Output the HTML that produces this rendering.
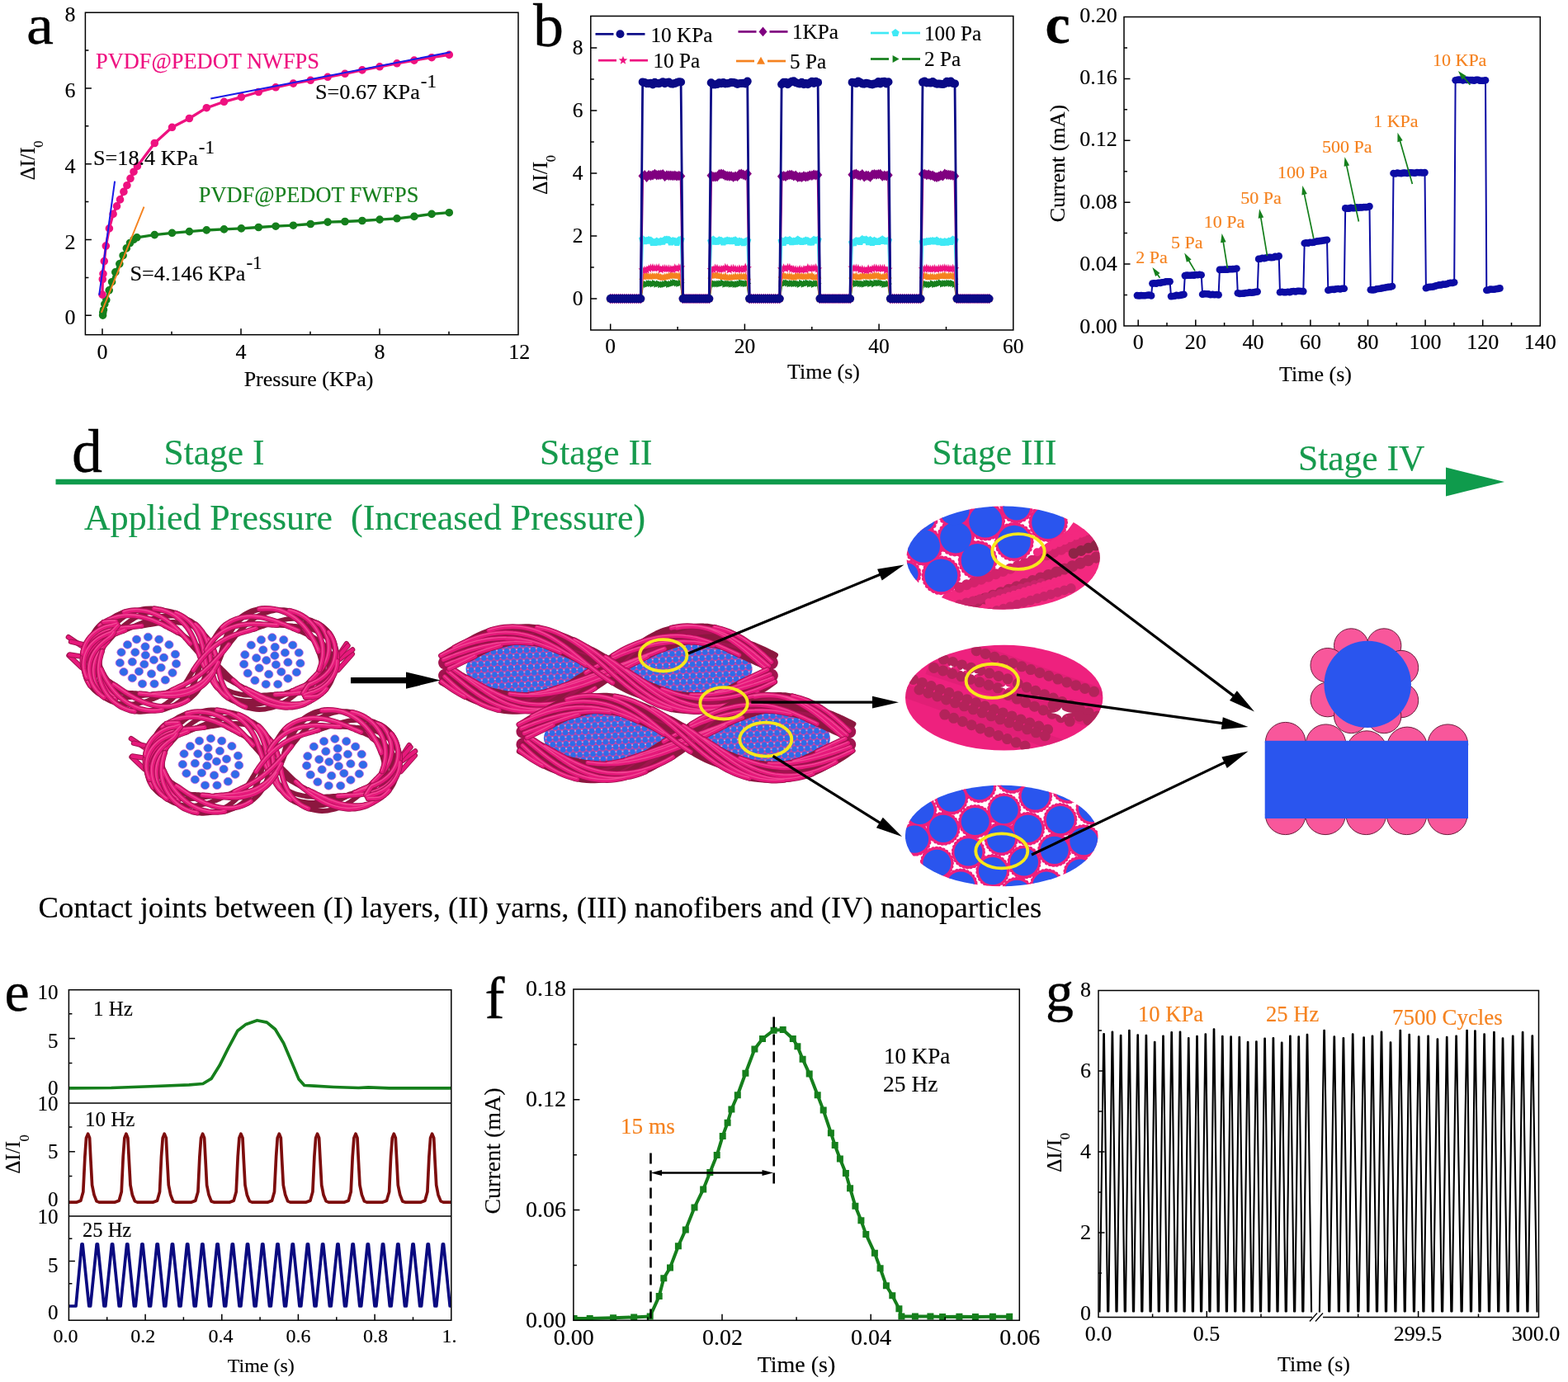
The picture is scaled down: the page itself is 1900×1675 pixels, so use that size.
<!DOCTYPE html>
<html lang="en"><head><meta charset="utf-8"><title>Figure</title>
<style>html,body{margin:0;padding:0;background:#fff}body{width:1900px;height:1675px}svg{display:block}text{font-family:"Liberation Serif","DejaVu Serif",serif;white-space:pre}</style>
</head><body>
<svg width="1900" height="1675" viewBox="0 0 1900 1675">
<rect width="1900" height="1675" fill="#fff"/>
<g id="pa">
<polyline points="124.6,382.1 124.8,378.7 125.5,375.4 126.8,368.6 128.8,363.6 132.2,351.8 135.6,341.7 139.8,329.9 144.8,319.8 149.1,309.7 153.3,300.9 157.5,294.5 162,290.3 165.9,287.8 187.3,284.6 208.5,282.3 229.4,280.6 250.3,278.9 271.5,277.9 292.4,276.9 313.3,275.5 334.1,274.2 355.4,273.2 376.3,271.5 397.1,269.1 418,268.5 438.9,267.5 460.1,266.1 481,264.8 501.9,262.4 523.1,259.4 544.3,257.7" fill="none" stroke="#157f1c" stroke-width="3.3" stroke-linejoin="round" />
<path d="M124.6 382.1m-4.8 0a4.8 4.8 0 1 0 9.6 0a4.8 4.8 0 1 0 -9.6 0M124.8 378.7m-4.8 0a4.8 4.8 0 1 0 9.6 0a4.8 4.8 0 1 0 -9.6 0M125.5 375.4m-4.8 0a4.8 4.8 0 1 0 9.6 0a4.8 4.8 0 1 0 -9.6 0M126.8 368.6m-4.8 0a4.8 4.8 0 1 0 9.6 0a4.8 4.8 0 1 0 -9.6 0M128.8 363.6m-4.8 0a4.8 4.8 0 1 0 9.6 0a4.8 4.8 0 1 0 -9.6 0M132.2 351.8m-4.8 0a4.8 4.8 0 1 0 9.6 0a4.8 4.8 0 1 0 -9.6 0M135.6 341.7m-4.8 0a4.8 4.8 0 1 0 9.6 0a4.8 4.8 0 1 0 -9.6 0M139.8 329.9m-4.8 0a4.8 4.8 0 1 0 9.6 0a4.8 4.8 0 1 0 -9.6 0M144.8 319.8m-4.8 0a4.8 4.8 0 1 0 9.6 0a4.8 4.8 0 1 0 -9.6 0M149.1 309.7m-4.8 0a4.8 4.8 0 1 0 9.6 0a4.8 4.8 0 1 0 -9.6 0M153.3 300.9m-4.8 0a4.8 4.8 0 1 0 9.6 0a4.8 4.8 0 1 0 -9.6 0M157.5 294.5m-4.8 0a4.8 4.8 0 1 0 9.6 0a4.8 4.8 0 1 0 -9.6 0M162 290.3m-4.8 0a4.8 4.8 0 1 0 9.6 0a4.8 4.8 0 1 0 -9.6 0M165.9 287.8m-4.8 0a4.8 4.8 0 1 0 9.6 0a4.8 4.8 0 1 0 -9.6 0M187.3 284.6m-4.8 0a4.8 4.8 0 1 0 9.6 0a4.8 4.8 0 1 0 -9.6 0M208.5 282.3m-4.8 0a4.8 4.8 0 1 0 9.6 0a4.8 4.8 0 1 0 -9.6 0M229.4 280.6m-4.8 0a4.8 4.8 0 1 0 9.6 0a4.8 4.8 0 1 0 -9.6 0M250.3 278.9m-4.8 0a4.8 4.8 0 1 0 9.6 0a4.8 4.8 0 1 0 -9.6 0M271.5 277.9m-4.8 0a4.8 4.8 0 1 0 9.6 0a4.8 4.8 0 1 0 -9.6 0M292.4 276.9m-4.8 0a4.8 4.8 0 1 0 9.6 0a4.8 4.8 0 1 0 -9.6 0M313.3 275.5m-4.8 0a4.8 4.8 0 1 0 9.6 0a4.8 4.8 0 1 0 -9.6 0M334.1 274.2m-4.8 0a4.8 4.8 0 1 0 9.6 0a4.8 4.8 0 1 0 -9.6 0M355.4 273.2m-4.8 0a4.8 4.8 0 1 0 9.6 0a4.8 4.8 0 1 0 -9.6 0M376.3 271.5m-4.8 0a4.8 4.8 0 1 0 9.6 0a4.8 4.8 0 1 0 -9.6 0M397.1 269.1m-4.8 0a4.8 4.8 0 1 0 9.6 0a4.8 4.8 0 1 0 -9.6 0M418 268.5m-4.8 0a4.8 4.8 0 1 0 9.6 0a4.8 4.8 0 1 0 -9.6 0M438.9 267.5m-4.8 0a4.8 4.8 0 1 0 9.6 0a4.8 4.8 0 1 0 -9.6 0M460.1 266.1m-4.8 0a4.8 4.8 0 1 0 9.6 0a4.8 4.8 0 1 0 -9.6 0M481 264.8m-4.8 0a4.8 4.8 0 1 0 9.6 0a4.8 4.8 0 1 0 -9.6 0M501.9 262.4m-4.8 0a4.8 4.8 0 1 0 9.6 0a4.8 4.8 0 1 0 -9.6 0M523.1 259.4m-4.8 0a4.8 4.8 0 1 0 9.6 0a4.8 4.8 0 1 0 -9.6 0M544.3 257.7m-4.8 0a4.8 4.8 0 1 0 9.6 0a4.8 4.8 0 1 0 -9.6 0" fill="#157f1c"/>
<polyline points="124,357.1 124.3,338.5 125,331.8 126.3,316.6 128.3,298.1 132.4,276.9 137.1,259.4 141.5,249.9 145.5,241.9 149.9,232.4 153.9,224.7 158,216.3 162,208.2 166.4,201.4 187.3,173.5 208.5,154.3 229.4,143.5 250.3,130.7 271.5,123.3 292.4,117.6 313.3,111.5 334.1,105.8 355.4,101.1 376.3,97.3 397.1,93.3 418,89.3 438.9,84.9 460.1,80.8 481,76.8 501.9,73.1 523.1,69.7 544.3,66.4" fill="none" stroke="#ee1180" stroke-width="3.3" stroke-linejoin="round" />
<path d="M124 357.1m-4.8 0a4.8 4.8 0 1 0 9.6 0a4.8 4.8 0 1 0 -9.6 0M124.3 338.5m-4.8 0a4.8 4.8 0 1 0 9.6 0a4.8 4.8 0 1 0 -9.6 0M125 331.8m-4.8 0a4.8 4.8 0 1 0 9.6 0a4.8 4.8 0 1 0 -9.6 0M126.3 316.6m-4.8 0a4.8 4.8 0 1 0 9.6 0a4.8 4.8 0 1 0 -9.6 0M128.3 298.1m-4.8 0a4.8 4.8 0 1 0 9.6 0a4.8 4.8 0 1 0 -9.6 0M132.4 276.9m-4.8 0a4.8 4.8 0 1 0 9.6 0a4.8 4.8 0 1 0 -9.6 0M137.1 259.4m-4.8 0a4.8 4.8 0 1 0 9.6 0a4.8 4.8 0 1 0 -9.6 0M141.5 249.9m-4.8 0a4.8 4.8 0 1 0 9.6 0a4.8 4.8 0 1 0 -9.6 0M145.5 241.9m-4.8 0a4.8 4.8 0 1 0 9.6 0a4.8 4.8 0 1 0 -9.6 0M149.9 232.4m-4.8 0a4.8 4.8 0 1 0 9.6 0a4.8 4.8 0 1 0 -9.6 0M153.9 224.7m-4.8 0a4.8 4.8 0 1 0 9.6 0a4.8 4.8 0 1 0 -9.6 0M158 216.3m-4.8 0a4.8 4.8 0 1 0 9.6 0a4.8 4.8 0 1 0 -9.6 0M162 208.2m-4.8 0a4.8 4.8 0 1 0 9.6 0a4.8 4.8 0 1 0 -9.6 0M166.4 201.4m-4.8 0a4.8 4.8 0 1 0 9.6 0a4.8 4.8 0 1 0 -9.6 0M187.3 173.5m-4.8 0a4.8 4.8 0 1 0 9.6 0a4.8 4.8 0 1 0 -9.6 0M208.5 154.3m-4.8 0a4.8 4.8 0 1 0 9.6 0a4.8 4.8 0 1 0 -9.6 0M229.4 143.5m-4.8 0a4.8 4.8 0 1 0 9.6 0a4.8 4.8 0 1 0 -9.6 0M250.3 130.7m-4.8 0a4.8 4.8 0 1 0 9.6 0a4.8 4.8 0 1 0 -9.6 0M271.5 123.3m-4.8 0a4.8 4.8 0 1 0 9.6 0a4.8 4.8 0 1 0 -9.6 0M292.4 117.6m-4.8 0a4.8 4.8 0 1 0 9.6 0a4.8 4.8 0 1 0 -9.6 0M313.3 111.5m-4.8 0a4.8 4.8 0 1 0 9.6 0a4.8 4.8 0 1 0 -9.6 0M334.1 105.8m-4.8 0a4.8 4.8 0 1 0 9.6 0a4.8 4.8 0 1 0 -9.6 0M355.4 101.1m-4.8 0a4.8 4.8 0 1 0 9.6 0a4.8 4.8 0 1 0 -9.6 0M376.3 97.3m-4.8 0a4.8 4.8 0 1 0 9.6 0a4.8 4.8 0 1 0 -9.6 0M397.1 93.3m-4.8 0a4.8 4.8 0 1 0 9.6 0a4.8 4.8 0 1 0 -9.6 0M418 89.3m-4.8 0a4.8 4.8 0 1 0 9.6 0a4.8 4.8 0 1 0 -9.6 0M438.9 84.9m-4.8 0a4.8 4.8 0 1 0 9.6 0a4.8 4.8 0 1 0 -9.6 0M460.1 80.8m-4.8 0a4.8 4.8 0 1 0 9.6 0a4.8 4.8 0 1 0 -9.6 0M481 76.8m-4.8 0a4.8 4.8 0 1 0 9.6 0a4.8 4.8 0 1 0 -9.6 0M501.9 73.1m-4.8 0a4.8 4.8 0 1 0 9.6 0a4.8 4.8 0 1 0 -9.6 0M523.1 69.7m-4.8 0a4.8 4.8 0 1 0 9.6 0a4.8 4.8 0 1 0 -9.6 0M544.3 66.4m-4.8 0a4.8 4.8 0 1 0 9.6 0a4.8 4.8 0 1 0 -9.6 0" fill="#ee1180"/>
<line x1="120.2" y1="357.7" x2="139.1" y2="219.6" stroke="#1a1ae6" stroke-width="2.0" />
<line x1="255.3" y1="119.6" x2="545.7" y2="63.3" stroke="#1a1ae6" stroke-width="2.0" />
<line x1="122.9" y1="378.9" x2="174.5" y2="250.6" stroke="#f5821f" stroke-width="1.9" />
<rect x="103.4" y="15.2" width="524.6" height="390.5" fill="none" stroke="#000" stroke-width="1.5"/>
<path d="M124 405.7v-7.5M292 405.7v-7.5M460 405.7v-7.5" stroke="#000" stroke-width="1.5" fill="none"/>
<path d="M208 405.7v-4M376 405.7v-4M544 405.7v-4" stroke="#000" stroke-width="1.5" fill="none"/>
<path d="M103.4 382.3h7.5M103.4 290.5h7.5M103.4 198.7h7.5M103.4 106.9h7.5" stroke="#000" stroke-width="1.5" fill="none"/>
<path d="M103.4 336.4h4M103.4 244.6h4M103.4 152.8h4M103.4 61h4" stroke="#000" stroke-width="1.5" fill="none"/>
<text x="124" y="434.5" font-size="26" fill="#000" text-anchor="middle" stroke="#000" stroke-width="0.15" >0</text>
<text x="292" y="434.5" font-size="26" fill="#000" text-anchor="middle" stroke="#000" stroke-width="0.15" >4</text>
<text x="460" y="434.5" font-size="26" fill="#000" text-anchor="middle" stroke="#000" stroke-width="0.15" >8</text>
<text x="629.2" y="434.5" font-size="26" fill="#000" text-anchor="middle" stroke="#000" stroke-width="0.15" >12</text>
<text x="91.6" y="393.3" font-size="26" fill="#000" text-anchor="end" stroke="#000" stroke-width="0.15" >0</text>
<text x="91.6" y="301.5" font-size="26" fill="#000" text-anchor="end" stroke="#000" stroke-width="0.15" >2</text>
<text x="91.6" y="209.7" font-size="26" fill="#000" text-anchor="end" stroke="#000" stroke-width="0.15" >4</text>
<text x="91.6" y="117.9" font-size="26" fill="#000" text-anchor="end" stroke="#000" stroke-width="0.15" >6</text>
<text x="91.6" y="26.1" font-size="26" fill="#000" text-anchor="end" stroke="#000" stroke-width="0.15" >8</text>
<text x="374" y="468" font-size="26" fill="#000" text-anchor="middle" stroke="#000" stroke-width="0.15" >Pressure (KPa)</text>
<text transform="translate(42.3 194.5) rotate(-90)" font-size="25.5" fill="#000" stroke="#000" stroke-width="0.15" text-anchor="middle">ΔI/I<tspan font-size="16.5" dy="10" dx="-0.5">0</tspan></text>
<text x="32" y="52.5" font-size="68" fill="#000" text-anchor="start" stroke="#000" stroke-width="0.3" textLength="33" lengthAdjust="spacingAndGlyphs">a</text>
<text x="116" y="82.5" font-size="26.4" fill="#ee1180" text-anchor="start" stroke="#ee1180" stroke-width="0.15" >PVDF@PEDOT NWFPS</text>
<text x="240.8" y="245" font-size="26.4" fill="#157f1c" text-anchor="start" stroke="#157f1c" stroke-width="0.15" >PVDF@PEDOT FWFPS</text>
<text x="382" y="119.5" font-size="26.2" fill="#000" text-anchor="start" stroke="#000" stroke-width="0.15" >S=0.67 KPa<tspan dy="-13.5" dx="1" font-size="23">-1</tspan></text>
<text x="113" y="199.5" font-size="26.2" fill="#000" text-anchor="start" stroke="#000" stroke-width="0.15" >S=18.4 KPa<tspan dy="-13.5" dx="1" font-size="23">-1</tspan></text>
<text x="157.5" y="339.5" font-size="26.2" fill="#000" text-anchor="start" stroke="#000" stroke-width="0.15" >S=4.146 KPa<tspan dy="-13.5" dx="1" font-size="23">-1</tspan></text>
</g>
<g id="pb">
<defs><marker id="mrtri" markerWidth="16" markerHeight="16" refX="8" refY="8" markerUnits="userSpaceOnUse"><path d="M4.6 3.6L12.6 8L4.6 12.4z" fill="#157f1c"/></marker><marker id="mtri" markerWidth="16" markerHeight="16" refX="8" refY="8" markerUnits="userSpaceOnUse"><path d="M3.6 11.4L8 3.4L12.4 11.4z" fill="#f5821f"/></marker><marker id="mstar" markerWidth="16" markerHeight="16" refX="8" refY="8" markerUnits="userSpaceOnUse"><path d="M8 2.5L9.3 6.1L13.3 6.3L10.2 8.7L11.2 12.5L8 10.3L4.8 12.5L5.8 8.7L2.7 6.3L6.7 6.1z" fill="#ee1180"/></marker><marker id="mpent" markerWidth="16" markerHeight="16" refX="8" refY="8" markerUnits="userSpaceOnUse"><path d="M8 3L12.7 6.5L10.9 12L5.1 12L3.3 6.5z" fill="#3fe9f5"/></marker><marker id="mdia" markerWidth="16" markerHeight="16" refX="8" refY="8" markerUnits="userSpaceOnUse"><path d="M2.8 8l5.2 -6.2l5.2 6.2l-5.2 6.2z" fill="#800080"/></marker><marker id="mcirc" markerWidth="16" markerHeight="16" refX="8" refY="8" markerUnits="userSpaceOnUse"><path d="M3 8a5 5 0 1 0 10 0a5 5 0 1 0 -10 0z" fill="#0a0a86"/></marker></defs>
<polyline points="739.7,362 742.1,362 744.6,362 747,362 749.5,362 751.9,362 754.3,362 756.8,362 759.2,362 761.7,362 764.1,362 766.5,362 769,362 771.4,362 773.9,362 776.3,362 778.7,344.9 781.2,343.9 783.6,344.7 786.1,343.6 788.5,343.7 791,344.1 793.4,343.3 795.8,344.3 798.3,343.8 800.7,344.8 803.2,344.9 805.6,344.4 808,343.5 810.5,344.6 812.9,344.2 815.4,343.2 817.8,342.5 820.2,343.2 822.7,343.7 825.1,342.8 827.6,362 830,362 832.4,362 834.9,362 837.3,362 839.8,362 842.2,362 844.6,362 847.1,362 849.5,362 852,362 854.4,362 856.8,362 859.3,362 861.7,345 864.2,343.3 866.6,344.1 869,344.1 871.5,344 873.9,343.7 876.4,342.9 878.8,344.3 881.2,343.8 883.7,343.9 886.1,344.4 888.6,344.1 891,344.7 893.5,344.5 895.9,344 898.3,343 900.8,343.5 903.2,343.8 905.7,343.5 908.1,362 910.5,362 913,362 915.4,362 917.9,362 920.3,362 922.7,362 925.2,362 927.6,362 930.1,362 932.5,362 934.9,362 937.4,362 939.8,362 942.3,362 944.7,362 947.1,343.8 949.6,343.8 952,342.8 954.5,343 956.9,343.9 959.3,343.5 961.8,343.9 964.2,343.5 966.7,343.8 969.1,344.5 971.5,343.1 974,344.4 976.4,343.6 978.9,342.9 981.3,344 983.8,343.5 986.2,344.5 988.6,343.6 991.1,343.7 993.5,362 996,362 998.4,362 1000.8,362 1003.3,362 1005.7,362 1008.2,362 1010.6,362 1013,362 1015.5,362 1017.9,362 1020.4,362 1022.8,362 1025.2,362 1027.7,362 1030.1,362 1032.6,343.2 1035,342.6 1037.4,343.8 1039.9,343.3 1042.3,343.8 1044.8,344 1047.2,344.3 1049.6,343.5 1052.1,343.2 1054.5,343.8 1057,343.2 1059.4,344.1 1061.8,342.9 1064.3,343.2 1066.7,342.8 1069.2,343.3 1071.6,344.5 1074,344.4 1076.5,343.9 1078.9,362 1081.4,362 1083.8,362 1086.3,362 1088.7,362 1091.1,362 1093.6,362 1096,362 1098.5,362 1100.9,362 1103.3,362 1105.8,362 1108.2,362 1110.7,362 1113.1,362 1115.5,362 1118,344.3 1120.4,343.7 1122.9,344.5 1125.3,344.8 1127.7,345 1130.2,343.7 1132.6,344.7 1135.1,344.2 1137.5,343.7 1139.9,342.7 1142.4,344.1 1144.8,343.5 1147.3,343.6 1149.7,343.2 1152.1,343.5 1154.6,343.5 1157,344.6 1159.5,362 1161.9,362 1164.3,362 1166.8,362 1169.2,362 1171.7,362 1174.1,362 1176.5,362 1179,362 1181.4,362 1183.9,362 1186.3,362 1188.8,362 1191.2,362 1193.6,362 1196.1,362 1198.5,362" fill="none" stroke="#157f1c" stroke-width="2.8" stroke-linejoin="round" marker-start="url(#mrtri)" marker-mid="url(#mrtri)" marker-end="url(#mrtri)"/>
<polyline points="739.7,362 742.1,362 744.6,362 747,362 749.5,362 751.9,362 754.3,362 756.8,362 759.2,362 761.7,362 764.1,362 766.5,362 769,362 771.4,362 773.9,362 776.3,362 778.7,335.4 781.2,334 783.6,333.5 786.1,335 788.5,334.8 791,334.7 793.4,334.9 795.8,334.6 798.3,334.7 800.7,335.7 803.2,336.3 805.6,335.3 808,335.2 810.5,334.4 812.9,333.2 815.4,333.7 817.8,334.1 820.2,334 822.7,334.2 825.1,335.9 827.6,362 830,362 832.4,362 834.9,362 837.3,362 839.8,362 842.2,362 844.6,362 847.1,362 849.5,362 852,362 854.4,362 856.8,362 859.3,362 861.7,334 864.2,333.9 866.6,333.4 869,333.4 871.5,334.3 873.9,334.5 876.4,335.5 878.8,334.6 881.2,336.1 883.7,336.2 886.1,335.8 888.6,335.7 891,334.9 893.5,335.3 895.9,335.2 898.3,334.9 900.8,335.2 903.2,334.9 905.7,335.9 908.1,362 910.5,362 913,362 915.4,362 917.9,362 920.3,362 922.7,362 925.2,362 927.6,362 930.1,362 932.5,362 934.9,362 937.4,362 939.8,362 942.3,362 944.7,362 947.1,333.4 949.6,333.8 952,334.9 954.5,334.8 956.9,334.9 959.3,335.2 961.8,336 964.2,334.4 966.7,334 969.1,335 971.5,334.6 974,335.2 976.4,335 978.9,334.4 981.3,334.8 983.8,333.8 986.2,335.6 988.6,336.2 991.1,334.2 993.5,362 996,362 998.4,362 1000.8,362 1003.3,362 1005.7,362 1008.2,362 1010.6,362 1013,362 1015.5,362 1017.9,362 1020.4,362 1022.8,362 1025.2,362 1027.7,362 1030.1,362 1032.6,334 1035,335 1037.4,334.4 1039.9,335.9 1042.3,335 1044.8,334.1 1047.2,334.3 1049.6,334.5 1052.1,335.2 1054.5,334.6 1057,334.9 1059.4,333.5 1061.8,334.2 1064.3,333.9 1066.7,335.2 1069.2,335.7 1071.6,334.5 1074,334 1076.5,334.1 1078.9,362 1081.4,362 1083.8,362 1086.3,362 1088.7,362 1091.1,362 1093.6,362 1096,362 1098.5,362 1100.9,362 1103.3,362 1105.8,362 1108.2,362 1110.7,362 1113.1,362 1115.5,362 1118,333.8 1120.4,334.1 1122.9,334.5 1125.3,335.8 1127.7,335.1 1130.2,335.3 1132.6,335.7 1135.1,335.4 1137.5,334.6 1139.9,334.6 1142.4,333.8 1144.8,333.4 1147.3,334.9 1149.7,334.1 1152.1,334.1 1154.6,334.1 1157,335.3 1159.5,362 1161.9,362 1164.3,362 1166.8,362 1169.2,362 1171.7,362 1174.1,362 1176.5,362 1179,362 1181.4,362 1183.9,362 1186.3,362 1188.8,362 1191.2,362 1193.6,362 1196.1,362 1198.5,362" fill="none" stroke="#f5821f" stroke-width="2.8" stroke-linejoin="round" marker-start="url(#mtri)" marker-mid="url(#mtri)" marker-end="url(#mtri)"/>
<polyline points="739.7,362 742.1,362 744.6,362 747,362 749.5,362 751.9,362 754.3,362 756.8,362 759.2,362 761.7,362 764.1,362 766.5,362 769,362 771.4,362 773.9,362 776.3,362 778.7,327.2 781.2,327.4 783.6,327.3 786.1,325.8 788.5,324.7 791,324.5 793.4,325.3 795.8,324.8 798.3,324.6 800.7,326.9 803.2,325.7 805.6,325.4 808,325.8 810.5,325.8 812.9,326.2 815.4,326.7 817.8,324.7 820.2,325.7 822.7,324.4 825.1,324.2 827.6,362 830,362 832.4,362 834.9,362 837.3,362 839.8,362 842.2,362 844.6,362 847.1,362 849.5,362 852,362 854.4,362 856.8,362 859.3,362 861.7,326.9 864.2,326.8 866.6,325 869,325.2 871.5,326.4 873.9,326.3 876.4,326.2 878.8,324.3 881.2,324.9 883.7,327.1 886.1,325.6 888.6,325.3 891,326.1 893.5,326.6 895.9,325.7 898.3,326.5 900.8,326.6 903.2,323.9 905.7,325 908.1,362 910.5,362 913,362 915.4,362 917.9,362 920.3,362 922.7,362 925.2,362 927.6,362 930.1,362 932.5,362 934.9,362 937.4,362 939.8,362 942.3,362 944.7,362 947.1,326.2 949.6,324.7 952,325.7 954.5,324.2 956.9,324.3 959.3,326.2 961.8,326.4 964.2,326.7 966.7,327.2 969.1,326.3 971.5,327.2 974,326.5 976.4,326.9 978.9,324.4 981.3,325.7 983.8,325.3 986.2,325.2 988.6,324.6 991.1,326.3 993.5,362 996,362 998.4,362 1000.8,362 1003.3,362 1005.7,362 1008.2,362 1010.6,362 1013,362 1015.5,362 1017.9,362 1020.4,362 1022.8,362 1025.2,362 1027.7,362 1030.1,362 1032.6,324.4 1035,325.3 1037.4,325.1 1039.9,325.3 1042.3,327 1044.8,326.3 1047.2,327.3 1049.6,327.9 1052.1,325.7 1054.5,327.2 1057,326 1059.4,324.9 1061.8,325.1 1064.3,325.7 1066.7,325.3 1069.2,325.6 1071.6,325.3 1074,327.5 1076.5,326.4 1078.9,362 1081.4,362 1083.8,362 1086.3,362 1088.7,362 1091.1,362 1093.6,362 1096,362 1098.5,362 1100.9,362 1103.3,362 1105.8,362 1108.2,362 1110.7,362 1113.1,362 1115.5,362 1118,325.9 1120.4,326 1122.9,325 1125.3,326.1 1127.7,326.2 1130.2,325.9 1132.6,325.4 1135.1,326.4 1137.5,325.6 1139.9,325.5 1142.4,325.2 1144.8,324.7 1147.3,325.5 1149.7,325.6 1152.1,326.1 1154.6,325.2 1157,326 1159.5,362 1161.9,362 1164.3,362 1166.8,362 1169.2,362 1171.7,362 1174.1,362 1176.5,362 1179,362 1181.4,362 1183.9,362 1186.3,362 1188.8,362 1191.2,362 1193.6,362 1196.1,362 1198.5,362" fill="none" stroke="#ee1180" stroke-width="2.8" stroke-linejoin="round" marker-start="url(#mstar)" marker-mid="url(#mstar)" marker-end="url(#mstar)"/>
<polyline points="739.7,362 742.1,362 744.6,362 747,362 749.5,362 751.9,362 754.3,362 756.8,362 759.2,362 761.7,362 764.1,362 766.5,362 769,362 771.4,362 773.9,362 776.3,362 778.7,289.9 781.2,292.3 783.6,291.7 786.1,291 788.5,291.6 791,294 793.4,294 795.8,292.6 798.3,293.4 800.7,292.4 803.2,292.7 805.6,290.8 808,290.6 810.5,290.7 812.9,293.5 815.4,292 817.8,292.4 820.2,293.9 822.7,291.2 825.1,290.5 827.6,362 830,362 832.4,362 834.9,362 837.3,362 839.8,362 842.2,362 844.6,362 847.1,362 849.5,362 852,362 854.4,362 856.8,362 859.3,362 861.7,292.4 864.2,290.5 866.6,292.7 869,292.8 871.5,291.3 873.9,291.7 876.4,293.6 878.8,292.3 881.2,291.6 883.7,291.9 886.1,292.3 888.6,292.1 891,291.2 893.5,293.9 895.9,292.5 898.3,293.1 900.8,294.3 903.2,293 905.7,291.7 908.1,362 910.5,362 913,362 915.4,362 917.9,362 920.3,362 922.7,362 925.2,362 927.6,362 930.1,362 932.5,362 934.9,362 937.4,362 939.8,362 942.3,362 944.7,362 947.1,292.3 949.6,294.1 952,291.3 954.5,291.9 956.9,291 959.3,293.3 961.8,292.4 964.2,292.8 966.7,290.4 969.1,292.2 971.5,293 974,292.6 976.4,291.4 978.9,291.9 981.3,293.6 983.8,293.6 986.2,290.7 988.6,291.4 991.1,290.7 993.5,362 996,362 998.4,362 1000.8,362 1003.3,362 1005.7,362 1008.2,362 1010.6,362 1013,362 1015.5,362 1017.9,362 1020.4,362 1022.8,362 1025.2,362 1027.7,362 1030.1,362 1032.6,294.2 1035,294.2 1037.4,291.9 1039.9,292.3 1042.3,293 1044.8,290 1047.2,290.9 1049.6,290.5 1052.1,293.2 1054.5,291.1 1057,294 1059.4,291.7 1061.8,293 1064.3,293.1 1066.7,291.9 1069.2,290.3 1071.6,292.1 1074,292.5 1076.5,291.4 1078.9,362 1081.4,362 1083.8,362 1086.3,362 1088.7,362 1091.1,362 1093.6,362 1096,362 1098.5,362 1100.9,362 1103.3,362 1105.8,362 1108.2,362 1110.7,362 1113.1,362 1115.5,362 1118,293.4 1120.4,293.4 1122.9,292.8 1125.3,292.8 1127.7,292.2 1130.2,292 1132.6,292.4 1135.1,291.4 1137.5,293.3 1139.9,292.9 1142.4,293.9 1144.8,293.1 1147.3,293.7 1149.7,292.5 1152.1,292.9 1154.6,290.5 1157,291.3 1159.5,362 1161.9,362 1164.3,362 1166.8,362 1169.2,362 1171.7,362 1174.1,362 1176.5,362 1179,362 1181.4,362 1183.9,362 1186.3,362 1188.8,362 1191.2,362 1193.6,362 1196.1,362 1198.5,362" fill="none" stroke="#3fe9f5" stroke-width="2.8" stroke-linejoin="round" marker-start="url(#mpent)" marker-mid="url(#mpent)" marker-end="url(#mpent)"/>
<polyline points="739.7,362 742.1,362 744.6,362 747,362 749.5,362 751.9,362 754.3,362 756.8,362 759.2,362 761.7,362 764.1,362 766.5,362 769,362 771.4,362 773.9,362 776.3,362 778.7,213.3 781.2,212.1 783.6,214.7 786.1,212.1 788.5,212.9 791,212.3 793.4,210.9 795.8,212.2 798.3,212 800.7,211.8 803.2,211.3 805.6,213.7 808,212.4 810.5,212.7 812.9,212.7 815.4,213 817.8,212.7 820.2,213.4 822.7,213 825.1,213.4 827.6,362 830,362 832.4,362 834.9,362 837.3,362 839.8,362 842.2,362 844.6,362 847.1,362 849.5,362 852,362 854.4,362 856.8,362 859.3,362 861.7,212.7 864.2,214.2 866.6,214.2 869,214 871.5,211.2 873.9,210.8 876.4,211.3 878.8,212.7 881.2,213.2 883.7,213.5 886.1,213.4 888.6,214.5 891,213.6 893.5,213.9 895.9,211.3 898.3,210.8 900.8,211.8 903.2,212.7 905.7,210.5 908.1,362 910.5,362 913,362 915.4,362 917.9,362 920.3,362 922.7,362 925.2,362 927.6,362 930.1,362 932.5,362 934.9,362 937.4,362 939.8,362 942.3,362 944.7,362 947.1,213.8 949.6,213.2 952,213.9 954.5,212.4 956.9,211.9 959.3,212 961.8,213.3 964.2,212.8 966.7,214.8 969.1,214.2 971.5,214.7 974,213.5 976.4,214.2 978.9,213.8 981.3,212.6 983.8,212.7 986.2,211.7 988.6,212.2 991.1,212 993.5,362 996,362 998.4,362 1000.8,362 1003.3,362 1005.7,362 1008.2,362 1010.6,362 1013,362 1015.5,362 1017.9,362 1020.4,362 1022.8,362 1025.2,362 1027.7,362 1030.1,362 1032.6,211.8 1035,211.3 1037.4,210.7 1039.9,212.3 1042.3,212.9 1044.8,211.2 1047.2,214.3 1049.6,212.7 1052.1,213 1054.5,214.6 1057,211.7 1059.4,211.1 1061.8,211.6 1064.3,211.1 1066.7,211 1069.2,213.5 1071.6,212.7 1074,213.2 1076.5,212.3 1078.9,362 1081.4,362 1083.8,362 1086.3,362 1088.7,362 1091.1,362 1093.6,362 1096,362 1098.5,362 1100.9,362 1103.3,362 1105.8,362 1108.2,362 1110.7,362 1113.1,362 1115.5,362 1118,210.9 1120.4,210.9 1122.9,212 1125.3,211.5 1127.7,212.6 1130.2,212.8 1132.6,214.3 1135.1,214.7 1137.5,214 1139.9,212.8 1142.4,213.3 1144.8,210.8 1147.3,211.8 1149.7,211.9 1152.1,212.3 1154.6,212.6 1157,213.4 1159.5,362 1161.9,362 1164.3,362 1166.8,362 1169.2,362 1171.7,362 1174.1,362 1176.5,362 1179,362 1181.4,362 1183.9,362 1186.3,362 1188.8,362 1191.2,362 1193.6,362 1196.1,362 1198.5,362" fill="none" stroke="#800080" stroke-width="2.8" stroke-linejoin="round" marker-start="url(#mdia)" marker-mid="url(#mdia)" marker-end="url(#mdia)"/>
<polyline points="739.7,362 742.1,362 744.6,362 747,362 749.5,362 751.9,362 754.3,362 756.8,362 759.2,362 761.7,362 764.1,362 766.5,362 769,362 771.4,362 773.9,362 776.3,362 778.7,99.4 781.2,100 783.6,101.2 786.1,101.2 788.5,100.8 791,102.4 793.4,99.8 795.8,100.9 798.3,101.2 800.7,100.5 803.2,99.2 805.6,101.3 808,100 810.5,99.6 812.9,101.4 815.4,101.7 817.8,101.1 820.2,100 822.7,99.3 825.1,99.5 827.6,362 830,362 832.4,362 834.9,362 837.3,362 839.8,362 842.2,362 844.6,362 847.1,362 849.5,362 852,362 854.4,362 856.8,362 859.3,362 861.7,100.3 864.2,102.5 866.6,102.5 869,102.1 871.5,100.2 873.9,101.2 876.4,99.9 878.8,101.4 881.2,101.2 883.7,100.7 886.1,99.7 888.6,100.1 891,100.6 893.5,102 895.9,101.3 898.3,101.1 900.8,100.7 903.2,101.4 905.7,98.6 908.1,362 910.5,362 913,362 915.4,362 917.9,362 920.3,362 922.7,362 925.2,362 927.6,362 930.1,362 932.5,362 934.9,362 937.4,362 939.8,362 942.3,362 944.7,362 947.1,102.3 949.6,99.8 952,99.7 954.5,102.2 956.9,100.3 959.3,98.8 961.8,98.3 964.2,100.1 966.7,101 969.1,101.6 971.5,99.7 974,102.3 976.4,101.1 978.9,102.2 981.3,100.6 983.8,98.8 986.2,101 988.6,98.7 991.1,99.9 993.5,362 996,362 998.4,362 1000.8,362 1003.3,362 1005.7,362 1008.2,362 1010.6,362 1013,362 1015.5,362 1017.9,362 1020.4,362 1022.8,362 1025.2,362 1027.7,362 1030.1,362 1032.6,99.8 1035,100 1037.4,101.1 1039.9,98.6 1042.3,99.8 1044.8,101.4 1047.2,101.8 1049.6,100.7 1052.1,101.2 1054.5,102 1057,102.5 1059.4,101.6 1061.8,101.3 1064.3,99.1 1066.7,101.5 1069.2,99 1071.6,98.8 1074,101.4 1076.5,99.3 1078.9,362 1081.4,362 1083.8,362 1086.3,362 1088.7,362 1091.1,362 1093.6,362 1096,362 1098.5,362 1100.9,362 1103.3,362 1105.8,362 1108.2,362 1110.7,362 1113.1,362 1115.5,362 1118,99.6 1120.4,98.6 1122.9,100.4 1125.3,100.3 1127.7,100.6 1130.2,99.1 1132.6,100.8 1135.1,101.8 1137.5,101.6 1139.9,101.8 1142.4,102.1 1144.8,101.5 1147.3,98.8 1149.7,100.4 1152.1,98.5 1154.6,101 1157,101.4 1159.5,362 1161.9,362 1164.3,362 1166.8,362 1169.2,362 1171.7,362 1174.1,362 1176.5,362 1179,362 1181.4,362 1183.9,362 1186.3,362 1188.8,362 1191.2,362 1193.6,362 1196.1,362 1198.5,362" fill="none" stroke="#0a0a86" stroke-width="2.8" stroke-linejoin="round" marker-start="url(#mcirc)" marker-mid="url(#mcirc)" marker-end="url(#mcirc)"/>
<rect x="715.8" y="19.5" width="512" height="380.5" fill="none" stroke="#000" stroke-width="1.5"/>
<path d="M739.7 400v-7.5M902.4 400v-7.5M1065.1 400v-7.5" stroke="#000" stroke-width="1.5" fill="none"/>
<path d="M821.1 400v-4M983.8 400v-4M1146.5 400v-4" stroke="#000" stroke-width="1.5" fill="none"/>
<path d="M715.8 362h7.5M715.8 286h7.5M715.8 210h7.5M715.8 134h7.5M715.8 58h7.5" stroke="#000" stroke-width="1.5" fill="none"/>
<path d="M715.8 324h4M715.8 248h4M715.8 172h4M715.8 96h4" stroke="#000" stroke-width="1.5" fill="none"/>
<text x="739.7" y="428.2" font-size="25.5" fill="#000" text-anchor="middle" stroke="#000" stroke-width="0.15" >0</text>
<text x="902.4" y="428.2" font-size="25.5" fill="#000" text-anchor="middle" stroke="#000" stroke-width="0.15" >20</text>
<text x="1065.1" y="428.2" font-size="25.5" fill="#000" text-anchor="middle" stroke="#000" stroke-width="0.15" >40</text>
<text x="1227.8" y="428.2" font-size="25.5" fill="#000" text-anchor="middle" stroke="#000" stroke-width="0.15" >60</text>
<text x="706.5" y="370.4" font-size="25.5" fill="#000" text-anchor="end" stroke="#000" stroke-width="0.15" >0</text>
<text x="706.5" y="294.4" font-size="25.5" fill="#000" text-anchor="end" stroke="#000" stroke-width="0.15" >2</text>
<text x="706.5" y="218.4" font-size="25.5" fill="#000" text-anchor="end" stroke="#000" stroke-width="0.15" >4</text>
<text x="706.5" y="142.4" font-size="25.5" fill="#000" text-anchor="end" stroke="#000" stroke-width="0.15" >6</text>
<text x="706.5" y="66.4" font-size="25.5" fill="#000" text-anchor="end" stroke="#000" stroke-width="0.15" >8</text>
<text x="998" y="458.5" font-size="26" fill="#000" text-anchor="middle" stroke="#000" stroke-width="0.15" >Time (s)</text>
<text transform="translate(663 212) rotate(-90)" font-size="25.5" fill="#000" stroke="#000" stroke-width="0.15" text-anchor="middle">ΔI/I<tspan font-size="16.5" dy="9.5" dx="-0.5">0</tspan></text>
<text x="646" y="56.4" font-size="74" fill="#000" text-anchor="start" stroke="#000" stroke-width="0.3" >b</text>
<line x1="721.5" y1="41.3" x2="743.5" y2="41.3" stroke="#0a0a86" stroke-width="2.7" />
<line x1="759.5" y1="41.3" x2="781.5" y2="41.3" stroke="#0a0a86" stroke-width="2.7" />
<path d="M746.5 41.3a5 5 0 1 0 10 0a5 5 0 1 0 -10 0z" fill="#0a0a86" stroke="none" stroke-width="0" />
<text x="788.5" y="50.5" font-size="25.2" fill="#000" text-anchor="start" stroke="#000" stroke-width="0.15" >10 KPa</text>
<line x1="894.5" y1="38.4" x2="916.5" y2="38.4" stroke="#800080" stroke-width="2.7" />
<line x1="932.5" y1="38.4" x2="954.5" y2="38.4" stroke="#800080" stroke-width="2.7" />
<path d="M919.5 38.4l5 -5.9l5 5.9l-5 5.9z" fill="#800080" stroke="none" stroke-width="0" />
<text x="960" y="47" font-size="25.2" fill="#000" text-anchor="start" stroke="#000" stroke-width="0.15" >1KPa</text>
<line x1="1055" y1="40" x2="1077" y2="40" stroke="#3fe9f5" stroke-width="2.7" />
<line x1="1093" y1="40" x2="1115" y2="40" stroke="#3fe9f5" stroke-width="2.7" />
<path d="M1085 35L1089.7 38.5L1087.9 44L1082.1 44L1080.3 38.5z" fill="#3fe9f5" stroke="none" stroke-width="0" />
<text x="1120" y="48.8" font-size="25.2" fill="#000" text-anchor="start" stroke="#000" stroke-width="0.15" >100 Pa</text>
<line x1="725" y1="73.2" x2="747" y2="73.2" stroke="#ee1180" stroke-width="2.7" />
<line x1="763" y1="73.2" x2="785" y2="73.2" stroke="#ee1180" stroke-width="2.7" />
<path d="M755 67.7L756.3 71.3L760.3 71.5L757.2 73.9L758.2 77.7L755 75.5L751.8 77.7L752.8 73.9L749.7 71.5L753.7 71.3z" fill="#ee1180" stroke="none" stroke-width="0" />
<text x="791.5" y="82" font-size="25.2" fill="#000" text-anchor="start" stroke="#000" stroke-width="0.15" >10 Pa</text>
<line x1="892" y1="74" x2="914" y2="74" stroke="#f5821f" stroke-width="2.7" />
<line x1="930" y1="74" x2="952" y2="74" stroke="#f5821f" stroke-width="2.7" />
<path d="M917 77.8L922 68.8L927 77.8z" fill="#f5821f" stroke="none" stroke-width="0" />
<text x="957" y="82.5" font-size="25.2" fill="#000" text-anchor="start" stroke="#000" stroke-width="0.15" >5 Pa</text>
<line x1="1055" y1="71.5" x2="1077" y2="71.5" stroke="#157f1c" stroke-width="2.7" />
<line x1="1093" y1="71.5" x2="1115" y2="71.5" stroke="#157f1c" stroke-width="2.7" />
<path d="M1081.6 67.1L1089.6 71.5L1081.6 75.9z" fill="#157f1c" stroke="none" stroke-width="0" />
<text x="1120" y="80" font-size="25.2" fill="#000" text-anchor="start" stroke="#000" stroke-width="0.15" >2 Pa</text>
</g>
<g id="pc">
<defs><marker id="mcc" markerWidth="12" markerHeight="12" refX="6" refY="6" markerUnits="userSpaceOnUse"><circle cx="6" cy="6" r="4.3" fill="#0c0ca4"/></marker></defs>
<polyline points="1377.9,358.1 1380.3,358.4 1382.8,358.1 1385.3,358.3 1387.7,358.3 1390.2,357.7 1392.6,357.6 1395.1,358.4 1396.4,343.6 1398.8,343.3 1401.1,343.7 1403.5,342.8 1405.9,342.9 1408.2,342.2 1410.6,342 1412.9,341.2 1415.3,341.3 1417.6,341.2 1419,359.1 1421.2,359 1423.4,358.7 1425.6,357.9 1427.8,358.3 1430.1,357.9 1432.3,357.4 1434.5,356.9 1435.8,334.1 1438,333.6 1440.2,333.8 1442.5,333.8 1444.7,333.5 1446.9,333.6 1449.1,333 1451.3,333.3 1453.5,332.8 1455.7,333.2 1457.1,356.7 1459.5,356.1 1461.9,356.2 1464.4,356.4 1466.8,357.3 1469.3,356.9 1471.7,357.2 1474.1,357 1476.6,357.4 1477.9,326.9 1480.2,326.7 1482.5,326.7 1484.8,326.6 1487.1,326.7 1489.4,326.3 1491.6,326.3 1493.9,326.1 1496.2,326 1498.5,325.5 1499.8,355.3 1502.2,355.9 1504.6,355.8 1507,355.6 1509.4,355.1 1511.8,355 1514.2,354.4 1516.6,354.8 1519,354.4 1521.4,353.9 1523.7,353.5 1525.1,313.9 1527.3,313.8 1529.6,312.7 1531.8,313.1 1534,312.5 1536.3,312 1538.5,311.9 1540.7,312.1 1543,312 1545.2,310.9 1547.4,311.2 1549.7,310.4 1551,354.2 1553.4,353.7 1555.7,354.2 1558.1,354.2 1560.5,353.7 1562.8,354.1 1565.2,353.3 1567.5,353 1569.9,353.4 1572.3,352.8 1574.6,352.8 1577,353 1579.3,353.1 1580.7,294.7 1582.9,294.2 1585.2,294.7 1587.5,293.8 1589.8,294 1592,293.6 1594.3,292.7 1596.6,292.4 1598.9,292.1 1601.1,291.9 1603.4,291.5 1605.7,291.1 1608,290.8 1609.3,351.7 1611.7,351.1 1614.2,350.8 1616.6,350.9 1619.1,350.2 1621.5,350 1624,350.5 1626.4,349.8 1628.8,349.7 1630.2,252.4 1632.4,252.7 1634.7,252.6 1637,251.9 1639.2,252.3 1641.5,252.2 1643.7,251.4 1646,251.8 1648.2,251.4 1650.5,251.5 1652.7,251 1655,251.1 1657.2,251 1659.5,250.1 1660.8,351.2 1663.2,351.4 1665.6,351.3 1668,350.2 1670.4,350 1672.8,349.7 1675.2,349.1 1677.6,348.7 1680,348.3 1682.3,347.9 1684.7,347.7 1687.1,347 1688.5,210 1690.8,210.4 1693.2,209.5 1695.6,210 1698,210.1 1700.4,209.6 1702.7,209.5 1705.1,210 1707.5,209.4 1709.9,209.3 1712.3,209.5 1714.6,209.7 1717,209 1719.4,209.2 1721.8,209.1 1724.1,209.5 1726.5,209.1 1727.9,349.3 1730.2,348.1 1732.5,347.9 1734.7,347.7 1737,347.5 1739.3,346.6 1741.6,346 1743.9,345.4 1746.2,345.4 1748.5,344.6 1750.8,344.8 1753.1,344.3 1755.4,343.2 1757.7,342.9 1759.9,343 1762.2,342.3 1763.6,97.3 1765.9,96.8 1768.1,96.6 1770.4,96.8 1772.7,97.4 1774.9,96.8 1777.2,96.9 1779.5,97 1781.8,97.1 1784,97.1 1786.3,97.6 1788.6,96.9 1790.9,96.7 1793.1,97.7 1795.4,97.7 1797.7,97.8 1800,97.2 1801.3,351.7 1803.6,351.5 1805.9,350.5 1808.2,350.8 1810.5,350.7 1812.9,350.3 1815.2,349.9 1817.5,349.4" fill="none" stroke="#0c0ca4" stroke-width="2" stroke-linejoin="round" marker-start="url(#mcc)" marker-mid="url(#mcc)" marker-end="url(#mcc)"/>
<line x1="1405.5" y1="336.8" x2="1402.2" y2="332.2" stroke="#157f1c" stroke-width="1.7" />
<path d="M1396.4 324L1405.5 331.1L1400.1 334.9z" fill="#157f1c" stroke="none" stroke-width="0" />
<line x1="1448" y1="328.4" x2="1440.2" y2="315.2" stroke="#157f1c" stroke-width="1.7" />
<path d="M1435.2 306.5L1443.6 314.4L1437.9 317.7z" fill="#157f1c" stroke="none" stroke-width="0" />
<line x1="1487.4" y1="325.1" x2="1482.2" y2="292.8" stroke="#157f1c" stroke-width="1.7" />
<path d="M1480.6 282.9L1485.6 293.3L1479.1 294.3z" fill="#157f1c" stroke="none" stroke-width="0" />
<line x1="1535.5" y1="309.9" x2="1527.7" y2="263.2" stroke="#157f1c" stroke-width="1.7" />
<path d="M1526.1 253.3L1531.2 263.6L1524.7 264.7z" fill="#157f1c" stroke="none" stroke-width="0" />
<line x1="1591.8" y1="289" x2="1580.4" y2="234.8" stroke="#157f1c" stroke-width="1.7" />
<path d="M1578.3 225L1583.8 235.1L1577.4 236.5z" fill="#157f1c" stroke="none" stroke-width="0" />
<line x1="1646.4" y1="268.5" x2="1631.6" y2="200.1" stroke="#157f1c" stroke-width="1.7" />
<path d="M1629.5 190.3L1635.1 200.4L1628.6 201.8z" fill="#157f1c" stroke="none" stroke-width="0" />
<line x1="1711.4" y1="223" x2="1696.3" y2="170.3" stroke="#157f1c" stroke-width="1.7" />
<path d="M1693.5 160.7L1699.7 170.3L1693.4 172.2z" fill="#157f1c" stroke="none" stroke-width="0" />
<line x1="1781.4" y1="102.7" x2="1773.5" y2="93.5" stroke="#157f1c" stroke-width="1.7" />
<path d="M1766.9 85.9L1776.6 92.1L1771.6 96.4z" fill="#157f1c" stroke="none" stroke-width="0" />
<text x="1376.2" y="318.7" font-size="22" fill="#f5821f" text-anchor="start" stroke="#f5821f" stroke-width="0.15" >2 Pa</text>
<text x="1419" y="300.8" font-size="22" fill="#f5821f" text-anchor="start" stroke="#f5821f" stroke-width="0.15" >5 Pa</text>
<text x="1458.7" y="275.9" font-size="22" fill="#f5821f" text-anchor="start" stroke="#f5821f" stroke-width="0.15" >10 Pa</text>
<text x="1503.2" y="246.9" font-size="22" fill="#f5821f" text-anchor="start" stroke="#f5821f" stroke-width="0.15" >50 Pa</text>
<text x="1548" y="215.9" font-size="22" fill="#f5821f" text-anchor="start" stroke="#f5821f" stroke-width="0.15" >100 Pa</text>
<text x="1601.9" y="184.6" font-size="22" fill="#f5821f" text-anchor="start" stroke="#f5821f" stroke-width="0.15" >500 Pa</text>
<text x="1664.2" y="153.6" font-size="22" fill="#f5821f" text-anchor="start" stroke="#f5821f" stroke-width="0.15" >1 KPa</text>
<text x="1736" y="80.2" font-size="22" fill="#f5821f" text-anchor="start" stroke="#f5821f" stroke-width="0.15" >10 KPa</text>
<rect x="1362" y="20.5" width="504.3" height="374.5" fill="none" stroke="#000" stroke-width="1.5"/>
<path d="M1379.2 395v-7.5M1448.8 395v-7.5M1518.4 395v-7.5M1587.9 395v-7.5M1657.5 395v-7.5M1727.1 395v-7.5M1796.7 395v-7.5" stroke="#000" stroke-width="1.5" fill="none"/>
<path d="M1414 395v-4M1483.6 395v-4M1553.2 395v-4M1622.7 395v-4M1692.3 395v-4M1761.9 395v-4M1831.5 395v-4" stroke="#000" stroke-width="1.5" fill="none"/>
<path d="M1362 320.1h7.5M1362 245.2h7.5M1362 170.3h7.5M1362 95.4h7.5" stroke="#000" stroke-width="1.5" fill="none"/>
<path d="M1362 357.6h4M1362 282.6h4M1362 207.8h4M1362 132.8h4M1362 58h4" stroke="#000" stroke-width="1.5" fill="none"/>
<text x="1379.2" y="423.3" font-size="26" fill="#000" text-anchor="middle" stroke="#000" stroke-width="0.15" >0</text>
<text x="1448.8" y="423.3" font-size="26" fill="#000" text-anchor="middle" stroke="#000" stroke-width="0.15" >20</text>
<text x="1518.4" y="423.3" font-size="26" fill="#000" text-anchor="middle" stroke="#000" stroke-width="0.15" >40</text>
<text x="1587.9" y="423.3" font-size="26" fill="#000" text-anchor="middle" stroke="#000" stroke-width="0.15" >60</text>
<text x="1657.5" y="423.3" font-size="26" fill="#000" text-anchor="middle" stroke="#000" stroke-width="0.15" >80</text>
<text x="1727.1" y="423.3" font-size="26" fill="#000" text-anchor="middle" stroke="#000" stroke-width="0.15" >100</text>
<text x="1796.7" y="423.3" font-size="26" fill="#000" text-anchor="middle" stroke="#000" stroke-width="0.15" >120</text>
<text x="1866.3" y="423.3" font-size="26" fill="#000" text-anchor="middle" stroke="#000" stroke-width="0.15" >140</text>
<text x="1353.8" y="403.6" font-size="26" fill="#000" text-anchor="end" stroke="#000" stroke-width="0.15" >0.00</text>
<text x="1353.8" y="328.1" font-size="26" fill="#000" text-anchor="end" stroke="#000" stroke-width="0.15" >0.04</text>
<text x="1353.8" y="253.2" font-size="26" fill="#000" text-anchor="end" stroke="#000" stroke-width="0.15" >0.08</text>
<text x="1353.8" y="177.1" font-size="26" fill="#000" text-anchor="end" stroke="#000" stroke-width="0.15" >0.12</text>
<text x="1353.8" y="102.1" font-size="26" fill="#000" text-anchor="end" stroke="#000" stroke-width="0.15" >0.16</text>
<text x="1353.8" y="27" font-size="26" fill="#000" text-anchor="end" stroke="#000" stroke-width="0.15" >0.20</text>
<text x="1594" y="461.5" font-size="26" fill="#000" text-anchor="middle" stroke="#000" stroke-width="0.15" >Time (s)</text>
<text transform="translate(1289.5 198) rotate(-90)" font-size="26" fill="#000" stroke="#000" stroke-width="0.15" text-anchor="middle">Current (mA)</text>
<text x="1266.6" y="51.5" font-size="68" fill="#000" text-anchor="start" font-weight="bold" stroke="#000" stroke-width="0.3" >c</text>
</g>
<g id="pd">
<text x="87" y="572.3" font-size="74" fill="#000" text-anchor="start" stroke="#000" stroke-width="0.3" >d</text>
<line x1="67.5" y1="584" x2="1754" y2="584" stroke="#0f9b4c" stroke-width="6.4" />
<path d="M1823 584L1752 566.5V601.5z" fill="#0f9b4c" stroke="none" stroke-width="0" />
<text x="198.5" y="562.5" font-size="43.5" fill="#169a4d" text-anchor="start" stroke="#169a4d" stroke-width="0.15" >Stage I</text>
<text x="654" y="562.5" font-size="43.5" fill="#169a4d" text-anchor="start" stroke="#169a4d" stroke-width="0.15" >Stage II</text>
<text x="1129.5" y="562.5" font-size="43.5" fill="#169a4d" text-anchor="start" stroke="#169a4d" stroke-width="0.15" >Stage III</text>
<text x="1573" y="570" font-size="43.5" fill="#169a4d" text-anchor="start" stroke="#169a4d" stroke-width="0.15" >Stage IV</text>
<text x="102" y="641.7" font-size="43.9" fill="#169a4d" text-anchor="start" stroke="#169a4d" stroke-width="0.15" >Applied Pressure  (Increased Pressure)</text>
<text x="46.5" y="1112" font-size="36.65" fill="#000" text-anchor="start" stroke="#000" stroke-width="0.15" >Contact joints between (I) layers, (II) yarns, (III) nanofibers and (IV) nanoparticles</text>
<g id="yarn1" fill="none" stroke-linecap="round" stroke-linejoin="round">
<line x1="98.7" y1="808.9" x2="83.5" y2="794.5" stroke="#a1124f" stroke-width="6.4" stroke-linecap="round"/>
<line x1="98.7" y1="808.9" x2="83.5" y2="794.5" stroke="#e6197b" stroke-width="4.4" stroke-linecap="round"/>
<line x1="101.6" y1="796.2" x2="84.4" y2="793.5" stroke="#a1124f" stroke-width="6.4" stroke-linecap="round"/>
<line x1="101.6" y1="796.2" x2="84.4" y2="793.5" stroke="#e6197b" stroke-width="4.4" stroke-linecap="round"/>
<line x1="98.4" y1="782.7" x2="82.9" y2="772.2" stroke="#a1124f" stroke-width="6.4" stroke-linecap="round"/>
<line x1="98.4" y1="782.7" x2="82.9" y2="772.2" stroke="#e6197b" stroke-width="4.4" stroke-linecap="round"/>
<line x1="103.7" y1="781.9" x2="86" y2="777.7" stroke="#a1124f" stroke-width="6.4" stroke-linecap="round"/>
<line x1="103.7" y1="781.9" x2="86" y2="777.7" stroke="#e6197b" stroke-width="4.4" stroke-linecap="round"/>
<line x1="409.8" y1="812" x2="426.8" y2="792.7" stroke="#a1124f" stroke-width="6.4" stroke-linecap="round"/>
<line x1="409.8" y1="812" x2="426.8" y2="792.7" stroke="#e6197b" stroke-width="4.4" stroke-linecap="round"/>
<line x1="411.4" y1="799.1" x2="427.1" y2="787.5" stroke="#a1124f" stroke-width="6.4" stroke-linecap="round"/>
<line x1="411.4" y1="799.1" x2="427.1" y2="787.5" stroke="#e6197b" stroke-width="4.4" stroke-linecap="round"/>
<line x1="409.9" y1="795.3" x2="419.8" y2="780.2" stroke="#a1124f" stroke-width="6.4" stroke-linecap="round"/>
<line x1="409.9" y1="795.3" x2="419.8" y2="780.2" stroke="#e6197b" stroke-width="4.4" stroke-linecap="round"/>
<line x1="408.1" y1="797.7" x2="421.5" y2="782.7" stroke="#a1124f" stroke-width="6.4" stroke-linecap="round"/>
<line x1="408.1" y1="797.7" x2="421.5" y2="782.7" stroke="#e6197b" stroke-width="4.4" stroke-linecap="round"/>
<path d="M140.6 753.8C139.6 754.1 136.4 754.6 134.4 755.4C132.5 756.2 130.5 757.2 128.9 758.7C127.4 760.1 126.3 762.2 125.2 764C124 765.9 123.1 767.8 122.2 769.8C121.4 771.7 120.7 773.7 120.1 775.6C119.5 777.6 119.1 779.6 118.7 781.5C118.4 783.4 118.2 785.3 118.1 787.2C118.1 789 118.1 790.8 118.2 792.5C118.3 794.3 118.5 795.9 118.8 797.6C119.1 799.2 119.4 800.7 119.8 802.3C120.2 803.8 120.6 805.3 121.1 806.7C121.6 808.2 122.2 810 122.6 811.1C123 812.1 123.4 812.9 123.5 813.2M193.2 860.9C194.3 860.7 197.6 860.1 199.8 859.5C201.9 858.9 204.1 858.1 206.1 857.3C208.2 856.4 210.2 855.3 212.1 854.2C214 853 215.9 851.8 217.7 850.4C219.4 849 221.1 847.5 222.7 845.9C224.2 844.4 225.7 842.8 227.1 841.1C228.4 839.4 229.7 837.5 230.9 835.7C232 833.9 233 832 234 830.1C234.9 828.2 235.8 826.3 236.5 824.4C237.3 822.5 237.9 820.6 238.6 818.7C239.2 816.8 239.8 814.9 240.3 813C240.9 811.1 241.5 809.2 242.1 807.3C242.7 805.4 243.2 803.5 243.9 801.7C244.5 799.8 245.2 797.9 245.9 796.1C246.7 794.2 247.5 792.3 248.4 790.5C249.3 788.7 250.9 785.9 251.4 785M333.4 757.5C334.3 757.6 336.9 757.7 338.7 757.8C340.5 757.9 342.3 758 344.1 758.1C345.9 758.2 347.7 758.2 349.5 758.3C351.3 758.4 353.1 758.5 355 758.7C356.9 758.8 358.8 759 360.7 759.2C362.6 759.4 364.5 759.6 366.5 760C368.4 760.3 370.4 760.6 372.4 761.1C374.4 761.6 376.4 762.2 378.4 762.8C380.3 763.5 382.3 764.3 384.3 765.2C386.2 766.2 388.2 767.2 390 768.4C391.9 769.6 393.7 771 395.4 772.5C397.1 774 398.8 775.7 400.2 777.5C401.7 779.4 403 781.4 404.2 783.5C405.3 785.6 406.3 787.9 407 790.2C407.7 792.6 408.2 795 408.4 797.5C408.7 799.9 408.4 803.7 408.4 804.9M141.7 755.9C141 756.7 138.6 758.6 137.3 760.2C136.1 761.9 135.3 764.1 134.3 765.9C133.3 767.7 132.3 769.3 131.4 770.9C130.5 772.6 129.7 774.2 128.9 775.8C128.2 777.4 127.5 778.9 126.9 780.4C126.2 782 125.7 783.4 125.1 784.9C124.6 786.4 124 788.1 123.7 789.2C123.3 790.3 123.1 791 123 791.3M159.7 861.5C160.8 861.7 164.2 862.4 166.5 862.5C168.7 862.7 171 862.7 173.2 862.6C175.5 862.5 177.7 862.2 179.9 861.8C182.1 861.4 184.4 860.8 186.5 860.1C188.6 859.4 190.7 858.6 192.7 857.6C194.8 856.7 196.7 855.6 198.6 854.5C200.6 853.4 202.4 852.1 204.1 850.8C205.9 849.5 207.6 848.1 209.2 846.6C210.7 845.2 212.2 843.7 213.7 842.2C215.1 840.6 216.4 839.1 217.7 837.5C219 835.9 220.2 834.3 221.4 832.8C222.5 831.2 223.5 829.7 224.5 828.1C225.5 826.6 226.4 825.1 227.4 823.6C228.3 822.1 229.2 820.6 230.1 819C231.1 817.5 231.9 816 232.9 814.5C233.8 813 235.3 810.8 235.8 810M307.7 762.4C308.5 762.2 311 761.4 312.7 760.9C314.3 760.3 316 759.8 317.7 759.2C319.4 758.6 321 758.1 322.7 757.5C324.5 756.9 326.3 756.3 328.1 755.7C329.9 755.1 331.7 754.5 333.6 753.9C335.4 753.4 337.3 752.8 339.3 752.3C341.2 751.8 343.3 751.3 345.3 750.9C347.4 750.5 349.5 750.2 351.6 749.9C353.7 749.7 355.9 749.5 358.1 749.4C360.2 749.4 362.5 749.4 364.7 749.6C366.9 749.7 369.1 750 371.4 750.4C373.6 750.9 375.8 751.5 378 752.2C380.2 753 382.3 753.9 384.4 755C386.4 756.1 388.5 757.3 390.4 758.7C392.2 760.2 394.1 761.8 395.7 763.5C397.4 765.3 399.5 768.3 400.2 769.2M142.9 758.1C142.3 759 140.5 761.8 139.5 763.7C138.5 765.6 137.3 768.4 136.8 769.3M123.5 843.3C124.4 843.9 127.1 846 129.1 847.2C131.1 848.3 133.1 849.3 135.2 850.2C137.3 851 139.4 851.7 141.6 852.2C143.8 852.8 146 853.2 148.2 853.4C150.4 853.7 152.6 853.8 154.8 853.8C157 853.8 159.1 853.7 161.3 853.5C163.4 853.3 165.6 852.9 167.7 852.5C169.8 852.1 171.8 851.6 173.8 851.1C175.8 850.5 177.8 849.9 179.7 849.2C181.6 848.6 183.5 847.9 185.4 847.1C187.2 846.4 189 845.6 190.8 844.9C192.5 844.1 194.2 843.3 195.9 842.5C197.6 841.7 199.2 841 200.9 840.2C202.5 839.4 204.1 838.6 205.7 837.8C207.3 837.1 209.7 835.9 210.5 835.5M275.6 783.1C276.2 782.4 277.9 780.3 279 778.9C280 777.5 281.1 776.2 282.2 774.8C283.3 773.4 284.4 772 285.5 770.7C286.7 769.3 287.8 767.9 289.1 766.5C290.4 765.1 291.7 763.7 293.1 762.3C294.4 760.9 295.8 759.5 297.3 758.1C298.8 756.8 300.3 755.4 301.9 754.1C303.5 752.8 305.2 751.6 306.9 750.4C308.7 749.2 310.5 748.1 312.4 747C314.3 746 316.2 745 318.2 744.1C320.2 743.2 322.3 742.5 324.4 741.8C326.4 741.2 328.6 740.6 330.7 740.2C332.9 739.8 335.1 739.5 337.3 739.3C339.5 739.2 341.8 739.2 344 739.3C346.2 739.5 348.9 739.9 350.5 740.2C352.2 740.4 353.2 740.8 353.8 740.9M387.7 809.8C387.4 810.5 386.7 812.7 386.1 814.2C385.5 815.7 384.8 817.2 384.2 818.8C383.5 820.3 382.7 821.8 381.9 823.4C381.1 824.9 380.2 826.5 379.3 828.1C378.4 829.7 377.3 831.3 376.3 833C375.3 834.7 374.5 836.8 373.2 838.5C372 840.1 369.6 842.1 368.9 842.8M103.7 818.3C104.3 819.4 105.7 822.8 107 824.9C108.2 827 109.7 828.9 111.3 830.7C112.9 832.4 114.7 834 116.6 835.4C118.4 836.9 120.4 838.1 122.4 839.2C124.5 840.3 126.6 841.2 128.7 842C130.8 842.7 132.9 843.3 135.1 843.8C137.2 844.3 139.4 844.6 141.5 844.9C143.7 845.1 145.8 845.3 147.9 845.3C150 845.4 152.1 845.3 154.1 845.2C156.1 845.1 158.2 845 160.1 844.8C162.1 844.6 164 844.4 165.9 844.1C167.8 843.9 169.7 843.6 171.5 843.4C173.3 843.1 175.2 842.8 177 842.6C178.7 842.4 180.5 842.1 182.2 841.9C184 841.7 186.6 841.4 187.5 841.3M263.2 805.4C263.7 804.5 265 801.9 265.9 800.1C266.7 798.3 267.4 796.5 268.1 794.7C268.8 792.9 269.4 791.1 270.1 789.3C270.7 787.5 271.3 785.6 272 783.8C272.6 781.9 273.2 780.1 273.9 778.3C274.6 776.4 275.3 774.5 276.1 772.6C276.9 770.8 277.8 768.9 278.8 767.1C279.9 765.2 281 763.4 282.2 761.6C283.4 759.8 284.7 758.1 286.2 756.4C287.6 754.7 289 753.1 290.7 751.6C292.3 750 294 748.6 295.8 747.3C297.6 745.9 299.6 744.7 301.5 743.6C303.5 742.6 305.6 741.6 307.6 740.8C309.7 740 311.9 739.4 314.1 738.9C316.2 738.4 319.6 738 320.7 737.8M384.9 785.3C385.2 786 386.1 788.1 386.7 789.6C387.3 791 387.9 792.4 388.4 793.9C388.9 795.3 389.4 796.8 389.9 798.4C390.3 799.9 390.7 801.5 391.1 803.2C391.4 804.9 391.7 806.6 391.8 808.4C392 810.2 392 812.1 392 814.1C391.9 816 391.7 818 391.4 820C391 822.1 390.6 824.1 389.9 826.2C389.3 828.2 388.5 830.3 387.6 832.3C386.7 834.3 385.8 836.4 384.4 838.2C383.1 839.9 381.5 841.5 379.7 842.6C377.8 843.7 375.1 844.4 373.5 844.8C371.9 845.3 370.8 845.2 370.3 845.3M100.8 788.7C100.7 790 99.9 793.7 99.9 796.2C99.8 798.7 100 801.3 100.5 803.8C100.9 806.2 101.6 808.7 102.5 811C103.4 813.2 104.6 815.4 105.9 817.5C107.2 819.5 108.7 821.4 110.3 823.1C111.9 824.8 113.6 826.3 115.4 827.7C117.2 829.1 119.1 830.3 121.1 831.4C123 832.4 125 833.3 126.9 834.1C128.9 834.9 130.9 835.6 132.9 836.2C134.9 836.7 136.9 837.2 138.8 837.6C140.8 838 142.7 838.3 144.6 838.6C146.5 838.9 148.4 839 150.3 839.2C152.1 839.4 154 839.5 155.8 839.7C157.6 839.8 159.4 839.9 161.2 840.1C163 840.2 164.7 840.3 166.5 840.5C168.2 840.6 170.8 840.8 171.7 840.9M257.7 816.6C258.2 815.6 259.8 812.9 260.8 811C261.7 809.2 262.5 807.3 263.2 805.4C264 803.6 264.6 801.7 265.3 799.8C265.9 797.9 266.4 796 267 794.1C267.5 792.2 268 790.2 268.5 788.3C269.1 786.4 269.6 784.4 270.1 782.5C270.7 780.6 271.3 778.6 272 776.7C272.6 774.7 273.4 772.8 274.2 770.8C275.1 768.9 276 766.9 277.1 765.1C278.1 763.2 279.3 761.3 280.6 759.5C282 757.7 283.4 756 284.9 754.4C286.4 752.7 288 751.1 289.7 749.7C291.4 748.2 293.2 746.8 295.1 745.6C297 744.3 299 743.2 301.1 742.2C303.1 741.3 305.2 740.4 307.4 739.7C309.5 739 312.3 738.4 313.9 738.1C315.6 737.7 316.7 737.7 317.3 737.6M385.3 787.7C385.5 788.4 386.3 790.5 386.8 791.9C387.3 793.3 387.7 794.7 388.1 796.2C388.5 797.7 388.9 799.1 389.2 800.7C389.5 802.2 389.8 803.8 390 805.5C390.2 807.1 390.3 808.9 390.3 810.7C390.4 812.4 390.3 814.3 390.1 816.2C389.9 818.1 389.5 820 389.1 822C388.6 824 388.1 826 387.3 827.9C386.6 829.9 385.8 831.9 384.8 833.8C383.8 835.7 382.7 837.9 381.3 839.4C379.9 840.9 378 842.1 376.1 843.1C374.3 844 371.1 844.7 370.1 845M129.3 753.5C128.2 753.9 124.5 754.7 122.6 755.9C120.7 757.2 119.2 759.2 117.7 761C116.2 762.8 114.9 764.8 113.7 766.8C112.5 768.9 111.5 771 110.7 773.2C109.9 775.4 109.2 777.8 108.8 780C108.4 782.3 108.2 784.7 108.2 786.9C108.2 789.2 108.4 791.5 108.7 793.7C109.1 795.8 109.7 798 110.4 800C111.1 802 111.9 803.9 112.9 805.7C113.8 807.4 114.9 809.1 116.1 810.7C117.2 812.2 118.5 813.6 119.7 815C121 816.3 122.3 817.5 123.6 818.7C124.9 819.9 126.2 821 127.6 822.1C128.9 823.1 130.3 824.1 131.6 825.1C133 826.1 134.3 827.1 135.7 828C137.1 829 139.2 830.4 139.9 830.9M225.1 850C226 849.4 228.9 847.7 230.7 846.3C232.5 844.9 234.2 843.3 235.8 841.7C237.4 840 239 838.2 240.3 836.3C241.6 834.5 242.8 832.6 243.8 830.6C244.8 828.6 245.7 826.6 246.5 824.5C247.3 822.5 248 820.4 248.6 818.3C249.2 816.2 249.6 814.1 250.1 812C250.5 809.9 250.9 807.8 251.2 805.7C251.6 803.7 251.9 801.6 252.3 799.5C252.6 797.4 253 795.3 253.4 793.3C253.8 791.2 254.3 789.1 254.8 787C255.4 785 256 782.9 256.7 780.9C257.4 778.8 258.2 776.8 259.2 774.8C260.1 772.8 261.2 770.8 262.5 769C263.7 767.1 265.1 765.2 266.5 763.5C268 761.8 270.6 759.5 271.4 758.7M359 763.3C359.8 763.6 362.2 764.6 363.8 765.3C365.4 765.9 366.9 766.6 368.5 767.3C370.1 768 371.7 768.7 373.3 769.4C375 770.2 376.6 770.9 378.2 771.8C379.8 772.6 381.4 773.5 383.1 774.5C384.7 775.4 386.3 776.5 387.9 777.6C389.4 778.8 391 780.1 392.5 781.5C393.9 782.9 395.4 784.4 396.7 786.1C398 787.8 399.3 789.6 400.3 791.5C401.4 793.5 402.3 795.6 403.1 797.7C403.8 799.9 404.4 802.2 404.7 804.6C405 806.9 405.1 809.4 404.9 811.8C404.8 814.2 404.4 816.6 403.8 818.9C403.3 821.3 402.4 823.6 401.4 825.8C400.4 828 399.2 830.1 397.8 832.1C396.5 834 394 836.6 393.2 837.5" fill="none" stroke="#8c173f" stroke-width="6.0" />
<path d="M125.5 817.2C125.1 816.5 123.9 814.5 123.1 813.1C122.4 811.7 121.7 810.3 121 808.9C120.4 807.4 119.7 806 119.1 804.4C118.6 802.9 118 801.3 117.6 799.7C117.1 798 116.7 796.3 116.4 794.5C116.1 792.7 115.9 790.8 115.9 788.9C115.8 787 115.9 785 116.1 783C116.3 781 116.7 778.9 117.2 776.8C117.7 774.8 118.3 772.7 119.1 770.7C119.9 768.7 120.9 766.7 122 764.7C123.1 762.8 124.3 760.9 125.7 759.1C127.1 757.3 128.6 755.6 130.2 754C131.8 752.4 133.5 750.9 135.3 749.6C137.1 748.2 139 747 140.9 745.9C142.9 744.8 145 743.8 147.1 743C149.2 742.2 152.4 741.3 153.5 741M229 778.2C229.5 778.8 231.2 780.8 232.3 782.1C233.5 783.4 234.7 784.8 235.9 786.2C237.1 787.6 238.3 789 239.6 790.4C240.9 791.9 242.2 793.3 243.6 794.8C244.9 796.2 246.3 797.7 247.7 799.2C249.1 800.7 250.6 802.2 252.1 803.6C253.6 805.1 255.1 806.6 256.7 808C258.2 809.4 259.8 810.9 261.4 812.2C263 813.6 264.7 814.9 266.3 816.2C267.9 817.5 269.5 818.7 271.2 819.9C272.8 821 274.5 822.1 276.1 823.2C277.8 824.2 279.4 825.1 281 826C282.6 827 284.2 827.8 285.8 828.6C287.3 829.5 288.9 830.2 290.5 831C292.1 831.8 293.7 832.6 295.3 833.4C296.9 834.1 299.2 835.3 300 835.7M387.2 842.6C388 841.8 390.7 839.5 392.2 837.7C393.7 835.9 395.1 834 396.3 832C397.6 830 398.6 827.8 399.5 825.6C400.4 823.4 401 821.1 401.5 818.8C401.9 816.5 402.2 814.2 402.2 811.9C402.3 809.6 402.1 807.3 401.8 805C401.4 802.8 400.8 800.7 400.1 798.6C399.4 796.6 398.5 794.6 397.5 792.8C396.5 791 395.4 789.3 394.2 787.7C393 786.1 391.7 784.6 390.4 783.3C389 781.9 387.6 780.7 386.2 779.5C384.8 778.3 383.4 777.2 382 776.2C380.6 775.1 379.1 774.2 377.7 773.2C376.3 772.2 374.7 771.6 373.5 770.2C372.4 768.8 371.6 766.2 370.9 764.8C370.2 763.4 369.6 762.4 369.3 762M143 841.3C142.4 840.4 140.5 837.7 139.4 836C138.3 834.2 137.6 832.2 136.4 830.9C135.2 829.5 133.5 829 132 828C130.5 827 129 826.1 127.5 825.1C126 824.1 124.5 823 123.1 821.8C121.6 820.7 120.2 819.4 118.9 818C117.5 816.7 116.2 815.2 115 813.6C113.7 812 112.6 810.3 111.6 808.5C110.6 806.7 109.6 804.8 108.9 802.7C108.2 800.7 107.6 798.6 107.2 796.4C106.8 794.2 106.6 791.9 106.6 789.6C106.6 787.3 106.8 784.9 107.2 782.6C107.6 780.4 108.3 778.1 109.1 775.9C109.9 773.7 110.9 771.5 112 769.5C113.2 767.4 114.6 765.5 116 763.7C117.5 761.8 119.6 759.8 120.8 758.6C122.1 757.4 123.1 756.7 123.5 756.4M212.8 765.2C213.6 765.6 215.9 767 217.4 767.9C219 768.7 220.4 769.5 221.9 770.4C223.5 771.3 225 772.2 226.5 773.2C228 774.2 229.5 775.2 231 776.3C232.5 777.4 234 778.4 235.5 779.6C237.1 780.8 238.6 782 240.2 783.3C241.7 784.6 243.2 785.9 244.8 787.3C246.3 788.6 247.8 790.1 249.3 791.5C250.8 792.9 252.3 794.4 253.8 795.9C255.3 797.3 256.8 798.8 258.2 800.3C259.7 801.8 261.1 803.2 262.6 804.7C264 806.2 265.4 807.6 266.8 809C268.1 810.4 269.5 811.8 270.9 813.2C272.2 814.5 273.5 815.8 274.8 817.1C276.1 818.4 277.5 819.7 278.7 820.9C280 822.1 281.6 823.5 282.5 824.4C283.5 825.3 284.2 825.9 284.5 826.2M372.6 851.7C373.6 851.1 376.6 849.5 378.5 848.2C380.4 846.9 382.2 845.4 383.8 843.9C385.5 842.3 387.1 840.6 388.5 838.9C389.9 837.1 391.2 835.2 392.4 833.2C393.5 831.2 394.5 829.2 395.4 827.1C396.2 825 396.9 822.8 397.4 820.6C397.8 818.4 398.1 816.2 398.3 814.1C398.4 811.9 398.4 809.7 398.2 807.6C398 805.6 397.6 803.5 397.1 801.6C396.6 799.6 395.9 797.8 395.2 796C394.4 794.2 393.6 792.6 392.6 791C391.7 789.4 390.7 787.9 389.6 786.5C388.6 785.1 387.5 783.7 386.3 782.5C385.2 781.2 384 779.9 382.8 778.8C381.6 777.6 380.4 776.4 379.1 775.3C377.9 774.2 376.3 772.9 375.3 772C374.4 771.1 373.9 770.5 373.6 770.2M142.1 843C141.2 842.5 138.6 841.1 136.7 840.4C134.8 839.7 132.7 839.3 130.7 838.6C128.6 838 126.4 837.3 124.4 836.4C122.3 835.6 120.3 834.5 118.3 833.3C116.4 832.1 114.5 830.7 112.7 829.2C111 827.6 109.3 825.9 107.8 824C106.3 822.1 104.9 820 103.8 817.8C102.7 815.6 101.8 813.2 101.1 810.8C100.4 808.4 100.1 804.6 99.9 803.4M169.1 758.8C169.9 758.7 172.6 758.4 174.3 758.2C176.1 757.9 177.8 757.6 179.6 757.3C181.4 757.1 183.2 756.8 185 756.5C186.8 756.2 188.7 755.9 190.6 755.6C192.5 755.3 194.5 755 196.4 754.8C198.4 754.6 200.4 754.4 202.5 754.2C204.5 754.1 206.6 754 208.7 754C210.8 754.1 213 754.1 215.2 754.4C217.3 754.6 219.5 754.9 221.7 755.3C223.8 755.8 226 756.3 228.1 757C230.3 757.7 232.4 758.5 234.5 759.6C236.5 760.6 238.6 761.8 240.5 763.1C242.3 764.4 244.1 765.8 245.8 767.3C247.5 768.8 249 770.5 250.4 772.2C251.8 774 253.6 776.8 254.3 777.7M294.4 855.6C295.5 856 298.7 857.4 300.9 858C303 858.7 305.3 859.1 307.5 859.4C309.7 859.8 312 859.9 314.2 859.9C316.5 859.9 318.7 859.8 321 859.5C323.2 859.2 325.4 858.7 327.5 858.2C329.7 857.7 331.8 857 333.9 856.2C336 855.5 338 854.6 339.9 853.6C341.9 852.7 343.8 851.6 345.6 850.5C347.5 849.4 349.2 848.3 350.9 847.1C352.6 845.9 354.3 844.7 355.8 843.5C357.4 842.2 358.9 840.9 360.4 839.7C361.9 838.5 363.3 837.2 364.6 836C366 834.7 367.3 833.5 368.5 832.3C369.8 831.1 371 829.9 372.2 828.7C373.4 827.6 374.9 826.1 375.8 825.3C376.7 824.4 377.2 823.8 377.5 823.6M377.9 753.9C376.6 753.8 371.8 753.8 370.6 753.8M141 845C139.9 844.9 136.6 844.7 134.2 844.5C131.8 844.4 128.9 844.7 126.6 844.1C124.2 843.6 122.2 842.3 120.2 841.1C118.2 839.9 116.3 838.4 114.5 836.7C112.8 835.1 110.8 832.8 109.6 831.3C108.5 829.9 107.9 828.8 107.6 828.3M149.2 764.6C150 764.3 152.4 763.4 154 762.8C155.6 762.1 157.2 761.4 158.8 760.7C160.4 760 162.1 759.3 163.7 758.5C165.4 757.8 167 757 168.8 756.3C170.5 755.5 172.3 754.7 174.1 753.9C175.9 753.2 177.8 752.4 179.7 751.7C181.6 751 183.6 750.3 185.6 749.7C187.6 749 189.7 748.5 191.8 748C193.9 747.5 196.1 747.1 198.3 746.8C200.5 746.5 202.7 746.3 204.9 746.2C207.2 746.2 209.5 746.3 211.7 746.5C214 746.7 216.2 747.1 218.5 747.6C220.7 748.1 222.9 748.9 225 749.7C227.1 750.5 229.2 751.5 231.1 752.6C233.1 753.8 235.5 755.6 236.9 756.7C238.3 757.7 239.1 758.6 239.5 759M273.5 843.9C274.5 844.6 277.3 846.8 279.3 847.9C281.2 849.1 283.3 850 285.4 850.8C287.5 851.7 289.7 852.4 291.9 852.9C294.1 853.4 296.4 853.8 298.7 854C301 854.3 303.3 854.3 305.5 854.2C307.7 854.1 310 853.9 312.2 853.6C314.4 853.3 316.5 852.9 318.6 852.4C320.8 851.9 322.8 851.2 324.9 850.6C326.9 849.9 328.9 849.2 330.8 848.4C332.7 847.7 334.5 846.9 336.4 846C338.2 845.2 339.9 844.4 341.7 843.6C343.4 842.7 345.1 841.9 346.7 841.1C348.4 840.3 350 839.5 351.6 838.8C353.1 838 354.7 837.2 356.3 836.5C357.9 835.8 360.2 834.8 361 834.4M400.7 769.9C400 769 397.9 765.9 396.3 764.1C394.7 762.4 392.9 760.7 391 759.3C389 757.9 387.1 756.4 384.7 755.8C382.4 755.1 379.4 755.5 376.9 755.3C374.5 755.2 371.1 755 369.9 755M129.3 779C129.8 778.4 131.4 776.6 132.5 775.4C133.6 774.2 134.7 773 135.9 771.8C137 770.5 138.2 769.3 139.4 768.1C140.7 766.8 142 765.6 143.3 764.3C144.6 763 146 761.8 147.4 760.5C148.9 759.3 150.3 758 151.9 756.8C153.4 755.6 155.1 754.3 156.8 753.2C158.4 752 160.2 750.8 162 749.8C163.8 748.7 165.7 747.6 167.6 746.7C169.6 745.7 171.5 744.9 173.6 744.1C175.6 743.3 177.7 742.6 179.9 742C182 741.4 184.2 740.9 186.4 740.6C188.6 740.2 190.8 740 193.1 739.9C195.3 739.8 197.6 739.8 199.8 740C202.1 740.2 204.3 740.6 206.5 741.1C208.7 741.6 211.4 742.5 213.1 743C214.7 743.6 215.7 744.1 216.2 744.3M261.5 831.4C262.3 832.3 264.5 834.9 266.1 836.5C267.8 838 269.6 839.5 271.5 840.8C273.4 842.1 275.4 843.4 277.5 844.4C279.5 845.4 281.7 846.3 283.8 847C286 847.7 288.1 848.3 290.3 848.8C292.4 849.2 294.7 849.6 296.9 849.8C299.1 850 301.3 850.1 303.5 850.1C305.7 850 307.8 849.9 309.9 849.7C312 849.5 314.1 849.2 316.2 848.8C318.2 848.5 320.2 848 322.2 847.5C324.2 847.1 326.1 846.6 328 846C329.9 845.5 331.7 844.9 333.5 844.4C335.3 843.8 337.1 843.2 338.8 842.6C340.5 842 342.3 841.4 344 840.9C345.7 840.3 347.3 839.7 349 839.2C350.6 838.6 352.7 837.9 353.9 837.5C355.1 837.1 356 836.9 356.4 836.7M400.5 770.1C399.7 769.2 397.7 766.1 396.1 764.3C394.5 762.5 392.7 760.9 390.8 759.4C389 758 387.1 756.5 384.8 755.8C382.4 755.1 379.5 755.3 377 755.2C374.6 755 371.2 754.9 370 754.8M120.8 797.4C121 796.7 121.2 794.5 121.5 793C121.8 791.5 122.1 790 122.4 788.5C122.8 786.9 123.2 785.4 123.7 783.8C124.2 782.3 124.8 780.7 125.4 779.1C126.1 777.4 126.8 775.8 127.6 774.1C128.4 772.5 129.3 770.8 130.2 769.2C131.2 767.5 132.3 765.8 133.5 764.2C134.6 762.6 135.9 760.9 137.2 759.4C138.6 757.8 140 756.2 141.6 754.8C143.1 753.3 144.7 751.8 146.4 750.5C148.1 749.1 149.9 747.8 151.7 746.7C153.6 745.5 155.5 744.4 157.5 743.4C159.5 742.4 161.5 741.5 163.6 740.7C165.7 740 167.9 739.4 170 738.9C172.2 738.4 174.4 738 176.6 737.7C178.8 737.5 181.1 737.4 183.3 737.4C185.5 737.5 188.9 737.9 190 738M248.1 809.3C248.6 810.2 250.1 812.9 251.2 814.6C252.4 816.4 253.6 818.2 254.9 819.9C256.3 821.5 257.7 823.2 259.2 824.7C260.7 826.3 262.4 827.9 264.1 829.3C265.9 830.7 267.7 832 269.5 833.2C271.4 834.4 273.4 835.5 275.4 836.5C277.4 837.4 279.4 838.2 281.5 839C283.5 839.7 285.6 840.2 287.7 840.7C289.7 841.2 291.8 841.6 293.8 841.9C295.9 842.2 297.9 842.5 299.9 842.6C301.9 842.8 303.9 842.9 305.8 842.9C307.8 842.9 309.7 842.9 311.6 842.9C313.5 842.9 315.4 842.8 317.3 842.7C319.1 842.6 320.9 842.5 322.7 842.4C324.5 842.3 326.3 842.2 328.1 842.1C329.9 842 332.1 841.9 333.4 841.8C334.8 841.7 335.6 841.7 336.1 841.7M408.7 794.6C408.4 793.4 408 789.6 407.3 787.2C406.7 784.9 405.7 782.5 404.6 780.3C403.5 778.2 402.2 776.1 400.8 774.2C399.3 772.3 397.7 770.5 396 768.9C394.3 767.3 392.4 765.9 390.5 764.6C388.6 763.4 386.7 762.2 384.6 761.3C382.5 760.4 380.2 759.9 378.1 759.3C376 758.7 373.4 758.1 371.9 757.6C370.4 757.1 369.5 756.7 369 756.6" fill="none" stroke="#8c173f" stroke-width="6.0" />
<defs><path id="f1A" d="M142.2 842.8C141.5 842 139.4 839.7 138.2 837.9C137.1 836.1 136.5 833.8 135.5 832.1C134.5 830.4 133.4 829.1 132.4 827.6C131.3 826.2 130.3 824.8 129.4 823.4C128.5 822 127.6 820.6 126.7 819.3C125.9 817.9 124.7 815.8 124.3 815.1M150.3 741.9C151.3 741.6 154.6 740.7 156.8 740.3C159 739.9 161.2 739.7 163.4 739.6C165.6 739.5 167.9 739.6 170.1 739.8C172.3 740 174.5 740.3 176.6 740.7C178.8 741.2 181 741.8 183 742.4C185.1 743.1 187.2 743.9 189.2 744.8C191.1 745.6 193.1 746.6 194.9 747.6C196.8 748.6 198.6 749.8 200.4 750.9C202.1 752.1 203.8 753.3 205.4 754.5C207 755.8 208.6 757.1 210.1 758.4C211.6 759.7 213 761 214.3 762.3C215.7 763.7 217.1 765.1 218.4 766.4C219.7 767.7 220.9 769 222.1 770.3C223.3 771.6 224.4 772.9 225.6 774.2C226.7 775.5 228.1 777.2 229 778.2C229.8 779.2 230.4 779.8 230.7 780.1M297.7 834.5C298.4 834.9 300.8 836.1 302.3 836.8C303.9 837.6 305.5 838.4 307.1 839.2C308.7 839.9 310.3 840.7 312 841.5C313.6 842.3 315.3 843.1 317.1 843.9C318.8 844.7 320.5 845.4 322.3 846.2C324.1 846.9 326 847.6 327.9 848.3C329.8 849 331.7 849.7 333.7 850.3C335.7 850.9 337.7 851.4 339.8 851.9C341.8 852.3 343.9 852.7 346.1 853C348.2 853.3 350.4 853.5 352.5 853.6C354.7 853.7 356.9 853.7 359.1 853.5C361.3 853.3 363.6 853.1 365.7 852.6C367.9 852.2 370.1 851.6 372.3 850.9C374.4 850.2 376.5 849.3 378.6 848.3C380.6 847.3 382.6 846.1 384.5 844.7C386.3 843.4 388.9 841 389.8 840.3M370.9 764.8C370.3 763.8 368.2 760.1 367.6 759.1M120.8 758.6C121.7 757.9 124.4 755.6 126.3 754.4C128.2 753.1 130.2 752 132.2 751C134.3 750.1 136.4 749.2 138.5 748.5C140.6 747.8 142.8 747.3 145 746.9C147.2 746.5 149.4 746.2 151.5 746C153.7 745.9 155.9 745.9 158.1 745.9C160.2 746 162.4 746.2 164.5 746.4C166.6 746.7 168.7 747.1 170.7 747.5C172.8 747.9 174.8 748.4 176.8 749C178.8 749.5 180.7 750.2 182.6 750.8C184.5 751.5 186.3 752.2 188.2 753C190 753.7 191.8 754.5 193.5 755.3C195.2 756 196.9 756.8 198.6 757.7C200.2 758.5 201.8 759.3 203.5 760.2C205.1 761 206.6 761.8 208.2 762.7C209.8 763.5 211.6 764.6 212.8 765.2C213.9 765.8 214.7 766.3 215.1 766.5M282.5 824.4C283.2 825 285.1 826.7 286.4 827.9C287.7 829 289 830.1 290.3 831.3C291.7 832.4 293.1 833.5 294.6 834.7C296 835.8 297.4 836.9 298.9 838.1C300.4 839.2 301.9 840.3 303.4 841.4C305 842.5 306.6 843.5 308.3 844.6C309.9 845.6 311.7 846.6 313.4 847.6C315.2 848.6 317 849.5 318.9 850.4C320.8 851.3 322.7 852.1 324.7 852.8C326.7 853.5 328.7 854.2 330.7 854.8C332.8 855.4 334.9 855.9 337.1 856.3C339.2 856.7 341.3 857 343.5 857.1C345.7 857.3 347.9 857.4 350.1 857.3C352.3 857.2 354.5 857.1 356.7 856.7C358.9 856.4 361.1 855.9 363.3 855.3C365.4 854.7 367.5 854 369.6 853.1C371.6 852.2 374.6 850.6 375.6 850.1M375.3 772C374.8 771.2 373.4 769 372.4 767.3C371.5 765.5 370.4 763 369.6 761.6C368.8 760.1 368.1 759.2 367.8 758.8M100.3 807.1C100.2 805.9 99.7 802.1 99.9 799.6C100 797.1 100.4 794.5 101 792.1C101.7 789.7 102.6 787.4 103.7 785.2C104.8 783 106.1 780.9 107.6 779C109.1 777.1 110.7 775.4 112.4 773.9C114.2 772.3 116 770.9 117.9 769.7C119.8 768.5 121.8 767.5 123.8 766.6C125.8 765.7 127.8 764.9 129.8 764.3C131.9 763.6 133.9 763.1 135.9 762.7C137.9 762.2 139.9 761.9 141.8 761.6C143.7 761.3 145.7 761 147.6 760.8C149.4 760.6 151.3 760.5 153.1 760.3C155 760.2 156.8 760 158.6 759.9C160.4 759.7 162.1 759.6 163.9 759.4C165.6 759.2 167.8 759 169.1 758.8C170.4 758.7 171.2 758.6 171.7 758.5M252.4 774.9C253 775.8 254.8 778.5 255.9 780.4C256.9 782.3 257.8 784.3 258.6 786.2C259.4 788.2 260 790.1 260.7 792.1C261.3 794.1 261.8 796.1 262.2 798.1C262.7 800.1 263.1 802.1 263.5 804.2C263.9 806.2 264.3 808.2 264.7 810.3C265.1 812.3 265.4 814.4 265.9 816.4C266.4 818.5 266.9 820.6 267.5 822.7C268.1 824.7 268.8 826.8 269.6 828.8C270.4 830.9 271.4 832.9 272.5 834.9C273.5 836.9 274.8 838.8 276.1 840.7C277.5 842.5 279 844.3 280.6 845.9C282.2 847.5 283.9 849 285.7 850.3C287.5 851.7 289.4 853 291.4 854.1C293.4 855.2 296.6 856.5 297.6 857M375.8 825.3C376.4 824.7 378.1 823 379.2 821.9C380.4 820.7 381.5 819.6 382.6 818.4C383.8 817.3 384.9 816.1 386 814.8C387.1 813.6 388.2 812.3 389.3 810.9C390.3 809.5 391.4 808.1 392.3 806.5C393.3 804.9 394.2 803.3 395 801.5C395.8 799.7 396.6 797.8 397.1 795.8C397.6 793.8 398.1 791.7 398.3 789.5C398.5 787.4 398.6 785.1 398.5 782.9C398.3 780.6 398 778.3 397.5 776.1C397 773.8 396.2 771.6 395.3 769.4C394.4 767.2 393.3 765.1 392.1 763.1C390.8 761.2 389.6 758.9 387.9 757.5C386.1 756 383.8 755 381.6 754.4C379.3 753.7 375.4 753.8 374.2 753.7M109.6 831.3C109 830.3 106.9 827.2 105.8 825C104.7 822.8 103.9 820.4 103.3 818C102.7 815.6 102.3 813.1 102.2 810.6C102.1 808.1 102.3 805.6 102.6 803.2C103 800.8 103.7 798.4 104.5 796.2C105.4 793.9 106.5 791.8 107.7 789.8C108.9 787.9 110.3 786 111.8 784.4C113.3 782.7 114.9 781.3 116.5 779.9C118.2 778.6 119.9 777.4 121.6 776.3C123.3 775.2 125.1 774.3 126.8 773.4C128.5 772.6 130.3 771.8 132 771.1C133.7 770.4 135.4 769.8 137.1 769.1C138.7 768.5 140.4 767.9 142 767.3C143.6 766.7 145.3 766.2 146.9 765.5C148.5 764.9 150.8 764 151.6 763.7M236.9 756.7C237.7 757.5 240.4 759.9 241.9 761.6C243.5 763.4 244.8 765.2 246 767.1C247.2 769.1 248.2 771.1 249.2 773.1C250.1 775.2 250.8 777.3 251.5 779.4C252.1 781.5 252.6 783.7 253.1 785.8C253.5 787.9 253.9 790.1 254.2 792.2C254.5 794.4 254.7 796.5 255 798.6C255.2 800.8 255.4 802.9 255.7 805.1C256 807.2 256.3 809.4 256.6 811.5C257 813.7 257.4 815.8 258 817.9C258.5 820.1 259.1 822.2 259.9 824.3C260.7 826.4 261.6 828.5 262.7 830.5C263.7 832.5 264.9 834.5 266.3 836.3C267.7 838.2 269.2 839.9 270.8 841.5C272.5 843.1 275.4 845.3 276.3 846M358.6 835.5C359.4 835.1 361.8 834.1 363.3 833.4C364.9 832.8 366.5 832.2 368 831.5C369.6 830.9 371.2 830.2 372.9 829.5C374.5 828.9 376.1 828.2 377.8 827.4C379.5 826.6 381.1 825.9 382.8 825C384.5 824 386.2 823.1 387.9 822C389.5 820.9 391.2 819.7 392.8 818.3C394.4 816.9 395.9 815.4 397.4 813.7C398.8 812.1 400.1 810.2 401.3 808.3C402.5 806.3 403.5 804.1 404.3 801.9C405.1 799.7 405.7 797.3 406.1 794.9C406.4 792.5 406.5 789.9 406.4 787.5C406.2 785 405.8 782.5 405.2 780.1C404.5 777.7 403.6 775.4 402.5 773.2C401.4 771 399.3 768 398.6 766.9M140.2 846.7C139 846.6 135.4 846.7 133.1 846.4C130.8 846.1 128.1 845.8 126.2 844.6C124.3 843.5 123 841.4 121.6 839.5C120.3 837.7 119.1 835.6 118 833.6C117 831.5 116.1 829.4 115.4 827.2C114.7 825.1 114.2 822.9 113.8 820.7C113.5 818.6 113.3 816.4 113.3 814.3C113.2 812.2 113.4 810.1 113.7 808.1C114 806.1 114.4 804.1 114.9 802.3C115.5 800.5 116.1 798.8 116.8 797.1C117.6 795.5 118.4 793.9 119.2 792.5C120.1 791 121 789.6 121.9 788.3C122.8 786.9 123.8 785.7 124.8 784.4C125.7 783.2 126.7 782 127.8 780.7C128.8 779.5 130.4 777.8 130.9 777.2M213.1 743C214.1 743.5 217.3 744.8 219.3 745.9C221.3 747 223.3 748.2 225.1 749.6C226.9 750.9 228.6 752.4 230.2 753.9C231.9 755.5 233.4 757.3 234.8 759.1C236.2 760.9 237.6 762.9 238.7 764.8C239.8 766.8 240.8 768.8 241.7 770.8C242.5 772.8 243.2 774.9 243.9 777C244.5 779.1 245.1 781.2 245.6 783.2C246.1 785.3 246.5 787.4 246.9 789.5C247.3 791.5 247.6 793.6 248 795.7C248.4 797.7 248.7 799.8 249.1 801.8C249.5 803.9 250 805.9 250.5 807.9C251 810 251.6 812 252.3 814C253 816 253.7 818.1 254.6 820C255.5 822 256.5 823.9 257.7 825.8C258.8 827.7 260.5 830.1 261.5 831.4C262.5 832.8 263.3 833.5 263.7 834M353.9 837.5C354.7 837.3 357.2 836.5 358.8 835.9C360.5 835.4 362.1 834.9 363.8 834.3C365.5 833.8 367.1 833.3 368.8 832.7C370.5 832.1 372.2 831.5 373.9 830.9C375.6 830.2 377.3 829.5 379 828.7C380.7 827.9 382.5 827.1 384.2 826.1C385.9 825.2 387.6 824.1 389.3 822.9C390.9 821.7 392.6 820.4 394.1 818.9C395.6 817.5 397.2 815.9 398.5 814.1C399.8 812.4 401.1 810.5 402.2 808.4C403.2 806.4 404.2 804.2 404.9 801.9C405.6 799.7 406.1 797.3 406.3 794.9C406.6 792.5 406.6 789.9 406.4 787.5C406.2 785 405.7 782.6 405 780.2C404.3 777.8 403.4 775.5 402.3 773.3C401.2 771.1 399 768.1 398.4 767.1M141 845C140.1 844.6 137.2 843.5 135.5 842.4C133.9 841.2 132.3 839.7 131 838.1C129.7 836.6 128.6 834.6 127.6 832.8C126.6 831.1 125.7 829.2 124.9 827.4C124.2 825.6 123.5 823.7 122.9 821.9C122.3 820.2 121.9 818.4 121.5 816.6C121.2 814.9 120.9 813.2 120.7 811.5C120.5 809.8 120.4 808.2 120.4 806.6C120.4 805 120.4 803.5 120.5 801.9C120.5 800.4 120.7 798.5 120.8 797.4C121 796.3 121.1 795.6 121.1 795.2M186.7 737.6C187.8 737.8 191.1 738.1 193.3 738.6C195.4 739 197.6 739.6 199.7 740.4C201.8 741.1 203.9 742 206 743C208 744 209.9 745.1 211.8 746.3C213.6 747.5 215.4 748.9 217.1 750.3C218.8 751.8 220.4 753.3 221.9 754.9C223.5 756.5 224.9 758.1 226.2 759.8C227.5 761.5 228.7 763.3 229.8 765.1C230.9 766.9 231.9 768.8 232.8 770.6C233.8 772.4 234.6 774.3 235.3 776.2C236.1 778 236.8 779.9 237.4 781.8C238.1 783.6 238.7 785.4 239.3 787.3C239.9 789.1 240.5 791 241.2 792.8C241.8 794.7 242.4 796.5 243.2 798.3C243.9 800.2 244.6 802 245.4 803.8C246.2 805.6 247.4 807.9 248.1 809.3C248.8 810.6 249.3 811.5 249.6 812M333.4 841.8C334.3 841.8 336.9 841.6 338.7 841.5C340.5 841.4 342.2 841.3 344 841.2C345.8 841.1 347.6 841.1 349.4 841C351.2 840.9 353.1 840.7 354.9 840.6C356.8 840.4 358.6 840.3 360.5 840C362.4 839.8 364.4 839.6 366.3 839.3C368.2 838.9 370.2 838.6 372.2 838.1C374.1 837.6 376.1 837.1 378.1 836.4C380 835.7 382 834.9 384 834C385.9 833.1 387.8 832.1 389.7 830.9C391.5 829.7 393.4 828.4 395.1 826.9C396.8 825.4 398.4 823.7 399.9 821.9C401.4 820.1 402.8 818.1 403.9 816C405.1 813.9 406.1 811.7 406.9 809.4C407.6 807 408.2 804.6 408.5 802.1C408.8 799.7 408.7 796.5 408.7 794.6C408.6 792.8 408.3 791.5 408.2 790.9"/><path id="f1B" d="M122.6 811.1C122.9 811.8 123.8 813.9 124.4 815.4C125.1 816.8 125.7 818.3 126.5 819.8C127.2 821.2 128 822.7 128.9 824.3C129.8 825.8 130.7 827.3 131.7 828.8C132.7 830.3 133.7 831.9 134.9 833.4C136 835 137.3 836.5 138.6 838C139.9 839.5 141.3 841 142.7 842.5C144.2 843.9 145.7 845.3 147.4 846.7C149 848 150.7 849.4 152.5 850.6C154.2 851.8 156.1 853 158 854C159.9 855.1 161.9 856.1 163.9 856.9C165.9 857.8 168 858.5 170.1 859.2C172.3 859.8 174.4 860.3 176.6 860.7C178.8 861.1 181 861.3 183.3 861.4C185.5 861.5 187.7 861.5 189.9 861.3C192.1 861.1 195.4 860.5 196.5 860.3M249.8 787.7C250.4 786.9 251.9 784.1 253 782.4C254.2 780.6 255.5 778.9 256.9 777.2C258.3 775.5 259.8 773.9 261.4 772.3C263 770.8 264.7 769.4 266.5 768C268.2 766.7 270.2 765.4 272.1 764.3C274 763.2 276 762.2 278.1 761.4C280.1 760.5 282.2 759.8 284.2 759.2C286.3 758.6 288.4 758.1 290.5 757.7C292.5 757.3 294.6 757 296.7 756.8C298.7 756.5 300.7 756.4 302.7 756.3C304.7 756.2 306.7 756.2 308.6 756.2C310.6 756.3 312.5 756.3 314.4 756.4C316.3 756.5 318.1 756.6 320 756.7C321.8 756.8 323.6 756.9 325.4 757C327.2 757.1 329 757.3 330.8 757.4C332.6 757.5 335.2 757.6 336.1 757.7M408.6 801.2C408.5 802.5 408.4 806.2 407.9 808.6C407.4 811.1 406.6 813.5 405.6 815.7C404.7 818 403.5 820.1 402.1 822.1C400.8 824.1 399.3 825.9 397.6 827.6C396 829.3 394.2 830.8 392.4 832.2C390.6 833.6 388.7 834.8 386.7 835.8C384.7 836.9 382.6 837.7 380.6 838.5C378.5 839.2 376.3 839.6 374.4 840.3C372.4 841 369.7 842.2 368.8 842.6M123.7 789.2C123.5 789.9 122.8 792 122.4 793.4C122 794.9 121.6 796.3 121.3 797.7C121 799.2 120.7 800.7 120.4 802.2C120.2 803.8 119.9 805.4 119.8 807C119.7 808.7 119.6 810.4 119.6 812.2C119.7 814 119.8 815.9 120.1 817.8C120.3 819.7 120.7 821.6 121.2 823.6C121.7 825.5 122.3 827.6 123.1 829.5C123.9 831.5 124.8 833.5 125.8 835.4C126.8 837.3 128 839.2 129.3 841.1C130.6 842.9 132 844.7 133.6 846.3C135.1 848 136.8 849.6 138.5 851C140.3 852.5 142.1 853.9 144.1 855.1C146 856.3 148 857.4 150.1 858.3C152.1 859.2 154.3 860 156.4 860.7C158.6 861.3 162 861.9 163.1 862.2M234.3 812.3C234.8 811.5 236.3 809.3 237.3 807.7C238.4 806.2 239.5 804.7 240.6 803.2C241.8 801.7 243 800.1 244.3 798.6C245.6 797 247 795.5 248.4 794C249.8 792.4 251.3 790.9 252.8 789.4C254.4 788 256 786.5 257.6 785.1C259.3 783.7 261 782.3 262.8 781.1C264.5 779.8 266.3 778.5 268.1 777.4C269.9 776.3 271.8 775.2 273.6 774.2C275.4 773.3 277.3 772.4 279.1 771.6C280.9 770.8 282.7 770.1 284.5 769.4C286.3 768.8 288.1 768.2 289.9 767.7C291.7 767.1 293.5 766.6 295.2 766.1C297 765.6 298.6 765.1 300.3 764.6C302 764.1 303.6 763.6 305.2 763.1C306.9 762.7 309.4 761.9 310.2 761.6M398.1 766.3C398.8 767.3 401 770.3 402.1 772.4C403.2 774.6 404.2 776.9 404.9 779.3C405.6 781.7 406.1 784.2 406.3 786.6C406.6 789.1 406.6 791.6 406.3 794C406.1 796.4 405.6 798.8 404.9 801.1C404.2 803.4 403.3 805.6 402.2 807.7C401.2 809.7 399.9 811.6 398.5 813.4C397.2 815.1 395.6 816.7 394.1 818.2C392.6 819.6 390.9 820.9 389.2 822.1C387.6 823.3 385.9 824.3 384.2 825.3C382.5 826.2 380.7 827 379 827.9C377.4 828.7 375.5 829 374.2 830.2C372.8 831.4 372 833.2 370.9 834.8C369.8 836.5 368 839.3 367.5 840.2M138.1 766.5C137.5 767.3 136.1 769.8 134.9 771C133.7 772.3 132.2 773 130.8 774.1C129.4 775.1 128.1 776.1 126.7 777.2C125.4 778.4 124 779.5 122.7 780.7C121.4 781.9 120.1 783.2 118.9 784.6C117.7 786 116.5 787.5 115.4 789.1C114.2 790.7 113.2 792.4 112.3 794.2C111.4 796 110.5 798 109.9 800C109.2 802 108.7 804.2 108.4 806.3C108.1 808.5 108 810.8 108.1 813.1C108.2 815.3 108.5 817.7 109 819.9C109.5 822.2 110.2 824.5 111 826.6C111.9 828.8 113 830.9 114.3 832.9C115.5 834.8 116.9 836.7 118.4 838.5C120 840.2 122.2 842.1 123.5 843.3C124.8 844.4 125.8 845 126.2 845.3M208.1 836.7C208.9 836.3 211.2 835.2 212.8 834.4C214.4 833.6 216 832.8 217.6 832C219.2 831.3 220.8 830.6 222.4 829.8C224 829 225.6 828.1 227.3 827.2C228.9 826.3 230.5 825.4 232.2 824.4C233.8 823.4 235.5 822.3 237.1 821.2C238.8 820.1 240.5 818.9 242.1 817.6C243.7 816.4 245.4 815 247 813.7C248.6 812.3 250.2 810.9 251.7 809.5C253.3 808.1 254.8 806.6 256.3 805.1C257.8 803.6 259.2 802.1 260.7 800.6C262.1 799.1 263.4 797.6 264.8 796.1C266.1 794.7 267.4 793.2 268.6 791.7C269.9 790.2 271.1 788.8 272.2 787.4C273.4 785.9 274.8 784.1 275.6 783.1C276.5 782 277 781.4 277.3 781M350.5 740.2C351.6 740.4 354.9 741.2 357 741.9C359.1 742.6 361.2 743.5 363.2 744.5C365.2 745.5 367.1 746.6 368.9 747.9C370.8 749.1 372.6 750.5 374.2 752C375.9 753.5 377.5 755.1 378.9 756.8C380.4 758.5 381.7 760.3 382.9 762.1C384.1 763.9 385.2 765.8 386.2 767.7C387.1 769.6 387.9 771.6 388.6 773.6C389.3 775.5 389.8 777.5 390.2 779.4C390.7 781.4 390.9 783.3 391.1 785.2C391.3 787.1 391.3 788.9 391.3 790.7C391.3 792.5 391.1 794.2 391 795.9C390.8 797.5 390.5 799.1 390.2 800.7C389.9 802.3 389.5 803.8 389.1 805.3C388.6 806.8 388 808.7 387.7 809.8C387.3 810.9 387 811.6 386.9 812M142.9 758.1C142.2 758.9 140.2 761.3 138.8 762.7C137.5 764.1 136.3 765.5 134.7 766.5C133.1 767.5 131.1 767.8 129.3 768.6C127.5 769.4 125.6 770.2 123.8 771.2C122 772.1 120.1 773.2 118.4 774.4C116.6 775.7 114.9 777 113.3 778.6C111.7 780.1 110.1 781.8 108.8 783.7C107.4 785.5 106.1 787.5 105.1 789.6C104.1 791.8 103.2 794.1 102.6 796.4C102 798.8 101.6 801.2 101.5 803.7C101.3 806.1 101.5 808.7 101.8 811.1C102.2 813.5 103.2 816.5 103.7 818.3C104.3 820.1 104.9 821.1 105.2 821.7M184.9 841.6C185.7 841.5 188.4 841.2 190.2 841C191.9 840.9 193.7 840.7 195.5 840.6C197.2 840.4 199 840.3 200.8 840.1C202.7 840 204.5 839.8 206.4 839.6C208.3 839.4 210.2 839.2 212.1 839C214.1 838.7 216 838.4 218 838C220 837.6 222 837.2 224.1 836.7C226.1 836.2 228.1 835.6 230.1 834.8C232.1 834.1 234.1 833.2 236.1 832.2C238.1 831.2 240 830.1 241.9 828.9C243.7 827.7 245.5 826.4 247.2 825C248.9 823.6 250.6 822.1 252.1 820.5C253.6 819 255 817.4 256.4 815.7C257.7 814.1 258.9 812.4 260.1 810.7C261.2 808.9 262.5 806.7 263.2 805.4C264 804.1 264.4 803.2 264.6 802.8M317.4 738.2C318.5 738.1 321.8 737.7 324.1 737.6C326.3 737.6 328.5 737.7 330.7 738C332.9 738.2 335.2 738.6 337.3 739.2C339.5 739.7 341.6 740.4 343.7 741.2C345.8 742.1 347.8 743 349.7 744C351.7 745.1 353.6 746.2 355.4 747.5C357.2 748.7 359 750 360.6 751.4C362.3 752.8 363.8 754.2 365.3 755.7C366.8 757.2 368.2 758.7 369.6 760.3C370.9 761.8 372.1 763.4 373.3 765C374.4 766.5 375.5 768.1 376.5 769.7C377.5 771.2 378.4 772.8 379.3 774.3C380.2 775.8 381 777.3 381.8 778.8C382.5 780.3 383.2 781.8 383.9 783.2C384.6 784.6 385.5 786.7 385.8 787.5M141.8 756C140.8 756.3 138 757.3 135.9 757.9C133.8 758.4 131.5 758.6 129.3 759.2C127.2 759.8 125.1 760.7 123 761.7C121 762.6 119 763.8 117.1 765.2C115.2 766.5 113.3 768 111.6 769.7C109.9 771.3 108.3 773.2 106.9 775.2C105.5 777.2 104.3 779.3 103.2 781.6C102.2 783.8 101.3 786.9 100.8 788.7C100.3 790.5 100.3 791.8 100.2 792.4M169.1 840.7C169.9 840.7 172.6 841 174.3 841.1C176.1 841.3 177.8 841.5 179.6 841.7C181.4 841.8 183.1 842 184.9 842.2C186.7 842.4 188.6 842.6 190.4 842.8C192.3 843 194.2 843.2 196.1 843.3C198 843.5 199.9 843.6 201.9 843.6C203.9 843.7 205.9 843.7 208 843.6C210 843.6 212.1 843.5 214.2 843.3C216.3 843 218.4 842.7 220.5 842.3C222.6 841.9 224.8 841.4 226.9 840.8C229 840.1 231.1 839.4 233.1 838.5C235.2 837.5 237.3 836.5 239.2 835.3C241.1 834.1 243 832.8 244.8 831.4C246.5 830 248.2 828.5 249.7 826.9C251.3 825.3 252.8 823.6 254.1 821.8C255.4 820.1 256.9 817.9 257.7 816.6C258.6 815.2 259.1 814.3 259.3 813.8M313.9 738.1C315 737.9 318.4 737.4 320.7 737.3C322.9 737.2 325.2 737.3 327.4 737.5C329.6 737.7 331.8 738 334 738.5C336.2 738.9 338.4 739.5 340.5 740.3C342.7 741 344.7 741.9 346.7 742.8C348.7 743.8 350.7 744.8 352.5 746C354.4 747.1 356.2 748.4 358 749.7C359.7 751 361.3 752.4 362.9 753.8C364.5 755.2 366 756.7 367.4 758.2C368.8 759.7 370.1 761.3 371.3 762.8C372.6 764.4 373.7 766 374.8 767.5C375.8 769.1 376.8 770.7 377.8 772.2C378.7 773.8 379.5 775.3 380.3 776.8C381.1 778.3 381.8 779.8 382.5 781.3C383.2 782.7 383.8 784.2 384.4 785.6C385 787 385.8 789.1 386 789.8M140.3 753.2C139.1 753.2 135.5 753.1 133.1 753.2C130.6 753.3 126.8 753.9 125.5 754M137.8 829.5C138.5 829.9 140.6 831.4 142 832.3C143.4 833.3 144.8 834.3 146.3 835.3C147.7 836.2 149.2 837.2 150.7 838.2C152.2 839.2 153.8 840.2 155.3 841.2C156.9 842.2 158.6 843.2 160.3 844.1C162 845.1 163.7 846.1 165.5 847C167.2 847.9 169.1 848.8 171 849.7C172.8 850.5 174.8 851.3 176.8 852C178.8 852.8 180.8 853.5 182.9 854C185 854.6 187.1 855.1 189.2 855.5C191.4 855.9 193.6 856.2 195.8 856.3C198 856.5 200.2 856.5 202.5 856.4C204.7 856.3 206.9 856.1 209.1 855.7C211.3 855.3 213.6 854.8 215.7 854.1C217.9 853.4 220 852.6 222.1 851.6C224.1 850.6 226.9 848.8 227.9 848.3M268.9 761C269.8 760.3 272.3 757.9 274.2 756.5C276.1 755.2 278.1 754 280.1 752.9C282.1 751.9 284.1 751.1 286.2 750.3C288.4 749.5 290.5 748.9 292.7 748.4C294.9 747.9 297.2 747.6 299.4 747.4C301.6 747.2 303.8 747.1 306 747.2C308.2 747.2 310.4 747.4 312.5 747.6C314.6 747.8 316.8 748.2 318.8 748.6C320.9 749 322.9 749.5 324.9 750.1C326.9 750.6 328.9 751.2 330.8 751.8C332.7 752.4 334.5 753.1 336.3 753.8C338.2 754.5 339.9 755.2 341.7 755.9C343.4 756.6 345.2 757.3 346.8 758C348.5 758.8 350.1 759.5 351.8 760.2C353.4 760.8 355 761.6 356.6 762.2C358.2 762.9 360.6 763.9 361.4 764.3M395.6 834.9C394.8 835.8 392.5 838.5 390.6 840C388.8 841.4 387 843 384.7 843.8C382.5 844.6 379.5 844.4 377.1 844.6C374.6 844.7 371.2 844.8 370 844.9"/></defs>
<use href="#f1A" stroke="#a1124f" stroke-width="6.6"/>
<use href="#f1A" stroke="#e6197b" stroke-width="4.8"/>
<use href="#f1A" stroke="#f24a95" stroke-width="1.4" transform="translate(-0.5 -0.9)"/>
<use href="#f1B" stroke="#a1124f" stroke-width="6.6"/>
<use href="#f1B" stroke="#e6197b" stroke-width="4.8"/>
<use href="#f1B" stroke="#f24a95" stroke-width="1.4" transform="translate(-0.5 -0.9)"/>
<path d="M160.3 775a5.2 4.9 0 1 0 10.4 0a5.2 4.9 0 1 0 -10.4 0M174.2 772.1a5.2 4.9 0 1 0 10.4 0a5.2 4.9 0 1 0 -10.4 0M187.5 775a5.2 4.9 0 1 0 10.4 0a5.2 4.9 0 1 0 -10.4 0M199.7 781.4a5.2 4.9 0 1 0 10.4 0a5.2 4.9 0 1 0 -10.4 0M149.3 781.4a5.2 4.9 0 1 0 10.4 0a5.2 4.9 0 1 0 -10.4 0M170.8 783.7a5.2 4.9 0 1 0 10.4 0a5.2 4.9 0 1 0 -10.4 0M185.2 787.2a5.2 4.9 0 1 0 10.4 0a5.2 4.9 0 1 0 -10.4 0M207.2 793a5.2 4.9 0 1 0 10.4 0a5.2 4.9 0 1 0 -10.4 0M141.8 790.6a5.2 4.9 0 1 0 10.4 0a5.2 4.9 0 1 0 -10.4 0M158.6 790.6a5.2 4.9 0 1 0 10.4 0a5.2 4.9 0 1 0 -10.4 0M171.1 794.1a5.2 4.9 0 1 0 10.4 0a5.2 4.9 0 1 0 -10.4 0M193.3 797a5.2 4.9 0 1 0 10.4 0a5.2 4.9 0 1 0 -10.4 0M181.2 799.9a5.2 4.9 0 1 0 10.4 0a5.2 4.9 0 1 0 -10.4 0M208.4 804.5a5.2 4.9 0 1 0 10.4 0a5.2 4.9 0 1 0 -10.4 0M140.1 803.4a5.2 4.9 0 1 0 10.4 0a5.2 4.9 0 1 0 -10.4 0M155.1 802.2a5.2 4.9 0 1 0 10.4 0a5.2 4.9 0 1 0 -10.4 0M169.6 805.1a5.2 4.9 0 1 0 10.4 0a5.2 4.9 0 1 0 -10.4 0M189.9 809.2a5.2 4.9 0 1 0 10.4 0a5.2 4.9 0 1 0 -10.4 0M144.7 814.4a5.2 4.9 0 1 0 10.4 0a5.2 4.9 0 1 0 -10.4 0M163.2 813.8a5.2 4.9 0 1 0 10.4 0a5.2 4.9 0 1 0 -10.4 0M178.3 816.7a5.2 4.9 0 1 0 10.4 0a5.2 4.9 0 1 0 -10.4 0M203.8 815.5a5.2 4.9 0 1 0 10.4 0a5.2 4.9 0 1 0 -10.4 0M155.1 821.9a5.2 4.9 0 1 0 10.4 0a5.2 4.9 0 1 0 -10.4 0M195.1 824.2a5.2 4.9 0 1 0 10.4 0a5.2 4.9 0 1 0 -10.4 0M167.3 828.8a5.2 4.9 0 1 0 10.4 0a5.2 4.9 0 1 0 -10.4 0M181.8 828.8a5.2 4.9 0 1 0 10.4 0a5.2 4.9 0 1 0 -10.4 0" fill="#2f6be8" stroke="#d65ad0" stroke-width="0.7" />
<path d="M338.5 775.5a5.2 4.9 0 1 0 10.4 0a5.2 4.9 0 1 0 -10.4 0M324.6 772.6a5.2 4.9 0 1 0 10.4 0a5.2 4.9 0 1 0 -10.4 0M311.3 775.5a5.2 4.9 0 1 0 10.4 0a5.2 4.9 0 1 0 -10.4 0M299.1 781.9a5.2 4.9 0 1 0 10.4 0a5.2 4.9 0 1 0 -10.4 0M349.5 781.9a5.2 4.9 0 1 0 10.4 0a5.2 4.9 0 1 0 -10.4 0M328 784.2a5.2 4.9 0 1 0 10.4 0a5.2 4.9 0 1 0 -10.4 0M313.6 787.7a5.2 4.9 0 1 0 10.4 0a5.2 4.9 0 1 0 -10.4 0M291.6 793.5a5.2 4.9 0 1 0 10.4 0a5.2 4.9 0 1 0 -10.4 0M357 791.1a5.2 4.9 0 1 0 10.4 0a5.2 4.9 0 1 0 -10.4 0M340.2 791.1a5.2 4.9 0 1 0 10.4 0a5.2 4.9 0 1 0 -10.4 0M327.7 794.6a5.2 4.9 0 1 0 10.4 0a5.2 4.9 0 1 0 -10.4 0M305.5 797.5a5.2 4.9 0 1 0 10.4 0a5.2 4.9 0 1 0 -10.4 0M317.6 800.4a5.2 4.9 0 1 0 10.4 0a5.2 4.9 0 1 0 -10.4 0M290.4 805a5.2 4.9 0 1 0 10.4 0a5.2 4.9 0 1 0 -10.4 0M358.7 803.9a5.2 4.9 0 1 0 10.4 0a5.2 4.9 0 1 0 -10.4 0M343.7 802.7a5.2 4.9 0 1 0 10.4 0a5.2 4.9 0 1 0 -10.4 0M329.2 805.6a5.2 4.9 0 1 0 10.4 0a5.2 4.9 0 1 0 -10.4 0M308.9 809.7a5.2 4.9 0 1 0 10.4 0a5.2 4.9 0 1 0 -10.4 0M354.1 814.9a5.2 4.9 0 1 0 10.4 0a5.2 4.9 0 1 0 -10.4 0M335.6 814.3a5.2 4.9 0 1 0 10.4 0a5.2 4.9 0 1 0 -10.4 0M320.5 817.2a5.2 4.9 0 1 0 10.4 0a5.2 4.9 0 1 0 -10.4 0M295 816a5.2 4.9 0 1 0 10.4 0a5.2 4.9 0 1 0 -10.4 0M343.7 822.4a5.2 4.9 0 1 0 10.4 0a5.2 4.9 0 1 0 -10.4 0M303.7 824.7a5.2 4.9 0 1 0 10.4 0a5.2 4.9 0 1 0 -10.4 0M331.5 829.3a5.2 4.9 0 1 0 10.4 0a5.2 4.9 0 1 0 -10.4 0M317 829.3a5.2 4.9 0 1 0 10.4 0a5.2 4.9 0 1 0 -10.4 0" fill="#2f6be8" stroke="#d65ad0" stroke-width="0.7" />
</g>
<use href="#yarn1" transform="translate(76 123)"/>
<g id="yarn2" fill="none" stroke-linecap="round" stroke-linejoin="round">
<defs><pattern id="hx3" width="8" height="13.86" patternUnits="userSpaceOnUse" patternTransform="translate(527 811) rotate(-3)"><rect width="8" height="13.86" fill="#e23c9c"/><path d="M0 2.3h1.2M6.8 2.3h1.2M3.4 9.2h1.2" stroke="#fff" stroke-width="1.3"/><circle cx="4" cy="3.46" r="3.55" fill="#2f6be8"/><circle cx="0" cy="10.4" r="3.55" fill="#2f6be8"/><circle cx="8" cy="10.4" r="3.55" fill="#2f6be8"/></pattern></defs>
<ellipse cx="642.5" cy="811" rx="78" ry="33" fill="url(#hx3)" stroke="none"/>
<ellipse cx="833.6" cy="811" rx="78" ry="33" fill="url(#hx3)" stroke="none"/>
<path d="M539.6 803.1C541.3 802.1 546.4 798.9 549.9 796.9C553.3 794.9 556.8 792.9 560.3 790.9C563.8 789 567.3 787.1 570.9 785.4C574.5 783.6 578.1 781.9 581.8 780.3C585.5 778.7 589.2 777.3 593 776C596.7 774.7 600.6 773.5 604.5 772.5C608.3 771.6 612.3 770.7 616.2 770.2C620.2 769.6 624.2 769.2 628.2 769.1C632.1 768.9 636.2 769 640.1 769.3C644.1 769.6 648.1 770.2 652 770.9C656 771.6 659.9 772.5 663.7 773.6C667.6 774.7 671.4 776 675.1 777.4C678.8 778.8 682.5 780.4 686.2 782.1C689.8 783.7 693.4 785.5 696.9 787.3C700.5 789.1 704 791.1 707.5 793.1C711 795 714.4 797.1 717.8 799.1C721.3 801.2 724.7 803.3 728.1 805.4C731.5 807.5 734.8 809.7 738.2 811.8C741.6 813.9 745 816 748.4 818.1C751.8 820.2 755.2 822.3 758.7 824.4C762.1 826.4 765.6 828.4 769.1 830.4C772.5 832.3 776.1 834.2 779.6 836C783.2 837.8 786.8 839.5 790.5 841.1C794.2 842.7 797.9 844.2 801.6 845.6C805.4 846.9 809.2 848.1 813.1 849.1C817 850.1 820.9 851 824.8 851.6C828.8 852.2 832.8 852.7 836.8 852.9C840.7 853.1 844.8 853 848.8 852.8C852.7 852.5 856.7 852 860.7 851.4C864.6 850.7 868.5 849.8 872.4 848.7C876.2 847.7 880 846.4 883.8 845.1C887.5 843.7 891.2 842.1 894.9 840.5C898.5 838.9 902.1 837.1 905.7 835.3C909.3 833.5 912.8 831.6 916.3 829.6C919.8 827.7 923.6 825.4 926.6 823.6C929.6 821.8 933 819.7 934.3 818.9" fill="none" stroke="#a2144f" stroke-width="17" />
<path d="M539.6 818.9C541.3 819.9 546.4 823.1 549.9 825.1C553.3 827.1 556.8 829.1 560.3 831.1C563.8 833 567.3 834.9 570.9 836.6C574.5 838.4 578.1 840.1 581.8 841.7C585.5 843.3 589.2 844.7 593 846C596.7 847.3 600.6 848.5 604.5 849.5C608.3 850.4 612.3 851.3 616.2 851.8C620.2 852.4 624.2 852.8 628.2 852.9C632.1 853.1 636.2 853 640.1 852.7C644.1 852.4 648.1 851.8 652 851.1C656 850.4 659.9 849.5 663.7 848.4C667.6 847.3 671.4 846 675.1 844.6C678.8 843.2 682.5 841.6 686.2 839.9C689.8 838.3 693.4 836.5 696.9 834.7C700.5 832.9 704 830.9 707.5 828.9C711 827 714.4 824.9 717.8 822.9C721.3 820.8 724.7 818.7 728.1 816.6C731.5 814.5 734.8 812.3 738.2 810.2C741.6 808.1 745 806 748.4 803.9C751.8 801.8 755.2 799.7 758.7 797.6C762.1 795.6 765.6 793.6 769.1 791.6C772.5 789.7 776.1 787.8 779.6 786C783.2 784.2 786.8 782.5 790.5 780.9C794.2 779.3 797.9 777.8 801.6 776.4C805.4 775.1 809.2 773.9 813.1 772.9C817 771.9 820.9 771 824.8 770.4C828.8 769.8 832.8 769.3 836.8 769.1C840.7 768.9 844.8 769 848.8 769.2C852.7 769.5 856.7 770 860.7 770.6C864.6 771.3 868.5 772.2 872.4 773.3C876.2 774.3 880 775.6 883.8 776.9C887.5 778.3 891.2 779.9 894.9 781.5C898.5 783.1 902.1 784.9 905.7 786.7C909.3 788.5 912.8 790.4 916.3 792.4C919.8 794.3 923.6 796.6 926.6 798.4C929.6 800.2 933 802.3 934.3 803.1" fill="none" stroke="#a2144f" stroke-width="17" />
<path d="M534.4 827.3C535.7 828 539.8 830.2 542.5 831.5C545.3 832.8 548.1 834.1 551 835.2C553.8 836.4 556.7 837.5 559.6 838.5C562.6 839.6 565.5 840.5 568.5 841.4C571.5 842.3 574.5 843 577.6 843.7C580.6 844.4 583.7 845 586.7 845.5C589.8 846 592.9 846.4 595.9 846.7C598.9 847 602 847.2 605 847.3C608 847.4 611 847.4 614 847.3C616.9 847.2 619.8 847 622.7 846.8C625.6 846.5 628.4 846.1 631.2 845.7C634 845.3 636.8 844.7 639.5 844.2C642.2 843.6 644.9 842.9 647.6 842.3C650.3 841.6 652.9 840.8 655.6 840.1C658.2 839.3 661.8 838.2 663.5 837.6C665.3 837.1 665.7 836.9 666.2 836.8M802.5 787.1C803.8 786.7 807.7 785.2 810.4 784.3C813 783.3 815.6 782.4 818.2 781.6C820.9 780.7 823.5 779.9 826.2 779.1C828.9 778.3 831.6 777.6 834.4 777C837.1 776.3 839.9 775.7 842.7 775.2C845.5 774.7 848.4 774.3 851.3 774C854.2 773.7 857.2 773.4 860.2 773.3C863.2 773.2 866.2 773.2 869.3 773.3C872.3 773.4 875.4 773.6 878.5 773.9C881.5 774.2 884.6 774.6 887.7 775.2C890.8 775.7 893.8 776.3 896.9 777C899.9 777.8 902.9 778.6 905.9 779.5C908.9 780.4 911.9 781.4 914.8 782.5C917.7 783.6 920.5 784.8 923.4 786C926.2 787.3 929 788.6 931.7 790C934.4 791.4 938.4 793.6 939.7 794.4M536.9 823.3C538.3 823.8 542.6 825.5 545.5 826.6C548.3 827.7 551.2 828.7 554.1 829.7C557 830.7 559.9 831.7 562.8 832.6C565.8 833.5 568.7 834.4 571.6 835.2C574.5 836 577.5 836.8 580.4 837.5C583.3 838.2 586.2 838.8 589.1 839.4C592 839.9 594.9 840.5 597.8 840.9C600.6 841.3 603.5 841.7 606.3 842C609.2 842.3 612 842.5 614.8 842.7C617.5 842.8 620.3 842.9 623.1 842.9C625.8 842.9 628.5 842.9 631.2 842.7C634 842.6 637.1 842.3 639.3 842.1C641.6 841.9 643.8 841.6 644.7 841.5M802.6 787.4C803.9 787 807.8 785.5 810.5 784.6C813.1 783.7 815.7 782.8 818.4 782C821 781.2 823.6 780.4 826.3 779.7C829 779 831.7 778.4 834.4 777.8C837.2 777.3 839.9 776.8 842.7 776.4C845.5 776 848.3 775.7 851.2 775.5C854.1 775.3 857 775.1 859.9 775.1C862.8 775.1 865.8 775.1 868.8 775.3C871.7 775.5 874.7 775.8 877.7 776.1C880.8 776.5 883.8 776.9 886.8 777.5C889.8 778 892.8 778.7 895.8 779.4C898.8 780.1 901.8 780.9 904.8 781.8C907.8 782.6 910.7 783.6 913.6 784.6C916.6 785.6 919.5 786.7 922.3 787.8C925.2 789 928 790.2 930.8 791.4C933.6 792.6 937.7 794.6 939.1 795.3M540.1 818C541.5 818.6 545.8 820.2 548.7 821.2C551.5 822.3 554.4 823.3 557.2 824.3C560.1 825.3 562.9 826.3 565.7 827.3C568.5 828.3 571.3 829.2 574.1 830.1C576.9 831 579.7 831.9 582.5 832.7C585.3 833.5 588 834.3 590.8 835.1C593.5 835.8 596.3 836.5 599 837.2C601.7 837.8 604.4 838.4 607.1 839C609.8 839.5 612.9 840.1 615.1 840.5C617.4 840.8 619.6 841.1 620.5 841.2M782.1 797.2C783.4 796.5 787.2 794.6 789.7 793.3C792.3 792 794.8 790.8 797.4 789.5C799.9 788.3 802.5 787.1 805 785.9C807.6 784.7 810.1 783.6 812.7 782.5C815.3 781.4 818 780.4 820.6 779.4C823.3 778.5 826 777.5 828.7 776.7C831.4 775.9 834.2 775.1 837 774.5C839.8 773.9 842.7 773.3 845.6 772.8C848.5 772.4 851.5 772.1 854.5 771.8C857.5 771.6 860.5 771.5 863.5 771.5C866.6 771.5 869.7 771.7 872.7 771.9C875.8 772.2 878.9 772.5 882 773C885 773.5 888.1 774.1 891.2 774.7C894.2 775.4 897.3 776.2 900.3 777C903.3 777.9 906.2 778.9 909.2 779.9C912.1 780.9 915 782 917.9 783.2C920.8 784.4 923.6 785.6 926.4 786.9C929.2 788.2 932.4 789.9 934.6 791C936.9 792.2 939.1 793.4 940 793.9M544.8 810.4C546.1 811 550.2 813 552.8 814.4C555.4 815.7 558 817.1 560.6 818.4C563.2 819.8 567 821.9 568.2 822.6M718.4 835.6C719.7 834.8 723.6 832.5 726.2 830.8C728.8 829.2 731.3 827.5 733.7 825.7C736.2 823.9 738.6 822.1 741 820.3C743.4 818.4 745.7 816.5 748.1 814.6C750.4 812.7 752.7 810.8 755 808.8C757.2 806.8 759.5 804.9 761.8 802.9C764.1 800.9 766.3 798.9 768.6 796.9C770.9 794.9 773.2 792.9 775.5 791C777.8 789 780.2 787.1 782.6 785.2C785 783.3 787.4 781.4 790 779.6C792.5 777.8 795 776.1 797.7 774.4C800.3 772.8 803 771.2 805.8 769.7C808.6 768.2 811.5 766.8 814.5 765.6C817.4 764.4 820.4 763.3 823.5 762.3C826.6 761.4 829.8 760.6 833 760C836.3 759.4 839.5 758.9 842.8 758.7C846.1 758.5 849.4 758.4 852.7 758.6C856 758.7 859.9 759.2 862.6 759.6C865.3 760 867.9 760.6 869 760.9M545.6 809.2C546 809.4 547.7 810.5 548.1 810.7M685.1 852.8C686.5 852.2 690.9 850.3 693.7 848.9C696.5 847.5 699.3 845.9 701.9 844.3C704.6 842.6 707.2 840.9 709.7 839.1C712.2 837.3 714.7 835.4 717.1 833.5C719.5 831.6 721.9 829.6 724.2 827.5C726.5 825.5 728.7 823.4 731 821.3C733.2 819.2 735.4 817 737.6 814.8C739.8 812.7 741.9 810.5 744.1 808.3C746.3 806.1 748.4 803.9 750.6 801.8C752.8 799.6 755 797.4 757.3 795.3C759.5 793.2 761.8 791.1 764.1 789C766.4 786.9 768.8 784.9 771.2 783C773.7 781 776.2 779.1 778.7 777.3C781.3 775.5 784 773.8 786.7 772.2C789.4 770.6 792.2 769 795.1 767.6C798 766.3 801 765 804 763.9C807.1 762.8 811.3 761.7 813.4 761.1C815.5 760.5 816 760.5 816.6 760.4M663.4 859C664.9 858.5 669.6 857.2 672.6 856.1C675.6 855.1 678.6 853.8 681.5 852.5C684.4 851.2 687.2 849.7 689.9 848.2C692.7 846.7 695.4 845.1 698 843.4C700.6 841.8 703.2 840 705.7 838.2C708.2 836.4 710.7 834.6 713.1 832.7C715.5 830.8 717.9 828.9 720.3 826.9C722.6 824.9 724.9 822.9 727.2 820.9C729.5 818.9 731.8 816.9 734 814.8C736.3 812.8 738.6 810.7 740.8 808.7C743.1 806.7 745.3 804.6 747.6 802.6C749.9 800.6 752.2 798.5 754.5 796.6C756.8 794.6 759.2 792.6 761.6 790.7C764 788.7 766.4 786.8 768.8 785C771.3 783.2 773.8 781.3 776.4 779.6C779 777.9 781.7 776.2 784.4 774.6C787.1 773.1 789.8 771.6 792.7 770.2C795.5 768.8 798.4 767.5 801.4 766.3C804.4 765.1 807.4 764.1 810.5 763.2C813.6 762.3 817.9 761.3 820 760.9C822.1 760.4 822.7 760.4 823.2 760.3M601.8 860.1C603.4 860.4 608.2 861.5 611.4 862C614.6 862.4 617.9 862.7 621.2 862.8C624.5 862.9 627.8 862.7 631.1 862.5C634.3 862.2 637.6 861.7 640.8 861C644 860.3 647.1 859.5 650.2 858.5C653.2 857.5 656.2 856.3 659.1 855.1C662.1 853.8 664.9 852.4 667.6 850.9C670.4 849.4 673.1 847.8 675.7 846.1C678.3 844.5 680.8 842.7 683.3 840.9C685.8 839.1 688.2 837.3 690.6 835.4C693 833.5 695.4 831.6 697.7 829.7C700 827.8 702.3 825.8 704.6 823.9C706.9 822 709.2 820 711.5 818.1C713.8 816.2 716.1 814.3 718.4 812.4C720.8 810.5 723.1 808.6 725.5 806.8C727.8 804.9 730.2 803.1 732.7 801.4C735.1 799.6 738 797.6 740.1 796.2C742.2 794.8 744.4 793.5 745.2 793M893 792.6C894.3 793.2 898.2 795.1 900.8 796.3C903.4 797.6 906 798.8 908.6 800C911.3 801.3 913.9 802.5 916.6 803.7C919.3 804.9 922.5 806.3 924.8 807.3C927 808.3 929.4 809.3 930.3 809.7M560.7 843.2C562.1 843.9 566.2 846 569.1 847.3C571.9 848.6 574.9 849.8 577.9 850.8C580.8 851.9 583.9 852.9 586.9 853.7C590 854.5 593.2 855.2 596.3 855.7C599.5 856.3 602.7 856.7 605.8 856.9C609 857.2 612.2 857.3 615.4 857.2C618.6 857.1 621.8 856.9 624.9 856.5C628 856.2 631.2 855.6 634.2 855C637.2 854.3 640.2 853.5 643.2 852.6C646.1 851.6 648.9 850.6 651.7 849.5C654.5 848.3 657.3 847.1 659.9 845.8C662.6 844.5 665.2 843.1 667.8 841.7C670.4 840.3 672.9 838.8 675.4 837.3C677.9 835.8 680.4 834.2 682.8 832.7C685.3 831.1 687.7 829.5 690.2 827.9C692.6 826.4 695.1 824.8 697.5 823.2C700 821.6 702.4 820.1 704.9 818.5C707.4 816.9 711.2 814.7 712.4 813.9M861.6 781.5C862.9 781.8 866.9 782.6 869.6 783.3C872.3 783.9 875 784.6 877.7 785.3C880.4 786 883.2 786.8 885.9 787.6C888.7 788.4 891.4 789.2 894.2 790.1C897 790.9 899.8 791.8 902.6 792.7C905.4 793.6 908.3 794.6 911.1 795.5C913.9 796.5 916.8 797.5 919.7 798.5C922.5 799.5 925.9 800.7 928.3 801.5C930.7 802.4 933.1 803.2 934 803.6" fill="none" stroke="#8c173f" stroke-width="6.0" />
<path d="M604.3 783.1C605.6 782.8 609.6 781.7 612.3 781.1C615 780.5 617.6 779.9 620.3 779.4C623 778.9 625.7 778.5 628.5 778.1C631.2 777.7 634 777.4 636.8 777.2C639.6 777 642.4 776.8 645.2 776.8C648.1 776.7 650.9 776.8 653.8 776.9C656.7 777 659.7 777.2 662.6 777.5C665.6 777.8 668.5 778.2 671.5 778.6C674.5 779.1 677.4 779.6 680.4 780.2C683.4 780.9 686.4 781.6 689.4 782.3C692.3 783.1 695.3 783.9 698.2 784.8C701.2 785.7 704.1 786.7 707 787.7C709.9 788.7 712.8 789.8 715.7 791C718.5 792.1 721.4 793.3 724.2 794.5C727 795.7 729.7 797 732.5 798.3C735.2 799.6 737.9 801 740.6 802.4C743.3 803.7 745.9 805.2 748.5 806.6C751.2 808.1 754.1 809.8 756.3 811C758.4 812.3 760.5 813.6 761.4 814.1M915.9 841.5C917.2 840.8 921.3 838.5 923.9 836.9C926.5 835.3 929.1 833.6 931.6 831.9C934.2 830.2 937.8 827.5 939 826.6M573.2 796.4C574.5 795.8 578.3 793.8 580.9 792.6C583.4 791.3 586 790 588.5 788.8C591.1 787.6 593.6 786.4 596.2 785.2C598.7 784 601.3 782.9 603.9 781.8C606.5 780.7 609.1 779.7 611.8 778.7C614.5 777.7 617.2 776.8 619.9 776C622.7 775.2 625.5 774.4 628.3 773.8C631.2 773.1 634.1 772.6 637 772.1C639.9 771.7 642.9 771.4 646 771.1C649 770.9 652 770.9 655.1 770.9C658.2 770.9 661.3 771.1 664.4 771.3C667.5 771.6 670.6 772 673.7 772.5C676.7 773 679.8 773.6 682.9 774.4C685.9 775.1 689 775.9 692 776.8C695 777.7 697.9 778.7 700.8 779.8C703.8 780.9 706.6 782.1 709.5 783.3C712.3 784.5 715.1 785.9 717.9 787.2C720.6 788.6 723.3 790 726 791.5C728.6 793 732.1 795.1 733.8 796.2C735.6 797.2 735.9 797.5 736.4 797.8M887.5 855.3C889 854.7 893.5 853 896.4 851.6C899.3 850.3 902.1 848.9 904.8 847.4C907.6 845.8 910.3 844.2 912.9 842.5C915.5 840.9 918.1 839.1 920.6 837.3C923.1 835.5 925.5 833.6 927.9 831.6C930.3 829.7 933.4 827.1 935 825.7C936.5 824.4 936.9 824.1 937.3 823.7M544.6 811.3C545.9 810.5 549.6 808 552 806.3C554.4 804.6 556.9 803 559.3 801.3C561.7 799.6 564.1 797.9 566.5 796.2C568.9 794.5 571.4 792.8 573.8 791.2C576.2 789.5 578.7 787.9 581.2 786.3C583.7 784.7 586.2 783.1 588.7 781.6C591.3 780.1 593.9 778.7 596.5 777.3C599.2 775.9 601.9 774.5 604.6 773.3C607.4 772.1 610.2 770.9 613.1 769.9C616 768.9 619 767.9 622 767.1C625 766.4 628 765.7 631.1 765.2C634.2 764.7 637.4 764.3 640.5 764.1C643.7 763.9 646.9 763.9 650.1 764C653.3 764.1 656.5 764.3 659.7 764.7C662.8 765.2 666 765.7 669.1 766.4C672.2 767.1 675.3 767.9 678.3 768.9C681.4 769.8 684.3 770.9 687.3 772C690.2 773.2 694 774.9 695.9 775.8C697.8 776.7 698.2 776.9 698.7 777.2M852.6 862.3C854.2 862.1 859.1 861.6 862.3 861C865.5 860.4 868.7 859.6 871.8 858.6C874.8 857.7 877.9 856.6 880.8 855.4C883.8 854.2 886.7 852.9 889.5 851.5C892.3 850.1 895.1 848.6 897.8 847C900.5 845.4 903.1 843.7 905.6 841.9C908.2 840.2 910.7 838.4 913.2 836.5C915.6 834.7 918 832.8 920.4 830.8C922.8 828.9 925.1 826.9 927.4 824.9C929.8 822.9 933.2 819.9 934.3 818.9M542.2 807.3C543.3 806.3 546.7 803.3 549 801.4C551.4 799.4 553.7 797.5 556 795.5C558.3 793.6 560.7 791.7 563.1 789.8C565.4 787.9 567.9 786 570.3 784.2C572.8 782.4 575.3 780.6 577.9 778.9C580.4 777.2 583.1 775.6 585.8 774C588.5 772.4 591.2 770.9 594 769.6C596.9 768.2 599.8 766.9 602.8 765.8C605.7 764.6 608.8 763.6 611.9 762.7C615 761.9 618.2 761.1 621.4 760.6C624.6 760 627.8 759.6 631.1 759.4C634.3 759.2 637.6 759.2 640.9 759.3C644.2 759.5 648.5 760 650.7 760.3C652.9 760.5 653.4 760.7 653.9 760.8M810.5 859C812.1 859.4 816.8 860.5 820 861.1C823.2 861.6 826.5 861.9 829.8 862.1C833 862.3 836.3 862.3 839.6 862.2C842.8 862 846.1 861.6 849.3 861.1C852.5 860.6 855.7 859.9 858.8 859.1C861.9 858.3 864.9 857.3 867.9 856.2C870.9 855.1 873.8 853.9 876.6 852.5C879.5 851.2 882.2 849.7 884.9 848.2C887.7 846.7 890.3 845.1 892.9 843.4C895.4 841.7 898 840 900.4 838.2C902.9 836.4 905.3 834.6 907.7 832.8C910.1 830.9 912.5 829 914.8 827.1C917.2 825.2 919.5 823.3 921.8 821.4C924.1 819.4 927.2 816.9 928.8 815.6C930.3 814.3 930.7 814 931.1 813.6M537.5 799.8C538.7 798.7 542 795.6 544.4 793.6C546.7 791.5 549 789.5 551.4 787.6C553.8 785.6 556.3 783.7 558.8 781.9C561.3 780.1 563.9 778.3 566.5 776.6C569.2 774.9 571.9 773.3 574.7 771.8C577.5 770.3 580.4 768.9 583.3 767.7C586.2 766.4 590.3 765 592.3 764.3C594.3 763.5 594.9 763.5 595.4 763.3M739.9 826.1C741.2 826.9 745 829.3 747.7 830.9C750.3 832.4 753 833.8 755.8 835.2C758.5 836.6 761.3 838 764.1 839.2C767 840.5 769.9 841.6 772.8 842.7C775.7 843.8 778.7 844.8 781.7 845.7C784.7 846.6 787.8 847.4 790.8 848.1C793.9 848.8 797 849.4 800.1 849.9C803.2 850.4 806.3 850.7 809.4 851C812.6 851.2 815.7 851.3 818.8 851.3C821.8 851.3 824.9 851.2 827.9 851C831 850.7 834 850.3 836.9 849.8C839.8 849.4 842.7 848.8 845.6 848.1C848.4 847.4 851.2 846.6 854 845.8C856.7 844.9 859.4 844 862 843C864.7 842 867.3 840.9 869.9 839.8C872.5 838.7 875.1 837.6 877.6 836.4C880.2 835.2 882.7 834 885.2 832.8C887.8 831.6 890.8 830.1 892.9 829.1C895 828 897.1 827 898 826.6M534.6 795C535.9 794.2 539.6 791.6 542.2 789.9C544.8 788.3 548.3 786.2 550 785.2C551.8 784.1 552.3 783.9 552.7 783.6M707.6 804.7C708.9 805.5 712.6 807.7 715.2 809.2C717.8 810.7 720.4 812.1 723 813.6C725.6 815 728.2 816.4 730.9 817.8C733.6 819.2 736.3 820.5 739 821.8C741.8 823.1 744.5 824.4 747.3 825.7C750.1 826.9 752.9 828.1 755.7 829.3C758.6 830.4 761.5 831.5 764.3 832.6C767.2 833.6 770.1 834.7 773.1 835.6C776 836.5 778.9 837.4 781.9 838.3C784.8 839.1 787.8 839.8 790.8 840.5C793.7 841.2 796.7 841.8 799.6 842.4C802.6 842.9 805.6 843.4 808.5 843.7C811.4 844.1 814.4 844.4 817.3 844.6C820.2 844.8 823 844.9 825.9 845C828.7 845 831.6 844.9 834.4 844.8C837.2 844.7 839.9 844.5 842.7 844.2C845.4 843.9 848.2 843.5 850.9 843.1C853.6 842.7 856.3 842.1 859 841.6C861.7 841 865.2 840.2 867 839.7C868.8 839.3 869.2 839.2 869.7 839M676.5 789.6C677.8 790.1 681.7 791.8 684.3 793C686.9 794.1 689.6 795.3 692.2 796.5C694.8 797.7 697.5 798.9 700.2 800.1C702.8 801.3 705.5 802.5 708.2 803.7C710.9 804.9 713.6 806.1 716.4 807.3C719.1 808.5 721.9 809.7 724.7 810.8C727.5 812 730.3 813.2 733.1 814.3C735.9 815.5 738.7 816.6 741.6 817.8C744.4 818.9 747.3 820 750.1 821.1C753 822.1 755.9 823.2 758.7 824.2C761.6 825.3 764.5 826.3 767.4 827.2C770.3 828.2 773.1 829.2 776 830.1C778.9 831 781.8 831.8 784.6 832.7C787.5 833.5 790.3 834.3 793.2 835C796 835.8 798.8 836.5 801.6 837.1C804.4 837.7 807.2 838.3 810 838.9C812.8 839.4 815.5 839.9 818.3 840.3C821 840.7 823.8 841 826.5 841.3C829.2 841.6 832.3 841.9 834.6 842C836.8 842.2 839.1 842.2 840 842.2M642.1 779.4C643.5 779.6 647.5 780.1 650.3 780.5C653 780.9 655.7 781.4 658.4 782C661.2 782.5 663.9 783.1 666.7 783.8C669.4 784.4 672.2 785.1 675 785.9C677.7 786.7 680.5 787.5 683.3 788.3C686.1 789.2 688.9 790 691.7 791C694.6 791.9 697.4 792.9 700.2 793.8C703.1 794.8 705.9 795.9 708.7 796.9C711.6 797.9 714.4 799 717.3 800.1C720.1 801.2 722.9 802.3 725.8 803.4C728.6 804.5 731.4 805.7 734.3 806.8C737.1 808 739.9 809.1 742.7 810.3C745.5 811.5 748.3 812.6 751.1 813.8C753.9 815 756.6 816.2 759.4 817.4C762.1 818.5 764.9 819.7 767.6 820.9C770.3 822.1 773 823.2 775.7 824.4C778.4 825.5 781.1 826.7 783.8 827.8C786.5 828.9 789.1 830 791.8 831.1C794.4 832.2 797.5 833.4 799.7 834.3C801.9 835.1 804.1 835.9 805 836.2" fill="none" stroke="#8c173f" stroke-width="6.0" />
<defs><path id="g3A" d="M663.5 837.6C664.8 837.2 668.8 835.9 671.5 835C674.2 834.1 676.8 833.2 679.5 832.3C682.2 831.3 685 830.4 687.7 829.4C690.4 828.4 693.2 827.5 696 826.5C698.8 825.5 701.6 824.5 704.4 823.5C707.2 822.5 710 821.4 712.9 820.4C715.7 819.4 718.6 818.4 721.5 817.3C724.4 816.3 727.2 815.3 730.1 814.2C733 813.2 735.9 812.2 738.8 811.1C741.7 810.1 744.6 809 747.4 808C750.3 806.9 753.2 805.9 756 804.8C758.8 803.7 761.7 802.7 764.5 801.6C767.3 800.6 770.1 799.5 772.9 798.5C775.6 797.4 778.4 796.4 781.1 795.3C783.8 794.3 786.5 793.2 789.2 792.2C791.9 791.2 794.6 790.1 797.2 789.1C799.9 788.1 803.8 786.7 805.1 786.2M642 841.8C643.4 841.6 647.4 841.2 650.1 840.7C652.8 840.3 655.5 839.8 658.2 839.2C660.9 838.7 663.7 838.1 666.4 837.4C669.1 836.8 671.9 836.1 674.7 835.4C677.4 834.6 680.2 833.8 683 833C685.8 832.2 688.6 831.3 691.4 830.4C694.2 829.5 697.1 828.6 699.9 827.6C702.8 826.7 705.6 825.7 708.5 824.7C711.3 823.7 714.2 822.6 717 821.6C719.9 820.5 722.8 819.4 725.6 818.4C728.5 817.3 731.3 816.2 734.2 815.1C737 814 739.9 812.8 742.7 811.7C745.5 810.6 748.4 809.4 751.2 808.3C754 807.2 756.8 806 759.5 804.9C762.3 803.7 765.1 802.6 767.8 801.5C770.6 800.3 773.3 799.2 776 798.1C778.7 797 781.4 795.8 784.1 794.7C786.7 793.6 789.4 792.6 792 791.5C794.7 790.5 797.8 789.3 800 788.4C802.2 787.6 804.3 786.8 805.2 786.5M617.8 840.9C619.2 841 623.2 841.6 625.9 841.8C628.5 842.1 631.2 842.3 633.9 842.4C636.6 842.5 639.4 842.6 642.1 842.6C644.9 842.5 647.6 842.4 650.4 842.3C653.2 842.1 656 841.9 658.8 841.5C661.7 841.2 664.5 840.8 667.4 840.4C670.2 839.9 673.1 839.4 676 838.8C678.9 838.2 681.8 837.5 684.7 836.8C687.7 836.1 690.6 835.3 693.5 834.5C696.4 833.7 699.3 832.8 702.3 831.9C705.2 831 708.1 830 711 829C713.9 828 716.8 826.9 719.6 825.8C722.5 824.8 725.4 823.6 728.2 822.5C731 821.3 733.8 820.2 736.6 819C739.4 817.8 742.2 816.6 745 815.3C747.7 814.1 750.4 812.8 753.2 811.5C755.9 810.3 758.5 809 761.2 807.7C763.9 806.4 766.5 805.1 769.1 803.7C771.7 802.4 774.3 801.1 776.9 799.8C779.5 798.5 783.4 796.5 784.6 795.9M565.7 821.2C567 821.9 570.8 824 573.3 825.4C575.8 826.8 578.3 828.2 580.8 829.6C583.3 831 585.8 832.4 588.3 833.7C590.8 835.1 593.3 836.4 595.8 837.7C598.4 839 600.9 840.3 603.5 841.5C606.1 842.8 608.8 843.9 611.5 845C614.1 846.1 616.9 847.2 619.7 848.1C622.5 849 625.3 849.9 628.2 850.6C631.1 851.4 634.1 852 637.1 852.5C640.2 853 643.2 853.4 646.3 853.6C649.4 853.9 652.6 854 655.7 853.9C658.8 853.9 662 853.7 665.2 853.4C668.3 853.1 671.5 852.7 674.6 852.1C677.7 851.5 680.8 850.8 683.9 850C686.9 849.2 690 848.3 692.9 847.3C695.9 846.3 698.9 845.1 701.7 843.9C704.6 842.7 707.4 841.4 710.2 840C713 838.6 716.6 836.6 718.4 835.6C720.2 834.6 720.6 834.3 721 834.1M865.8 760.2C867.4 760.6 872.2 761.6 875.3 762.6C878.4 763.5 881.5 764.7 884.4 765.9C887.4 767.2 890.3 768.6 893.1 770C895.9 771.5 898.6 773.2 901.3 774.8C903.9 776.5 906.5 778.3 909.1 780.1C911.6 782 914 783.9 916.4 785.9C918.8 787.8 921.2 789.8 923.5 791.9C925.8 793.9 928.4 796.4 930.3 798.1C932.2 799.9 934 801.6 934.8 802.4M545.6 809.2C546.8 810 550.6 812.3 553.1 813.9C555.5 815.5 557.9 817.2 560.4 818.9C562.8 820.5 565.2 822.2 567.5 823.9C569.9 825.6 572.3 827.3 574.7 829C577.1 830.7 579.4 832.5 581.9 834.2C584.3 835.8 586.7 837.5 589.2 839.2C591.7 840.8 594.2 842.4 596.8 844C599.4 845.5 602 847 604.7 848.4C607.4 849.8 610.2 851.2 613.1 852.4C615.9 853.6 618.9 854.7 621.9 855.6C624.9 856.6 628 857.4 631.1 858.1C634.2 858.7 637.5 859.2 640.7 859.5C643.9 859.9 647.2 860 650.4 860C653.7 859.9 656.9 859.7 660.2 859.3C663.4 858.9 666.6 858.4 669.7 857.7C672.9 856.9 676 856.1 679 855.1C682.1 854 686.5 852.2 688 851.6M813.4 761.1C815 760.8 819.8 759.7 823.1 759.3C826.3 758.9 829.6 758.7 832.9 758.6C836.2 758.6 839.6 758.8 842.8 759.2C846.1 759.6 849.3 760.2 852.5 760.9C855.7 761.7 858.8 762.6 861.9 763.7C864.9 764.8 867.9 766.1 870.7 767.4C873.6 768.8 876.4 770.3 879.1 771.9C881.8 773.5 884.5 775.1 887 776.9C889.6 778.6 892.1 780.5 894.5 782.3C897 784.2 899.3 786.1 901.7 788C904 789.9 906.3 791.9 908.6 793.9C910.9 795.8 913.2 797.8 915.5 799.7C917.8 801.7 920 803.7 922.3 805.6C924.6 807.5 928.1 810.4 929.3 811.3M543 813.4C544.1 814.4 547.6 817.2 549.9 819.2C552.2 821.1 554.5 823 556.9 824.9C559.2 826.8 561.5 828.7 563.9 830.6C566.3 832.5 568.7 834.3 571.1 836.1C573.6 837.9 576.1 839.7 578.6 841.4C581.1 843.1 583.7 844.8 586.4 846.4C589 848 591.8 849.5 594.5 850.9C597.3 852.3 600.2 853.6 603.1 854.8C606 856 609 857.1 612.1 858C615.1 859 618.3 859.8 621.4 860.4C624.6 861 627.8 861.5 631.1 861.8C634.3 862.1 637.6 862.2 640.9 862.2C644.1 862.1 647.4 861.9 650.6 861.5C653.9 861.1 657.6 860.3 660.3 859.8C662.9 859.2 665.5 858.4 666.5 858.1M820 760.9C821.6 760.7 826.5 759.8 829.7 759.6C833 759.3 836.3 759.2 839.6 759.3C842.8 759.4 846.1 759.7 849.3 760.1C852.6 760.5 855.8 761.2 858.9 761.9C862 762.7 865.1 763.6 868.2 764.7C871.2 765.7 874.1 766.9 877 768.2C879.9 769.5 882.7 771 885.4 772.5C888.2 774 890.8 775.6 893.4 777.3C896 778.9 898.6 780.7 901.1 782.4C903.6 784.2 906 786.1 908.4 787.9C910.9 789.8 913.2 791.7 915.6 793.6C917.9 795.5 920.2 797.5 922.5 799.4C924.8 801.4 927.9 804 929.4 805.3C931 806.6 931.3 807 931.7 807.3M538.8 820.1C540 821.1 543.3 824.3 545.6 826.4C547.8 828.5 550.1 830.6 552.5 832.6C554.8 834.6 557.2 836.5 559.7 838.4C562.2 840.3 564.7 842.2 567.3 844C569.8 845.7 572.5 847.4 575.2 849C577.9 850.6 580.8 852.1 583.6 853.5C586.5 854.8 589.5 856.1 592.5 857.2C595.5 858.3 599.7 859.5 601.8 860.1C603.9 860.7 604.4 860.7 605 860.8M742.7 794.6C744 793.8 747.8 791.4 750.5 789.9C753.1 788.4 755.8 786.9 758.6 785.5C761.4 784.2 764.2 782.9 767 781.7C769.9 780.4 772.8 779.3 775.7 778.3C778.7 777.2 781.7 776.2 784.7 775.4C787.7 774.6 790.8 773.8 793.9 773.2C797 772.5 800.1 772 803.2 771.6C806.3 771.2 809.4 770.9 812.5 770.7C815.6 770.6 818.8 770.5 821.8 770.6C824.9 770.7 828 770.9 831 771.3C834 771.6 836.9 772 839.8 772.6C842.7 773.1 845.6 773.8 848.4 774.6C851.2 775.3 854 776.1 856.7 777C859.4 777.9 862.1 778.9 864.7 779.9C867.4 781 869.9 782 872.5 783.2C875.1 784.3 877.7 785.4 880.2 786.6C882.8 787.8 885.3 789 887.9 790.2C890.5 791.4 894.3 793.2 895.6 793.9M535.1 826.1C536.3 827.1 539.9 829.9 542.4 831.7C544.9 833.5 547.4 835.2 550 836.9C552.6 838.6 555.7 840.4 557.9 841.7C560.2 843 562.5 844.1 563.4 844.6M709.9 815.4C711.2 814.7 714.9 812.4 717.5 810.9C720.1 809.4 722.7 807.9 725.3 806.5C727.9 805.1 730.6 803.7 733.3 802.3C736 801 738.7 799.6 741.5 798.4C744.2 797.1 747 795.9 749.8 794.7C752.7 793.5 755.5 792.3 758.4 791.2C761.3 790.2 764.2 789.1 767.1 788.1C770 787.2 773 786.2 776 785.4C778.9 784.5 781.9 783.7 784.9 783C787.9 782.3 790.8 781.6 793.8 781C796.8 780.5 799.8 779.9 802.7 779.5C805.7 779.1 808.7 778.7 811.6 778.4C814.5 778.2 817.4 778 820.3 777.9C823.2 777.7 826 777.7 828.8 777.7C831.6 777.8 834.4 777.9 837.2 778.1C840 778.3 842.7 778.5 845.4 778.8C848.1 779.2 850.8 779.6 853.5 780C856.2 780.4 859.8 781.1 861.6 781.5C863.3 781.8 863.8 781.9 864.2 782"/><path id="g3B" d="M540.9 805.3C542.3 804.7 546.6 803.1 549.4 802C552.2 800.9 555.1 799.9 557.9 798.8C560.7 797.8 563.5 796.7 566.2 795.7C569 794.7 571.8 793.7 574.5 792.7C577.3 791.7 580 790.7 582.7 789.8C585.5 788.9 588.2 788 590.9 787.1C593.6 786.3 596.2 785.4 598.9 784.7C601.6 783.9 605.6 782.8 606.9 782.4M758.8 812.5C760.1 813.3 763.9 815.6 766.4 817.1C768.9 818.7 771.4 820.3 773.8 821.8C776.3 823.4 778.7 825 781.2 826.5C783.6 828.1 786.1 829.6 788.6 831.2C791 832.7 793.5 834.3 796 835.7C798.5 837.2 801 838.7 803.6 840.1C806.1 841.5 808.7 842.9 811.4 844.2C814 845.5 816.7 846.8 819.5 847.9C822.2 849.1 825 850.2 827.9 851.1C830.8 852.1 833.7 853 836.7 853.7C839.7 854.4 842.8 855 845.8 855.5C848.9 855.9 852.1 856.2 855.2 856.4C858.4 856.5 861.6 856.5 864.7 856.4C867.9 856.3 871.1 856 874.2 855.5C877.4 855.1 880.5 854.5 883.6 853.8C886.7 853.1 889.8 852.3 892.8 851.3C895.8 850.4 898.8 849.3 901.7 848.1C904.7 847 907.5 845.7 910.3 844.3C913.1 843 917.2 840.8 918.6 840M544.1 810.5C545.5 809.8 549.5 807.9 552.2 806.7C554.9 805.4 557.5 804.1 560.2 802.8C562.8 801.6 565.4 800.3 568 799C570.6 797.7 574.5 795.8 575.7 795.1M733.8 796.2C735.1 797 738.9 799.4 741.4 801.1C743.9 802.7 746.4 804.5 748.8 806.2C751.2 807.9 753.6 809.7 756 811.5C758.4 813.3 760.7 815.1 763.1 817C765.4 818.8 767.7 820.6 770.1 822.5C772.4 824.3 774.8 826.2 777.1 828C779.5 829.8 781.8 831.6 784.2 833.4C786.7 835.2 789.1 837 791.6 838.7C794 840.4 796.5 842.1 799.1 843.7C801.7 845.4 804.3 846.9 807 848.4C809.8 849.9 812.5 851.3 815.4 852.5C818.2 853.8 821.1 855 824.1 856C827.1 857.1 830.2 858 833.3 858.7C836.4 859.5 839.6 860.1 842.8 860.5C846 860.9 849.3 861.1 852.5 861.2C855.8 861.3 859.1 861.2 862.3 860.9C865.6 860.6 868.8 860.2 872 859.6C875.2 858.9 878.3 858.2 881.4 857.3C884.5 856.4 889 854.7 890.5 854.1M695.9 775.8C697.3 776.5 701.5 778.6 704.2 780.1C706.9 781.6 709.6 783.2 712.2 784.8C714.8 786.5 717.3 788.2 719.8 789.9C722.3 791.7 724.8 793.5 727.2 795.3C729.7 797.1 732 799 734.4 800.9C736.8 802.8 739.1 804.8 741.4 806.7C743.7 808.6 746 810.6 748.3 812.6C750.6 814.6 752.9 816.5 755.2 818.5C757.5 820.5 759.8 822.5 762.1 824.4C764.4 826.4 766.8 828.3 769.1 830.3C771.5 832.2 773.9 834.1 776.3 835.9C778.8 837.8 781.2 839.6 783.8 841.3C786.3 843.1 788.9 844.8 791.5 846.4C794.2 848 796.9 849.6 799.7 851C802.5 852.4 805.3 853.8 808.3 855C811.2 856.3 814.2 857.4 817.3 858.3C820.3 859.3 823.5 860.1 826.6 860.8C829.8 861.4 833.1 861.9 836.3 862.2C839.5 862.6 842.8 862.7 846.1 862.7C849.4 862.6 854.3 862.1 855.9 862M650.7 760.3C652.3 760.6 657.1 761.4 660.3 762.2C663.4 763 666.5 764 669.5 765.1C672.5 766.2 675.5 767.4 678.4 768.7C681.3 770 684.1 771.5 686.8 773C689.6 774.5 692.3 776.1 694.9 777.8C697.5 779.5 700.1 781.3 702.6 783.1C705.1 784.9 707.6 786.7 710 788.6C712.4 790.5 714.8 792.5 717.1 794.4C719.5 796.4 721.8 798.4 724.1 800.4C726.4 802.5 728.6 804.5 730.9 806.5C733.2 808.6 735.4 810.6 737.7 812.7C739.9 814.7 742.2 816.7 744.5 818.8C746.8 820.8 749.1 822.8 751.4 824.8C753.7 826.8 756.1 828.7 758.4 830.7C760.8 832.6 763.3 834.5 765.7 836.3C768.2 838.1 770.8 839.9 773.3 841.7C775.9 843.4 778.6 845 781.3 846.6C784 848.2 786.7 849.7 789.6 851.1C792.4 852.5 795.3 853.8 798.3 855C801.3 856.1 804.8 857.3 807.4 858.1C809.9 858.9 812.6 859.5 813.6 859.8M592.3 764.3C593.9 763.8 598.5 762.4 601.7 761.7C604.9 761 608.2 760.5 611.4 760.1C614.7 759.8 618 759.6 621.3 759.6C624.5 759.6 627.8 759.8 631.1 760.2C634.3 760.6 637.6 761.2 640.7 761.9C643.9 762.6 647 763.5 650 764.6C653 765.6 656 766.8 658.9 768.1C661.7 769.4 664.5 770.8 667.3 772.3C670 773.8 672.6 775.4 675.2 777.1C677.8 778.8 680.3 780.5 682.8 782.3C685.3 784.1 687.7 785.9 690.1 787.7C692.5 789.6 694.8 791.5 697.1 793.4C699.5 795.3 701.8 797.2 704.1 799.1C706.4 801 708.7 802.9 711 804.8C713.3 806.6 715.6 808.5 718 810.4C720.3 812.2 722.7 814 725.1 815.8C727.5 817.6 729.9 819.4 732.4 821.1C734.8 822.8 738.2 825 739.9 826.1C741.6 827.2 742 827.5 742.5 827.7M895.4 827.8C896.7 827.2 900.6 825.3 903.2 824C905.7 822.8 908.4 821.5 911 820.2C913.6 819 916.3 817.7 919 816.5C921.6 815.3 925.3 813.6 927.1 812.8C928.9 812 929.4 811.8 929.8 811.6M550 785.2C551.4 784.4 555.4 782.2 558.2 780.8C561 779.4 563.8 778.1 566.6 776.8C569.5 775.6 572.4 774.5 575.4 773.4C578.4 772.4 581.4 771.5 584.5 770.6C587.5 769.8 590.6 769.1 593.7 768.5C596.8 768 600 767.5 603.1 767.2C606.3 766.9 609.4 766.7 612.6 766.7C615.7 766.7 618.9 766.8 622 767.1C625 767.3 628.1 767.7 631.2 768.3C634.2 768.8 637.2 769.5 640.1 770.2C643 771 645.9 771.9 648.7 772.9C651.5 773.9 654.2 775 656.9 776.2C659.7 777.3 662.3 778.6 664.9 779.9C667.5 781.2 670.1 782.5 672.6 783.9C675.2 785.3 677.7 786.8 680.2 788.2C682.7 789.7 685.2 791.2 687.7 792.7C690.1 794.1 692.6 795.7 695.1 797.2C697.6 798.7 700.1 800.2 702.6 801.7C705.1 803.2 708.9 805.5 710.1 806.2M867 839.7C868.4 839.4 872.4 838.3 875.1 837.6C877.7 836.8 880.4 836 883.1 835.1C885.8 834.3 888.6 833.4 891.3 832.4C894 831.5 896.7 830.6 899.5 829.6C902.3 828.6 905 827.6 907.8 826.6C910.6 825.5 913.4 824.5 916.2 823.4C919 822.4 921.8 821.3 924.6 820.2C927.4 819.1 931.7 817.4 933.1 816.9M534.4 794.6C535.7 793.9 539.8 791.8 542.5 790.5C545.3 789.2 548.1 787.9 550.9 786.7C553.8 785.5 556.7 784.4 559.6 783.3C562.5 782.3 565.4 781.3 568.4 780.3C571.4 779.4 574.4 778.6 577.4 777.8C580.4 777.1 583.4 776.4 586.5 775.8C589.5 775.3 592.6 774.8 595.6 774.4C598.7 774 601.7 773.8 604.7 773.6C607.7 773.5 610.8 773.4 613.7 773.5C616.7 773.5 619.7 773.7 622.6 773.9C625.5 774.2 628.4 774.6 631.2 775C634 775.5 636.8 776.1 639.6 776.7C642.3 777.3 645.1 778 647.7 778.8C650.4 779.6 653.1 780.5 655.7 781.4C658.4 782.3 661 783.2 663.6 784.2C666.2 785.2 668.8 786.3 671.4 787.4C673.9 788.4 677.8 790.1 679.1 790.7M837.3 842.1C838.6 842.2 842.7 842.3 845.4 842.3C848.1 842.3 850.8 842.2 853.5 842C856.2 841.9 859 841.7 861.7 841.4C864.5 841.1 867.3 840.7 870.1 840.3C872.8 839.9 875.7 839.4 878.5 838.9C881.3 838.4 884.2 837.8 887 837.1C889.9 836.5 892.7 835.7 895.6 835C898.5 834.2 901.4 833.4 904.3 832.6C907.2 831.7 910.1 830.8 913 829.9C915.9 828.9 918.8 828 921.7 827C924.5 826 927.9 824.7 930.3 823.9C932.7 823 935.1 822 936 821.7M537.3 799.5C538.8 798.9 543 797.2 545.8 796C548.7 794.9 551.6 793.9 554.4 792.8C557.3 791.8 560.2 790.8 563.1 789.9C566 788.9 568.9 788 571.8 787.1C574.7 786.3 577.6 785.5 580.5 784.7C583.4 784 586.3 783.3 589.1 782.7C592 782.1 594.9 781.5 597.8 781C600.6 780.5 603.5 780.1 606.3 779.8C609.1 779.4 611.9 779.2 614.7 779C617.5 778.8 620.3 778.6 623 778.6C625.8 778.5 628.5 778.6 631.2 778.7C634 778.8 637.1 779 639.4 779.2C641.7 779.4 643.9 779.7 644.8 779.8M802.3 835.3C803.6 835.7 807.6 837.2 810.2 838.1C812.9 839 815.5 839.9 818.2 840.7C820.8 841.5 823.5 842.3 826.2 843C828.9 843.6 831.6 844.3 834.4 844.8C837.1 845.3 839.9 845.8 842.7 846.2C845.5 846.5 848.4 846.8 851.2 847C854.1 847.2 857 847.3 860 847.3C862.9 847.3 865.9 847.2 868.8 846.9C871.8 846.7 874.8 846.4 877.8 846C880.8 845.6 883.8 845.1 886.8 844.5C889.8 843.9 892.8 843.3 895.8 842.5C898.8 841.7 901.7 840.9 904.7 840C907.6 839.1 910.6 838.1 913.5 837.1C916.4 836 919.2 834.9 922.1 833.8C924.9 832.6 927.8 831.4 930.5 830.1C933.3 828.8 937.4 826.8 938.8 826.2"/></defs>
<use href="#g3A" stroke="#a1124f" stroke-width="6.6"/>
<use href="#g3A" stroke="#e6197b" stroke-width="4.8"/>
<use href="#g3A" stroke="#f24a95" stroke-width="1.3" transform="translate(-0.4 -0.9)"/>
<use href="#g3B" stroke="#a1124f" stroke-width="6.6"/>
<use href="#g3B" stroke="#e6197b" stroke-width="4.8"/>
<use href="#g3B" stroke="#f24a95" stroke-width="1.3" transform="translate(-0.4 -0.9)"/>
</g>
<use href="#yarn2" transform="translate(94.4 83.5)"/>
<clipPath id="e1"><ellipse cx="1215.6" cy="676" rx="117.2" ry="62.5"/></clipPath>
<g clip-path="url(#e1)">
<rect x="1095" y="610" width="245" height="135" fill="#fff"/>
<circle cx="1194.2" cy="631.7" r="20.9" fill="none" stroke="#ee1f7c" stroke-width="6" stroke-linecap="round" stroke-dasharray="0 4.69"/>
<circle cx="1270.1" cy="633.2" r="20.9" fill="none" stroke="#ee1f7c" stroke-width="6" stroke-linecap="round" stroke-dasharray="0 4.69"/>
<circle cx="1158.1" cy="651.6" r="19.9" fill="none" stroke="#ee1f7c" stroke-width="6" stroke-linecap="round" stroke-dasharray="0 4.62"/>
<circle cx="1228.8" cy="656.7" r="20.9" fill="none" stroke="#ee1f7c" stroke-width="6" stroke-linecap="round" stroke-dasharray="0 4.69"/>
<circle cx="1184.6" cy="678.8" r="20.9" fill="none" stroke="#ee1f7c" stroke-width="6" stroke-linecap="round" stroke-dasharray="0 4.69"/>
<circle cx="1119.1" cy="661.9" r="20.9" fill="none" stroke="#ee1f7c" stroke-width="6" stroke-linecap="round" stroke-dasharray="0 4.69"/>
<circle cx="1140.4" cy="697.3" r="20.9" fill="none" stroke="#ee1f7c" stroke-width="6" stroke-linecap="round" stroke-dasharray="0 4.69"/>
<circle cx="1156.6" cy="618.4" r="19" fill="none" stroke="#ee1f7c" stroke-width="6" stroke-linecap="round" stroke-dasharray="0 4.59"/>
<circle cx="1231.8" cy="614" r="17.5" fill="none" stroke="#ee1f7c" stroke-width="6" stroke-linecap="round" stroke-dasharray="0 4.58"/>
<circle cx="1099.2" cy="695.8" r="14.3" fill="none" stroke="#ee1f7c" stroke-width="6" stroke-linecap="round" stroke-dasharray="0 4.72"/>
<circle cx="1116.8" cy="628" r="17.2" fill="none" stroke="#ee1f7c" stroke-width="6" stroke-linecap="round" stroke-dasharray="0 4.70"/>
<path d="M1143.4 720.8L1183.2 703.2L1212.6 688.4L1242.1 682.5L1267.2 658.9L1293.7 642.7L1301.1 632.4L1345.3 629.5L1345.3 747.4L1124.2 747.4z" fill="#f3287f" stroke="none" stroke-width="0" />
<line x1="1162.5" y1="712" x2="1333.5" y2="648.6" stroke="#d3226b" stroke-width="13" stroke-linecap="round" stroke-dasharray="0 9.40"/>
<line x1="1174.3" y1="732.6" x2="1333.5" y2="673.7" stroke="#b3235a" stroke-width="14.1" stroke-linecap="round" stroke-dasharray="0 10.26"/>
<line x1="1162.5" y1="732.6" x2="1264.2" y2="706.1" stroke="#c9246a" stroke-width="11.8" stroke-linecap="round" stroke-dasharray="0 8.55"/>
<line x1="1189.1" y1="741.5" x2="1345.3" y2="694.3" stroke="#f3287f" stroke-width="12.4" stroke-linecap="round" stroke-dasharray="0 8.97"/>
<line x1="1197.9" y1="729.7" x2="1301.1" y2="697.3" stroke="#f3287f" stroke-width="8.8" stroke-linecap="round" stroke-dasharray="0 6.41"/>
<line x1="1183.2" y1="747.4" x2="1301.1" y2="712" stroke="#c9246a" stroke-width="11.8" stroke-linecap="round" stroke-dasharray="0 8.55"/>
<line x1="1256.8" y1="669.3" x2="1333.5" y2="636.8" stroke="#f3287f" stroke-width="10" stroke-linecap="round" stroke-dasharray="0 7.25"/>
<line x1="1301.1" y1="670.7" x2="1333.5" y2="658.9" stroke="#8e2446" stroke-width="13" stroke-linecap="round" stroke-dasharray="0 9.42"/>
<circle cx="1194.2" cy="631.7" r="19.9" fill="#2a55ee" />
<circle cx="1270.1" cy="633.2" r="19.9" fill="#2a55ee" />
<circle cx="1158.1" cy="651.6" r="18.9" fill="#2a55ee" />
<circle cx="1228.8" cy="656.7" r="19.9" fill="#2a55ee" />
<circle cx="1184.6" cy="678.8" r="19.9" fill="#2a55ee" />
<circle cx="1119.1" cy="661.9" r="19.9" fill="#2a55ee" />
<circle cx="1140.4" cy="697.3" r="19.9" fill="#2a55ee" />
<circle cx="1156.6" cy="618.4" r="18" fill="#2a55ee" />
<circle cx="1231.8" cy="614" r="16.5" fill="#2a55ee" />
<circle cx="1099.2" cy="695.8" r="13.3" fill="#2a55ee" />
<circle cx="1116.8" cy="628" r="16.2" fill="#2a55ee" />
</g>
<clipPath id="e2"><ellipse cx="1216.7" cy="845.7" rx="119.7" ry="63.9"/></clipPath>
<g clip-path="url(#e2)">
<rect x="1095" y="780" width="245" height="132" fill="#ee217e"/>
<line x1="1124.2" y1="808.6" x2="1337.9" y2="877.9" stroke="#d81f70" stroke-width="17.68421052631579" opacity="0.55"/>
<line x1="1094.7" y1="836.6" x2="1286.3" y2="904.4" stroke="#d81f70" stroke-width="16.210526315789473" opacity="0.55"/>
<line x1="1175.8" y1="782.1" x2="1345.3" y2="842.5" stroke="#d81f70" stroke-width="8.842105263157896" opacity="0.55"/>
<line x1="1183.2" y1="788.7" x2="1333.5" y2="841.1" stroke="#b3235a" stroke-width="13" stroke-linecap="round" stroke-dasharray="0 11.60"/>
<line x1="1143.4" y1="799.1" x2="1227.4" y2="824.8" stroke="#b3235a" stroke-width="13" stroke-linecap="round" stroke-dasharray="0 11.60"/>
<line x1="1233.3" y1="828.5" x2="1330.5" y2="868.3" stroke="#b3235a" stroke-width="13" stroke-linecap="round" stroke-dasharray="0 11.60"/>
<line x1="1131.6" y1="809.4" x2="1215.6" y2="835.9" stroke="#b3235a" stroke-width="13" stroke-linecap="round" stroke-dasharray="0 11.60"/>
<line x1="1221.5" y1="842.5" x2="1301.1" y2="876.4" stroke="#b3235a" stroke-width="13" stroke-linecap="round" stroke-dasharray="0 11.60"/>
<line x1="1106.5" y1="823.4" x2="1274.5" y2="886" stroke="#b3235a" stroke-width="13" stroke-linecap="round" stroke-dasharray="0 11.60"/>
<line x1="1113.9" y1="835.9" x2="1268.6" y2="892.6" stroke="#b3235a" stroke-width="13" stroke-linecap="round" stroke-dasharray="0 11.60"/>
<line x1="1144.8" y1="866.1" x2="1245.1" y2="905.2" stroke="#b3235a" stroke-width="13" stroke-linecap="round" stroke-dasharray="0 11.60"/>
<line x1="1276" y1="854.3" x2="1330.5" y2="877.9" stroke="#b3235a" stroke-width="13" stroke-linecap="round" stroke-dasharray="0 11.60"/>
<path d="M1273.5 863.9q9.6 0 12.8 -6.4q0 4.8 12.8 6.4q-9.6 0 -12.8 6.4q0 -4.8 -12.8 -6.4z" fill="#fff" stroke="none" stroke-width="0" />
<path d="M1212.1 832.9q4.8 0 6.4 -3.2q0 2.4 6.4 3.2q-4.8 0 -6.4 3.2q0 -2.4 -6.4 -3.2z" fill="#fff" stroke="none" stroke-width="0" />
<path d="M1174.6 816.7q4.2 0 5.6 -2.8q0 2.1 5.6 2.8q-4.2 0 -5.6 2.8q0 -2.1 -5.6 -2.8z" fill="#fff" stroke="none" stroke-width="0" />
<path d="M1162.1 812.3q3.6 0 4.8 -2.4q0 1.8 4.8 2.4q-3.6 0 -4.8 2.4q0 -1.8 -4.8 -2.4z" fill="#fff" stroke="none" stroke-width="0" />
<path d="M1148.2 807.9q3 0 4 -2q0 1.5 4 2q-3 0 -4 2q0 -1.5 -4 -2z" fill="#fff" stroke="none" stroke-width="0" />
</g>
<clipPath id="e3"><ellipse cx="1213.7" cy="1013" rx="116.8" ry="61.2"/></clipPath>
<g clip-path="url(#e3)">
<rect x="1095" y="950" width="245" height="130" fill="#fff"/>
<circle cx="1114.7" cy="982.3" r="17.9" fill="none" stroke="#ee1f7c" stroke-width="5.4" stroke-linecap="round" stroke-dasharray="0 4.17"/>
<circle cx="1152.8" cy="967.2" r="17.9" fill="none" stroke="#ee1f7c" stroke-width="5.4" stroke-linecap="round" stroke-dasharray="0 4.17"/>
<circle cx="1186.9" cy="952.6" r="17.9" fill="none" stroke="#ee1f7c" stroke-width="5.4" stroke-linecap="round" stroke-dasharray="0 4.17"/>
<circle cx="1225.9" cy="941.5" r="17.9" fill="none" stroke="#ee1f7c" stroke-width="5.4" stroke-linecap="round" stroke-dasharray="0 4.17"/>
<circle cx="1108.2" cy="1017.2" r="17.9" fill="none" stroke="#ee1f7c" stroke-width="5.4" stroke-linecap="round" stroke-dasharray="0 4.17"/>
<circle cx="1143" cy="1004.3" r="17.9" fill="none" stroke="#ee1f7c" stroke-width="5.4" stroke-linecap="round" stroke-dasharray="0 4.17"/>
<circle cx="1181.7" cy="995.5" r="17.9" fill="none" stroke="#ee1f7c" stroke-width="5.4" stroke-linecap="round" stroke-dasharray="0 4.17"/>
<circle cx="1216.7" cy="981.6" r="17.9" fill="none" stroke="#ee1f7c" stroke-width="5.4" stroke-linecap="round" stroke-dasharray="0 4.17"/>
<circle cx="1254.6" cy="964.9" r="17.9" fill="none" stroke="#ee1f7c" stroke-width="5.4" stroke-linecap="round" stroke-dasharray="0 4.17"/>
<circle cx="1294.3" cy="953.7" r="17.9" fill="none" stroke="#ee1f7c" stroke-width="5.4" stroke-linecap="round" stroke-dasharray="0 4.17"/>
<circle cx="1096.7" cy="1057.7" r="17.9" fill="none" stroke="#ee1f7c" stroke-width="5.4" stroke-linecap="round" stroke-dasharray="0 4.17"/>
<circle cx="1135.3" cy="1046.3" r="17.9" fill="none" stroke="#ee1f7c" stroke-width="5.4" stroke-linecap="round" stroke-dasharray="0 4.17"/>
<circle cx="1173.4" cy="1032.9" r="17.9" fill="none" stroke="#ee1f7c" stroke-width="5.4" stroke-linecap="round" stroke-dasharray="0 4.17"/>
<circle cx="1213.1" cy="1016.8" r="17.9" fill="none" stroke="#ee1f7c" stroke-width="5.4" stroke-linecap="round" stroke-dasharray="0 4.17"/>
<circle cx="1245.6" cy="1004.3" r="17.9" fill="none" stroke="#ee1f7c" stroke-width="5.4" stroke-linecap="round" stroke-dasharray="0 4.17"/>
<circle cx="1284.8" cy="993.6" r="17.9" fill="none" stroke="#ee1f7c" stroke-width="5.4" stroke-linecap="round" stroke-dasharray="0 4.17"/>
<circle cx="1324" cy="979.7" r="17.9" fill="none" stroke="#ee1f7c" stroke-width="5.4" stroke-linecap="round" stroke-dasharray="0 4.17"/>
<circle cx="1164.2" cy="1073" r="17.9" fill="none" stroke="#ee1f7c" stroke-width="5.4" stroke-linecap="round" stroke-dasharray="0 4.17"/>
<circle cx="1202.9" cy="1055.7" r="17.9" fill="none" stroke="#ee1f7c" stroke-width="5.4" stroke-linecap="round" stroke-dasharray="0 4.17"/>
<circle cx="1241" cy="1044.9" r="17.9" fill="none" stroke="#ee1f7c" stroke-width="5.4" stroke-linecap="round" stroke-dasharray="0 4.17"/>
<circle cx="1277.7" cy="1030.3" r="17.9" fill="none" stroke="#ee1f7c" stroke-width="5.4" stroke-linecap="round" stroke-dasharray="0 4.17"/>
<circle cx="1313.3" cy="1019.6" r="17.9" fill="none" stroke="#ee1f7c" stroke-width="5.4" stroke-linecap="round" stroke-dasharray="0 4.17"/>
<circle cx="1196.2" cy="1094.2" r="17.9" fill="none" stroke="#ee1f7c" stroke-width="5.4" stroke-linecap="round" stroke-dasharray="0 4.17"/>
<circle cx="1232.3" cy="1083.3" r="17.9" fill="none" stroke="#ee1f7c" stroke-width="5.4" stroke-linecap="round" stroke-dasharray="0 4.17"/>
<circle cx="1268.3" cy="1073.2" r="17.9" fill="none" stroke="#ee1f7c" stroke-width="5.4" stroke-linecap="round" stroke-dasharray="0 4.17"/>
<circle cx="1308.9" cy="1058" r="17.9" fill="none" stroke="#ee1f7c" stroke-width="5.4" stroke-linecap="round" stroke-dasharray="0 4.17"/>
<path d="M1097.7 982.3a17 16.6 0 1 0 34 0a17 16.6 0 1 0 -34 0M1135.8 967.2a17 16.6 0 1 0 34 0a17 16.6 0 1 0 -34 0M1169.9 952.6a17 16.6 0 1 0 34 0a17 16.6 0 1 0 -34 0M1208.9 941.5a17 16.6 0 1 0 34 0a17 16.6 0 1 0 -34 0M1091.2 1017.2a17 16.6 0 1 0 34 0a17 16.6 0 1 0 -34 0M1126 1004.3a17 16.6 0 1 0 34 0a17 16.6 0 1 0 -34 0M1164.7 995.5a17 16.6 0 1 0 34 0a17 16.6 0 1 0 -34 0M1199.7 981.6a17 16.6 0 1 0 34 0a17 16.6 0 1 0 -34 0M1237.6 964.9a17 16.6 0 1 0 34 0a17 16.6 0 1 0 -34 0M1277.3 953.7a17 16.6 0 1 0 34 0a17 16.6 0 1 0 -34 0M1079.7 1057.7a17 16.6 0 1 0 34 0a17 16.6 0 1 0 -34 0M1118.3 1046.3a17 16.6 0 1 0 34 0a17 16.6 0 1 0 -34 0M1156.4 1032.9a17 16.6 0 1 0 34 0a17 16.6 0 1 0 -34 0M1196.1 1016.8a17 16.6 0 1 0 34 0a17 16.6 0 1 0 -34 0M1228.6 1004.3a17 16.6 0 1 0 34 0a17 16.6 0 1 0 -34 0M1267.8 993.6a17 16.6 0 1 0 34 0a17 16.6 0 1 0 -34 0M1307 979.7a17 16.6 0 1 0 34 0a17 16.6 0 1 0 -34 0M1147.2 1073a17 16.6 0 1 0 34 0a17 16.6 0 1 0 -34 0M1185.9 1055.7a17 16.6 0 1 0 34 0a17 16.6 0 1 0 -34 0M1224 1044.9a17 16.6 0 1 0 34 0a17 16.6 0 1 0 -34 0M1260.7 1030.3a17 16.6 0 1 0 34 0a17 16.6 0 1 0 -34 0M1296.3 1019.6a17 16.6 0 1 0 34 0a17 16.6 0 1 0 -34 0M1179.2 1094.2a17 16.6 0 1 0 34 0a17 16.6 0 1 0 -34 0M1215.3 1083.3a17 16.6 0 1 0 34 0a17 16.6 0 1 0 -34 0M1251.3 1073.2a17 16.6 0 1 0 34 0a17 16.6 0 1 0 -34 0M1291.9 1058a17 16.6 0 1 0 34 0a17 16.6 0 1 0 -34 0" fill="#2a55ee" stroke="none" stroke-width="0" />
</g>
<circle cx="1557.7" cy="899.7" r="24.3" fill="#f8579b" stroke="#6b1d3c" stroke-width="1"/>
<circle cx="1606.6" cy="902.2" r="24.3" fill="#f8579b" stroke="#6b1d3c" stroke-width="1"/>
<circle cx="1656.2" cy="910.1" r="24.3" fill="#f8579b" stroke="#6b1d3c" stroke-width="1"/>
<circle cx="1705.1" cy="905.4" r="24.3" fill="#f8579b" stroke="#6b1d3c" stroke-width="1"/>
<circle cx="1754.4" cy="902.2" r="24.3" fill="#f8579b" stroke="#6b1d3c" stroke-width="1"/>
<circle cx="1557.7" cy="987.3" r="24.3" fill="#f8579b" stroke="#6b1d3c" stroke-width="1"/>
<circle cx="1606" cy="987.3" r="24.3" fill="#f8579b" stroke="#6b1d3c" stroke-width="1"/>
<circle cx="1655.3" cy="987.3" r="24.3" fill="#f8579b" stroke="#6b1d3c" stroke-width="1"/>
<circle cx="1704.5" cy="987.3" r="24.3" fill="#f8579b" stroke="#6b1d3c" stroke-width="1"/>
<circle cx="1753.8" cy="987.3" r="24.3" fill="#f8579b" stroke="#6b1d3c" stroke-width="1"/>
<circle cx="1637.3" cy="782.6" r="20.8" fill="#f8579b" stroke="#6b1d3c" stroke-width="1"/>
<circle cx="1677.1" cy="782.6" r="20.8" fill="#f8579b" stroke="#6b1d3c" stroke-width="1"/>
<circle cx="1608.8" cy="806.3" r="20.8" fill="#f8579b" stroke="#6b1d3c" stroke-width="1"/>
<circle cx="1697.9" cy="809.2" r="20.8" fill="#f8579b" stroke="#6b1d3c" stroke-width="1"/>
<circle cx="1608.8" cy="848" r="20.8" fill="#f8579b" stroke="#6b1d3c" stroke-width="1"/>
<circle cx="1697.9" cy="848.9" r="20.8" fill="#f8579b" stroke="#6b1d3c" stroke-width="1"/>
<circle cx="1637.3" cy="867.9" r="20.8" fill="#f8579b" stroke="#6b1d3c" stroke-width="1"/>
<circle cx="1677.1" cy="867.9" r="20.8" fill="#f8579b" stroke="#6b1d3c" stroke-width="1"/>
<rect x="1532.7" y="897.8" width="246.3" height="94.2" fill="#2a55ee" stroke="none" stroke-width="0"/>
<circle cx="1657.2" cy="829.4" r="52.7" fill="#2a55ee" />
<ellipse cx="803.8" cy="794.3" rx="28.7" ry="19.2" fill="none" stroke="#f7e81c" stroke-width="3.9"/>
<ellipse cx="877.1" cy="852.3" rx="28.7" ry="19.2" fill="none" stroke="#f7e81c" stroke-width="3.9"/>
<ellipse cx="927.8" cy="896.1" rx="31.5" ry="20.5" fill="none" stroke="#f7e81c" stroke-width="3.9"/>
<ellipse cx="1234" cy="668.5" rx="31.7" ry="21.4" fill="none" stroke="#f7e81c" stroke-width="3.9"/>
<ellipse cx="1202.3" cy="825.3" rx="31.7" ry="20.6" fill="none" stroke="#f7e81c" stroke-width="3.9"/>
<ellipse cx="1213.8" cy="1031.4" rx="31.5" ry="21" fill="none" stroke="#f7e81c" stroke-width="3.9"/>
<line x1="425" y1="824.6" x2="494" y2="824.6" stroke="#000" stroke-width="7.1" /><path d="M533.5 824.6L492 834.8L492 814.4z" fill="#000" stroke="none" stroke-width="0" />
<line x1="834" y1="792" x2="1067.8" y2="695.8" stroke="#000" stroke-width="3.2" /><path d="M1095.5 684.4L1068.7 703.4L1063.1 689.7z" fill="#000" stroke="none" stroke-width="0" />
<line x1="910.3" y1="851.2" x2="1059" y2="851.2" stroke="#000" stroke-width="3.2" /><path d="M1089 851.2L1057 858.6L1057 843.8z" fill="#000" stroke="none" stroke-width="0" />
<line x1="936.6" y1="916.3" x2="1067.6" y2="998.1" stroke="#000" stroke-width="3.2" /><path d="M1093 1014L1061.9 1003.3L1069.8 990.8z" fill="#000" stroke="none" stroke-width="0" />
<line x1="1268" y1="672" x2="1496.1" y2="844.4" stroke="#000" stroke-width="3.2" /><path d="M1520 862.5L1490 849.1L1498.9 837.3z" fill="#000" stroke="none" stroke-width="0" />
<line x1="1232" y1="842" x2="1482.8" y2="876.9" stroke="#000" stroke-width="3.2" /><path d="M1512.5 881L1479.8 883.9L1481.8 869.3z" fill="#000" stroke="none" stroke-width="0" />
<line x1="1250" y1="1036" x2="1485.4" y2="923.4" stroke="#000" stroke-width="3.2" /><path d="M1512.5 910.5L1486.8 931L1480.4 917.6z" fill="#000" stroke="none" stroke-width="0" />
</g>
<g id="pe">
<clipPath id="ce"><rect x="83.4" y="1199.7" width="463.4" height="400.5"/></clipPath>
<g clip-path="url(#ce)">
<polyline points="83.5,1318.9 134.7,1318.5 188.6,1316.5 229.1,1314.8 245.9,1313.5 256,1307.4 266.1,1291.3 276.2,1271.1 288,1249.2 298.1,1241.4 311.6,1236.7 323.4,1239.1 333.5,1247.5 343.6,1264.3 353.7,1287.9 362.1,1308.1 368.8,1315.5 380.6,1316.2 404.2,1317.5 434.5,1318.5 446.3,1317.9 471.6,1318.9 546.7,1318.9" fill="none" stroke="#157f1c" stroke-width="3.7" stroke-linejoin="round" />
<polyline points="63.4,1457.1 93.1,1457.1 97.8,1455.3 100.8,1444.6 102.9,1401.8 104.5,1379.1 106.6,1374.1 108.6,1379.1 109.9,1405.3 111.6,1436.3 114,1448.2 117,1455.9 120,1457.1 139.4,1457.1 144.2,1455.3 147.2,1444.6 149.2,1401.8 150.9,1379.1 152.9,1374.1 154.9,1379.1 156.3,1405.3 158,1436.3 160.3,1448.2 163.4,1455.9 166.4,1457.1 185.8,1457.1 190.5,1455.3 193.5,1444.6 195.5,1401.8 197.2,1379.1 199.2,1374.1 201.3,1379.1 202.6,1405.3 204.3,1436.3 206.7,1448.2 209.7,1455.9 212.7,1457.1 232.1,1457.1 236.8,1455.3 239.9,1444.6 241.9,1401.8 243.6,1379.1 245.6,1374.1 247.6,1379.1 249,1405.3 250.6,1436.3 253,1448.2 256,1455.9 259.1,1457.1 278.5,1457.1 283.2,1455.3 286.2,1444.6 288.2,1401.8 289.9,1379.1 291.9,1374.1 294,1379.1 295.3,1405.3 297,1436.3 299.3,1448.2 302.4,1455.9 305.4,1457.1 324.8,1457.1 329.5,1455.3 332.5,1444.6 334.6,1401.8 336.2,1379.1 338.3,1374.1 340.3,1379.1 341.6,1405.3 343.3,1436.3 345.7,1448.2 348.7,1455.9 351.7,1457.1 371.1,1457.1 375.9,1455.3 378.9,1444.6 380.9,1401.8 382.6,1379.1 384.6,1374.1 386.6,1379.1 388,1405.3 389.7,1436.3 392,1448.2 395.1,1455.9 398.1,1457.1 417.5,1457.1 422.2,1455.3 425.2,1444.6 427.2,1401.8 428.9,1379.1 431,1374.1 433,1379.1 434.3,1405.3 436,1436.3 438.4,1448.2 441.4,1455.9 444.4,1457.1 463.8,1457.1 468.5,1455.3 471.6,1444.6 473.6,1401.8 475.3,1379.1 477.3,1374.1 479.3,1379.1 480.7,1405.3 482.3,1436.3 484.7,1448.2 487.7,1455.9 490.8,1457.1 510.2,1457.1 514.9,1455.3 517.9,1444.6 519.9,1401.8 521.6,1379.1 523.6,1374.1 525.7,1379.1 527,1405.3 528.7,1436.3 531,1448.2 534.1,1455.9 537.1,1457.1 551.8,1457.1" fill="none" stroke="#7d0d0d" stroke-width="3.7" stroke-linejoin="round" />
<polyline points="78.4,1583 92,1583 99,1507.8 100.1,1507.8 107.8,1583 109.6,1583 117.2,1507.8 118.4,1507.8 126,1583 127.8,1583 135.5,1507.8 136.6,1507.8 144.2,1583 146.1,1583 153.7,1507.8 154.8,1507.8 162.4,1583 164.3,1583 171.9,1507.8 173,1507.8 180.7,1583 182.5,1583 190.1,1507.8 191.3,1507.8 198.9,1583 200.7,1583 208.4,1507.8 209.5,1507.8 217.1,1583 219,1583 226.6,1507.8 227.7,1507.8 235.3,1583 237.2,1583 244.8,1507.8 245.9,1507.8 253.6,1583 255.4,1583 263,1507.8 264.2,1507.8 271.8,1583 273.6,1583 281.3,1507.8 282.4,1507.8 290,1583 291.9,1583 299.5,1507.8 300.6,1507.8 308.2,1583 310.1,1583 317.7,1507.8 318.8,1507.8 326.5,1583 328.3,1583 335.9,1507.8 337.1,1507.8 344.7,1583 346.5,1583 354.2,1507.8 355.3,1507.8 362.9,1583 364.8,1583 372.4,1507.8 373.5,1507.8 381.1,1583 383,1583 390.6,1507.8 391.7,1507.8 399.4,1583 401.2,1583 408.9,1507.8 410,1507.8 417.6,1583 419.4,1583 427.1,1507.8 428.2,1507.8 435.8,1583 437.7,1583 445.3,1507.8 446.4,1507.8 454,1583 455.9,1583 463.5,1507.8 464.6,1507.8 472.3,1583 474.1,1583 481.8,1507.8 482.9,1507.8 490.5,1583 492.3,1583 500,1507.8 501.1,1507.8 508.7,1583 510.6,1583 518.2,1507.8 519.3,1507.8 526.9,1583 528.8,1583 536.4,1507.8 537.5,1507.8 545.2,1583 547,1583" fill="none" stroke="#0a0a80" stroke-width="3.7" stroke-linejoin="round" />
</g>
<rect x="83.4" y="1199.7" width="463.4" height="400.5" fill="none" stroke="#000" stroke-width="1.5"/>
<line x1="83.4" y1="1337" x2="546.8" y2="1337" stroke="#000" stroke-width="1.5" />
<line x1="83.4" y1="1473.9" x2="546.8" y2="1473.9" stroke="#000" stroke-width="1.5" />
<path d="M176.1 1600.2v-7.5M268.8 1600.2v-7.5M361.4 1600.2v-7.5M454.1 1600.2v-7.5" stroke="#000" stroke-width="1.5" fill="none"/>
<path d="M129.7 1600.2v-4M222.4 1600.2v-4M315.1 1600.2v-4M407.8 1600.2v-4M500.5 1600.2v-4" stroke="#000" stroke-width="1.5" fill="none"/>
<path d="M83.4 1258.6h7.5" stroke="#000" stroke-width="1.5" fill="none"/>
<path d="M83.4 1288.5h4M83.4 1228.7h4" stroke="#000" stroke-width="1.5" fill="none"/>
<path d="M83.4 1395.8h7.5" stroke="#000" stroke-width="1.5" fill="none"/>
<path d="M83.4 1425.5h4M83.4 1366h4" stroke="#000" stroke-width="1.5" fill="none"/>
<path d="M83.4 1528.5h7.5" stroke="#000" stroke-width="1.5" fill="none"/>
<path d="M83.4 1555.8h4M83.4 1501.2h4" stroke="#000" stroke-width="1.5" fill="none"/>
<text x="70.5" y="1327.2" font-size="25" fill="#000" text-anchor="end" stroke="#000" stroke-width="0.15" >0</text>
<text x="70.5" y="1269.6" font-size="25" fill="#000" text-anchor="end" stroke="#000" stroke-width="0.15" >5</text>
<text x="70.5" y="1210.5" font-size="25" fill="#000" text-anchor="end" stroke="#000" stroke-width="0.15" >10</text>
<text x="70.5" y="1462.2" font-size="25" fill="#000" text-anchor="end" stroke="#000" stroke-width="0.15" >0</text>
<text x="70.5" y="1404.3" font-size="25" fill="#000" text-anchor="end" stroke="#000" stroke-width="0.15" >5</text>
<text x="70.5" y="1346.4" font-size="25" fill="#000" text-anchor="end" stroke="#000" stroke-width="0.15" >10</text>
<text x="70.5" y="1598.9" font-size="25" fill="#000" text-anchor="end" stroke="#000" stroke-width="0.15" >0</text>
<text x="70.5" y="1541.7" font-size="25" fill="#000" text-anchor="end" stroke="#000" stroke-width="0.15" >5</text>
<text x="70.5" y="1483.2" font-size="25" fill="#000" text-anchor="end" stroke="#000" stroke-width="0.15" >10</text>
<text x="79.5" y="1627" font-size="24" fill="#000" text-anchor="middle" stroke="#000" stroke-width="0.15" >0.0</text>
<text x="173.3" y="1627" font-size="24" fill="#000" text-anchor="middle" stroke="#000" stroke-width="0.15" >0.2</text>
<text x="267.5" y="1627" font-size="24" fill="#000" text-anchor="middle" stroke="#000" stroke-width="0.15" >0.4</text>
<text x="361.4" y="1627" font-size="24" fill="#000" text-anchor="middle" stroke="#000" stroke-width="0.15" >0.6</text>
<text x="455" y="1627" font-size="24" fill="#000" text-anchor="middle" stroke="#000" stroke-width="0.15" >0.8</text>
<text x="535.5" y="1627" font-size="24" fill="#000" text-anchor="start" stroke="#000" stroke-width="0.15" >1.</text>
<text x="316.3" y="1663" font-size="24" fill="#000" text-anchor="middle" stroke="#000" stroke-width="0.15" >Time (s)</text>
<text transform="translate(24.3 1399) rotate(-90)" font-size="25" fill="#000" stroke="#000" stroke-width="0.15" text-anchor="middle">ΔI/I<tspan font-size="16.5" dy="10.4" dx="-0.5">0</tspan></text>
<text x="5.5" y="1224.6" font-size="68" fill="#000" text-anchor="start" stroke="#000" stroke-width="0.3" >e</text>
<text x="113" y="1230.5" font-size="25" fill="#000" text-anchor="start" stroke="#000" stroke-width="0.15" >1 Hz</text>
<text x="103" y="1364.5" font-size="25" fill="#000" text-anchor="start" stroke="#000" stroke-width="0.15" >10 Hz</text>
<text x="100" y="1499" font-size="24.5" fill="#000" text-anchor="start" stroke="#000" stroke-width="0.15" >25 Hz</text>
</g>
<g id="pf">
<clipPath id="cf"><rect x="694.9" y="1199" width="540.4" height="401.3"/></clipPath>
<g clip-path="url(#cf)">
<polyline points="695.6,1598 714.7,1598 743.1,1597.2 768.2,1596.5 787.7,1595.4 798.7,1571.1 804.3,1549.3 812,1536.4 821.9,1510.3 830.8,1490.4 841.5,1463.5 852.2,1441.4 860.3,1421.1 868.7,1400.1 875.7,1376.9 881.6,1360.7 886.4,1344.5 893.8,1327.2 903.4,1300.7 914.4,1271.5 924,1259 937.6,1248.7 948.7,1248 960.8,1259 966.4,1268.2 972.6,1283.7 980.7,1301.4 990.7,1327.2 997.7,1345.6 1006.9,1373.2 1011.7,1388 1017.9,1404.5 1024.9,1421.9 1030.1,1440.3 1036.4,1461.7 1043.4,1479.3 1049.3,1495.9 1059.9,1518.8 1066.6,1537.2 1073.9,1558.2 1081.3,1570.3 1089.4,1586.2 1092.4,1595.4 1108.9,1595.4 1127.4,1595.4 1142.1,1596.1 1162.4,1595.8 1181.9,1596.1 1202.9,1595.8 1223.2,1595.8" fill="none" stroke="#157f1c" stroke-width="4" stroke-linejoin="round" />
<path d="M691.6 1594h8v8h-8zM710.7 1594h8v8h-8zM739.1 1593.2h8v8h-8zM764.2 1592.5h8v8h-8zM783.7 1591.4h8v8h-8zM794.7 1567.1h8v8h-8zM800.3 1545.3h8v8h-8zM808 1532.4h8v8h-8zM817.9 1506.3h8v8h-8zM826.8 1486.4h8v8h-8zM837.5 1459.5h8v8h-8zM848.2 1437.4h8v8h-8zM856.3 1417.1h8v8h-8zM864.7 1396.1h8v8h-8zM871.7 1372.9h8v8h-8zM877.6 1356.7h8v8h-8zM882.4 1340.5h8v8h-8zM889.8 1323.2h8v8h-8zM899.4 1296.7h8v8h-8zM910.4 1267.5h8v8h-8zM920 1255h8v8h-8zM933.6 1244.7h8v8h-8zM944.7 1244h8v8h-8zM956.8 1255h8v8h-8zM962.4 1264.2h8v8h-8zM968.6 1279.7h8v8h-8zM976.7 1297.4h8v8h-8zM986.7 1323.2h8v8h-8zM993.7 1341.6h8v8h-8zM1002.9 1369.2h8v8h-8zM1007.7 1384h8v8h-8zM1013.9 1400.5h8v8h-8zM1020.9 1417.9h8v8h-8zM1026.1 1436.3h8v8h-8zM1032.4 1457.7h8v8h-8zM1039.4 1475.3h8v8h-8zM1045.3 1491.9h8v8h-8zM1055.9 1514.8h8v8h-8zM1062.6 1533.2h8v8h-8zM1069.9 1554.2h8v8h-8zM1077.3 1566.3h8v8h-8zM1085.4 1582.2h8v8h-8zM1088.4 1591.4h8v8h-8zM1104.9 1591.4h8v8h-8zM1123.4 1591.4h8v8h-8zM1138.1 1592.1h8v8h-8zM1158.4 1591.8h8v8h-8zM1177.9 1592.1h8v8h-8zM1198.9 1591.8h8v8h-8zM1219.2 1591.8h8v8h-8z" fill="#157f1c" stroke="none" stroke-width="0" />
</g>
<rect x="694.9" y="1199" width="540.4" height="401.3" fill="none" stroke="#000" stroke-width="1.5"/>
<path d="M875 1600.3v-7.5M1055.2 1600.3v-7.5" stroke="#000" stroke-width="1.5" fill="none"/>
<path d="M785 1600.3v-4M965.1 1600.3v-4M1145.2 1600.3v-4" stroke="#000" stroke-width="1.5" fill="none"/>
<path d="M694.9 1466.5h7.5M694.9 1332.8h7.5" stroke="#000" stroke-width="1.5" fill="none"/>
<path d="M694.9 1533.4h4M694.9 1399.7h4M694.9 1265.9h4" stroke="#000" stroke-width="1.5" fill="none"/>
<text x="695.3" y="1630.2" font-size="28" fill="#000" text-anchor="middle" stroke="#000" stroke-width="0.15" >0.00</text>
<text x="875.4" y="1630.2" font-size="28" fill="#000" text-anchor="middle" stroke="#000" stroke-width="0.15" >0.02</text>
<text x="1055.6" y="1630.2" font-size="28" fill="#000" text-anchor="middle" stroke="#000" stroke-width="0.15" >0.04</text>
<text x="1235.7" y="1630.2" font-size="28" fill="#000" text-anchor="middle" stroke="#000" stroke-width="0.15" >0.06</text>
<text x="686" y="1608.6" font-size="28" fill="#000" text-anchor="end" stroke="#000" stroke-width="0.15" >0.00</text>
<text x="686" y="1474.8" font-size="28" fill="#000" text-anchor="end" stroke="#000" stroke-width="0.15" >0.06</text>
<text x="686" y="1341.1" font-size="28" fill="#000" text-anchor="end" stroke="#000" stroke-width="0.15" >0.12</text>
<text x="686" y="1207.3" font-size="28" fill="#000" text-anchor="end" stroke="#000" stroke-width="0.15" >0.18</text>
<text x="965" y="1663" font-size="28" fill="#000" text-anchor="middle" stroke="#000" stroke-width="0.15" >Time (s)</text>
<text transform="translate(606 1395) rotate(-90)" font-size="28" fill="#000" stroke="#000" stroke-width="0.15" text-anchor="middle">Current (mA)</text>
<text x="587.5" y="1233.5" font-size="72" fill="#000" text-anchor="start" stroke="#000" stroke-width="0.3" >f</text>
<text x="1071" y="1288.5" font-size="27" fill="#000" text-anchor="start" stroke="#000" stroke-width="0.15" >10 KPa</text>
<text x="1070" y="1322.5" font-size="27.5" fill="#000" text-anchor="start" stroke="#000" stroke-width="0.15" >25 Hz</text>
<text x="752" y="1373.5" font-size="27.2" fill="#f5821f" text-anchor="start" stroke="#f5821f" stroke-width="0.15" >15 ms</text>
<line x1="788.5" y1="1397.5" x2="788.5" y2="1598" stroke="#000" stroke-width="2.6" stroke-dasharray="13 8"/>
<line x1="937.7" y1="1232.5" x2="937.7" y2="1439" stroke="#000" stroke-width="2.6" stroke-dasharray="13 8"/>
<line x1="798" y1="1421.5" x2="928" y2="1421.5" stroke="#000" stroke-width="2.4" />
<path d="M788.5 1421.5l13.5 -3.6v7.2z" fill="#000" stroke="none" stroke-width="0" />
<path d="M937 1421.5l-13.5 -3.6v7.2z" fill="#000" stroke="none" stroke-width="0" />
</g>
<g id="pg">
<polyline points="1332.5,1590.5 1337.3,1253.1 1337.9,1253.1 1342.1,1589.5 1343.3,1589.5 1347.6,1250.5 1348.2,1250.5 1352.4,1589.5 1353.6,1589.5 1357.8,1254.7 1358.4,1254.7 1362.7,1589.5 1363.9,1589.5 1368.1,1248.8 1368.7,1248.8 1372.9,1589.5 1374.1,1589.5 1378.4,1254.4 1379,1254.4 1383.2,1589.5 1384.4,1589.5 1388.6,1254.7 1389.2,1254.7 1393.5,1589.5 1394.7,1589.5 1398.9,1262.7 1399.5,1262.7 1403.7,1589.5 1404.9,1589.5 1409.2,1255.6 1409.8,1255.6 1414,1589.5 1415.2,1589.5 1419.4,1251 1420,1251 1424.3,1589.5 1425.5,1589.5 1429.7,1250.5 1430.3,1250.5 1434.5,1589.5 1435.7,1589.5 1440,1258.1 1440.5,1258.1 1444.8,1589.5 1446,1589.5 1450.2,1255.9 1450.8,1255.9 1455,1589.5 1456.2,1589.5 1460.5,1253.4 1461.1,1253.4 1465.3,1589.5 1466.5,1589.5 1470.7,1247.2 1471.3,1247.2 1475.6,1589.5 1476.8,1589.5 1481,1255.9 1481.6,1255.9 1485.8,1589.5 1487,1589.5 1491.3,1256.4 1491.9,1256.4 1496.1,1589.5 1497.3,1589.5 1501.5,1256.9 1502.1,1256.9 1506.4,1589.5 1507.6,1589.5 1511.8,1262.7 1512.4,1262.7 1516.6,1589.5 1517.8,1589.5 1522.1,1262.3 1522.7,1262.3 1526.9,1589.5 1528.1,1589.5 1532.3,1258.6 1532.9,1258.6 1537.2,1589.5 1538.4,1589.5 1542.6,1258.1 1543.2,1258.1 1547.4,1589.5 1548.6,1589.5 1552.9,1263.5 1553.5,1263.5 1557.7,1589.5 1558.9,1589.5 1563.1,1255.6 1563.7,1255.6 1568,1589.5 1569.2,1589.5 1573.4,1256.4 1574,1256.4 1578.2,1589.5 1579.4,1589.5 1583.7,1253.9 1584.3,1253.9 1589.1,1590.5" fill="none" stroke="#000" stroke-width="2.1" stroke-linejoin="round" />
<polyline points="1598.9,1590.5 1604.3,1248.8 1604.9,1248.8 1610.1,1589.5 1611.3,1589.5 1616.5,1256.4 1617.1,1256.4 1621.8,1589.5 1622.9,1589.5 1627.6,1258.1 1628.2,1258.1 1633,1589.5 1634.2,1589.5 1638.9,1253.4 1639.5,1253.4 1645.3,1589.5 1646.5,1589.5 1652.3,1257.3 1652.9,1257.3 1657.2,1589.5 1658.4,1589.5 1662.7,1255.6 1663.3,1255.6 1667.9,1589.5 1669.1,1589.5 1673.7,1250.5 1674.3,1250.5 1678.9,1589.5 1680.1,1589.5 1684.7,1263.2 1685.3,1263.2 1690.3,1589.5 1691.5,1589.5 1696.5,1248.8 1697.1,1248.8 1701.7,1589.5 1702.8,1589.5 1707.4,1253.9 1708,1253.9 1712.9,1589.5 1714,1589.5 1718.9,1256.4 1719.5,1256.4 1724.3,1589.5 1725.5,1589.5 1730.3,1255.6 1730.9,1255.6 1735.7,1589.5 1736.8,1589.5 1741.6,1259.3 1742.2,1259.3 1747,1589.5 1748.2,1589.5 1752.9,1256.9 1753.5,1256.9 1758.3,1589.5 1759.5,1589.5 1764.3,1255.6 1764.9,1255.6 1770.5,1589.5 1771.7,1589.5 1777.3,1248.8 1777.9,1248.8 1781.9,1589.5 1783.1,1589.5 1787.1,1249.2 1787.7,1249.2 1792.4,1589.5 1793.6,1589.5 1798.3,1253.4 1798.9,1253.4 1803.9,1589.5 1805.1,1589.5 1810.1,1250.9 1810.7,1250.9 1815.1,1589.5 1816.3,1589.5 1820.7,1258.4 1821.3,1258.4 1826.5,1589.5 1827.7,1589.5 1832.9,1255.6 1833.5,1255.6 1838.6,1589.5 1839.8,1589.5 1844.8,1250.9 1845.4,1250.9 1850.3,1589.5 1851.5,1589.5 1856.5,1255.2 1857.1,1255.2 1862.5,1590.5" fill="none" stroke="#000" stroke-width="2.1" stroke-linejoin="round" />
<path d="M1590 1596.5H1331V1200.4H1864.5V1596.5H1603" fill="none" stroke="#000" stroke-width="1.5" />
<line x1="1587" y1="1601.5" x2="1596" y2="1591.5" stroke="#000" stroke-width="1.3" />
<line x1="1594" y1="1601.5" x2="1603" y2="1591.5" stroke="#000" stroke-width="1.3" />
<path d="M1462.3 1596.5v-7.5M1718.6 1596.5v-7.5" stroke="#000" stroke-width="1.5" fill="none"/>
<path d="M1396.6 1596.5v-4M1528 1596.5v-4M1645.7 1596.5v-4M1791.5 1596.5v-4" stroke="#000" stroke-width="1.5" fill="none"/>
<path d="M1331 1494h7.5M1331 1396h7.5M1331 1298h7.5" stroke="#000" stroke-width="1.5" fill="none"/>
<path d="M1331 1543h4M1331 1445h4M1331 1347h4M1331 1249h4" stroke="#000" stroke-width="1.5" fill="none"/>
<text x="1322" y="1600" font-size="26" fill="#000" text-anchor="end" stroke="#000" stroke-width="0.15" >0</text>
<text x="1322" y="1502" font-size="26" fill="#000" text-anchor="end" stroke="#000" stroke-width="0.15" >2</text>
<text x="1322" y="1404" font-size="26" fill="#000" text-anchor="end" stroke="#000" stroke-width="0.15" >4</text>
<text x="1322" y="1306" font-size="26" fill="#000" text-anchor="end" stroke="#000" stroke-width="0.15" >6</text>
<text x="1322" y="1208" font-size="26" fill="#000" text-anchor="end" stroke="#000" stroke-width="0.15" >8</text>
<text x="1331" y="1624.6" font-size="26" fill="#000" text-anchor="middle" stroke="#000" stroke-width="0.15" >0.0</text>
<text x="1462" y="1624.6" font-size="26" fill="#000" text-anchor="middle" stroke="#000" stroke-width="0.15" >0.5</text>
<text x="1718" y="1624.6" font-size="26" fill="#000" text-anchor="middle" stroke="#000" stroke-width="0.15" >299.5</text>
<text x="1861" y="1624.6" font-size="26" fill="#000" text-anchor="middle" stroke="#000" stroke-width="0.15" >300.0</text>
<text x="1592" y="1661.5" font-size="26" fill="#000" text-anchor="middle" stroke="#000" stroke-width="0.15" >Time (s)</text>
<text transform="translate(1286 1397) rotate(-90)" font-size="25.5" fill="#000" stroke="#000" stroke-width="0.15" text-anchor="middle">ΔI/I<tspan font-size="16.5" dy="10" dx="-0.5">0</tspan></text>
<text x="1267" y="1224.5" font-size="68" fill="#000" text-anchor="start" stroke="#000" stroke-width="0.3" >g</text>
<text x="1379" y="1238" font-size="26.6" fill="#f5821f" text-anchor="start" stroke="#f5821f" stroke-width="0.15" >10 KPa</text>
<text x="1534" y="1238" font-size="26.6" fill="#f5821f" text-anchor="start" stroke="#f5821f" stroke-width="0.15" >25 Hz</text>
<text x="1687" y="1241.5" font-size="26.9" fill="#f5821f" text-anchor="start" stroke="#f5821f" stroke-width="0.15" >7500 Cycles</text>
</g>
</svg>
</body></html>
